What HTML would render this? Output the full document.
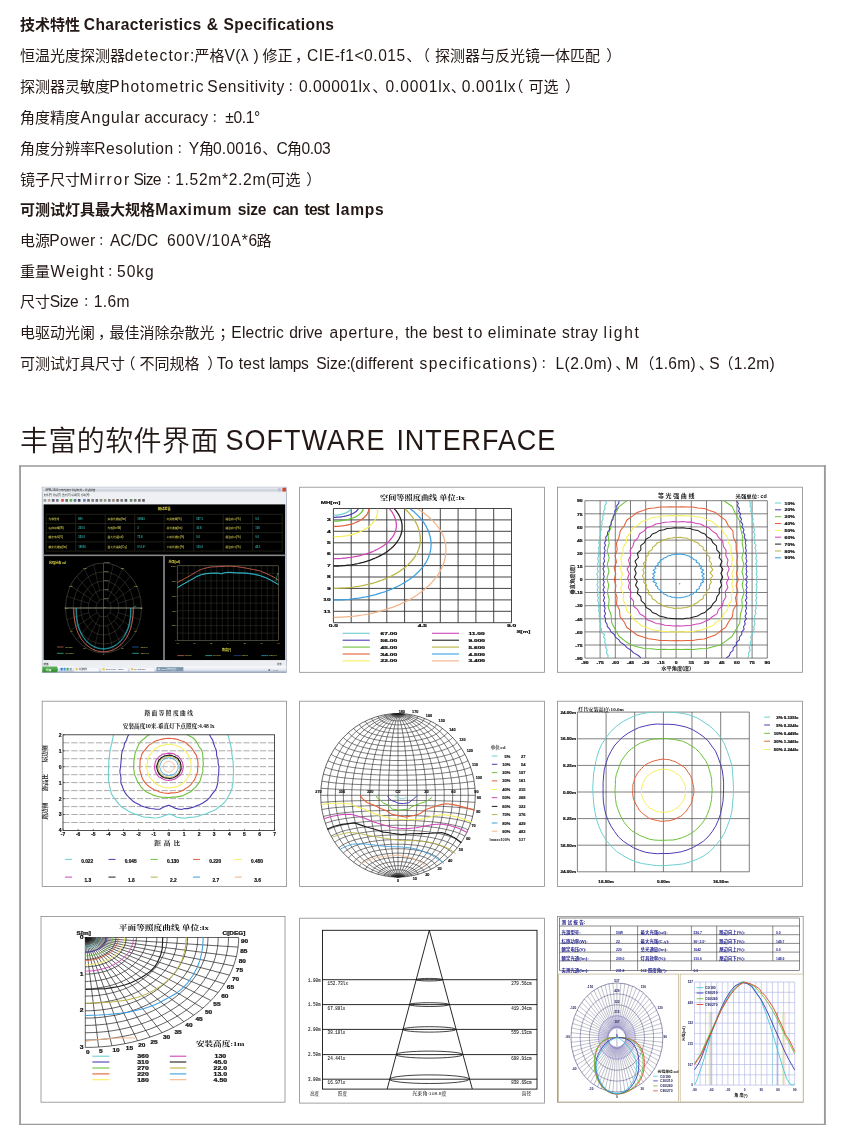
<!DOCTYPE html>
<html lang="zh-CN"><head><meta charset="utf-8"><title>技术特性 Characteristics &amp; Specifications</title>
<style>
html,body{margin:0;padding:0;background:#fff;}
body{width:847px;height:1143px;position:relative;overflow:hidden;font-family:"Liberation Sans","Noto Sans CJK SC",sans-serif;color:#231815;}
.l{position:absolute;left:0;width:847px;white-space:nowrap;font-size:15px;line-height:20px;height:20px;}
.l span,.h span{position:absolute;top:0;white-space:pre;}
.b{font-weight:700;}
.p{font-size:12px;}
.e{font-size:15.6px;}
.h{position:absolute;left:0;top:0;width:847px;white-space:nowrap;font-size:28px;line-height:40px;height:40px;}
.h .c{font-weight:350;font-size:28px;top:0.4px;letter-spacing:0.4px;}
.h .e{font-size:27px;transform:scaleY(1.065);transform-origin:0 29.36px;}
svg{position:absolute;left:0;top:0;}
</style></head>
<body>
<div class="l b" style="top:15.4px"><span style="left:20.0px">技术特性</span> <span class="e" style="left:83.86px;letter-spacing:0.323px">Characteristics</span> <span class="e" style="left:206.67px;letter-spacing:0.000px">&amp;</span> <span class="e" style="left:223.52px;letter-spacing:0.364px">Specifications</span></div>
<div class="l" style="top:46.3px"><span style="left:20.0px">恒温光度探测器</span><span class="e" style="left:124.72px;letter-spacing:1.109px">detector:</span><span style="left:194.5px">严格</span><span class="e" style="left:224.50px;letter-spacing:0.340px">V(λ )</span><span style="left:262.5px">修正</span><span style="left:295.00px">，</span><span class="e" style="left:307.06px;letter-spacing:0.535px">CIE-f1&lt;0.015</span><span style="left:406.25px">、</span><span style="left:415.00px">（</span><span style="left:435.0px">探测器与反光镜一体匹配</span><span style="left:606.25px">）</span></div>
<div class="l" style="top:77.3px"><span style="left:20.0px">探测器灵敏度</span><span class="e" style="left:109.31px;letter-spacing:1.097px">Photometric</span> <span class="e" style="left:207.32px;letter-spacing:0.676px">Sensitivity</span><span class="p" style="left:287.80px">：</span><span class="e" style="left:298.99px;letter-spacing:0.457px">0.00001lx</span><span style="left:372.25px">、</span><span class="e" style="left:385.49px;letter-spacing:0.847px">0.0001lx</span><span style="left:450.75px">、</span><span class="e" style="left:461.79px;letter-spacing:0.566px">0.001lx</span><span style="left:508.50px">（</span><span style="left:528.5px">可选</span><span style="left:564.95px">）</span></div>
<div class="l" style="top:108.3px"><span style="left:20.0px">角度精度</span><span class="e" style="left:80.50px;letter-spacing:0.922px">Angular</span> <span class="e" style="left:144.28px;letter-spacing:0.185px">accuracy</span><span class="p" style="left:211.80px">：</span><span class="e" style="left:225.19px;letter-spacing:-0.347px">±0.1°</span></div>
<div class="l" style="top:139.4px"><span style="left:20.0px">角度分辨率</span><span class="e" style="left:94.21px;letter-spacing:0.599px">Resolution</span><span class="p" style="left:176.80px">：</span><span class="e" style="left:188.80px;letter-spacing:0.000px">Y</span><span style="left:199.0px">角</span><span class="e" style="left:212.99px;letter-spacing:0.218px">0.0016</span><span style="left:262.25px">、</span><span class="e" style="left:276.62px;letter-spacing:0.000px">C</span><span style="left:287.0px">角</span><span class="e" style="left:301.49px;letter-spacing:-0.355px">0.03</span></div>
<div class="l" style="top:169.9px"><span style="left:20.0px">镜子尺寸</span><span class="e" style="left:79.41px;letter-spacing:1.811px">Mirror</span> <span class="e" style="left:133.52px;letter-spacing:-0.828px">Size</span><span class="p" style="left:165.80px">：</span><span class="e" style="left:175.21px;letter-spacing:0.679px">1.52m*2.2m(</span><span style="left:270.5px">可选</span><span style="left:306.25px">）</span></div>
<div class="l b" style="top:200.4px"><span style="left:20.0px">可测试灯具最大规格</span><span class="e" style="left:155.21px;letter-spacing:0.690px">Maximum</span> <span class="e" style="left:237.83px;letter-spacing:-0.312px">size</span> <span class="e" style="left:272.78px;letter-spacing:-0.485px">can</span> <span class="e" style="left:304.59px;letter-spacing:-0.847px">test</span> <span class="e" style="left:335.81px;letter-spacing:0.698px">lamps</span></div>
<div class="l" style="top:231.4px"><span style="left:20.0px">电源</span><span class="e" style="left:49.21px;letter-spacing:0.468px">Power</span><span class="p" style="left:98.30px">：</span><span class="e" style="left:110.00px;letter-spacing:-0.063px">AC/DC</span> <span class="e" style="left:166.88px;letter-spacing:0.795px">600V/10A*6</span><span style="left:256.5px">路</span></div>
<div class="l" style="top:261.9px"><span style="left:20.0px">重量</span><span class="e" style="left:50.50px;letter-spacing:1.003px">Weight</span><span class="p" style="left:107.30px">：</span><span class="e" style="left:117.06px;letter-spacing:0.963px">50kg</span></div>
<div class="l" style="top:292.4px"><span style="left:20.0px">尺寸</span><span class="e" style="left:49.72px;letter-spacing:-0.428px">Size</span><span class="p" style="left:83.30px">：</span><span class="e" style="left:93.71px;letter-spacing:0.368px">1.6m</span></div>
<div class="l" style="top:322.9px"><span style="left:20.0px">电驱动光阑</span><span style="left:98.00px">，</span><span style="left:109.5px">最佳消除杂散光</span><span style="left:219.25px">；</span><span class="e" style="left:231.31px;letter-spacing:0.193px">Electric</span> <span class="e" style="left:289.22px;letter-spacing:-0.063px">drive</span> <span class="e" style="left:329.38px;letter-spacing:0.873px">aperture,</span> <span class="e" style="left:405.19px;letter-spacing:0.302px">the</span> <span class="e" style="left:432.71px;letter-spacing:0.196px">best</span> <span class="e" style="left:467.69px;letter-spacing:1.676px">to</span> <span class="e" style="left:487.68px;letter-spacing:0.787px">eliminate</span> <span class="e" style="left:561.93px;letter-spacing:0.513px">stray</span> <span class="e" style="left:603.61px;letter-spacing:1.641px">light</span></div>
<div class="l" style="top:353.9px"><span style="left:20.0px">可测试灯具尺寸</span><span style="left:120.50px">（</span><span style="left:139.5px">不同规格</span><span style="left:207.25px">）</span><span class="e" style="left:216.73px;letter-spacing:0.176px">To</span> <span class="e" style="left:238.69px;letter-spacing:0.250px">test</span> <span class="e" style="left:268.91px;letter-spacing:-0.434px">lamps</span> <span class="e" style="left:316.22px;letter-spacing:-0.028px">Size:</span> <span class="e" style="left:349.91px;letter-spacing:0.234px">(different</span> <span class="e" style="left:419.53px;letter-spacing:1.367px">specifications)</span><span class="p" style="left:540.80px">：</span><span class="e" style="left:555.41px;letter-spacing:0.523px">L(2.0m)</span><span style="left:615.25px">、</span><span class="e" style="left:625.60px;letter-spacing:0.000px">M</span><span style="left:639.50px">（</span><span class="e" style="left:654.71px;letter-spacing:0.300px">1.6m)</span><span style="left:698.75px">、</span><span class="e" style="left:709.30px;letter-spacing:0.000px">S</span><span style="left:718.50px">（</span><span class="e" style="left:733.71px;letter-spacing:0.300px">1.2m)</span></div>
<div class="h" style="top:421.3px"><span class="c" style="left:20.0px">丰富的软件界面</span> <span class="e" style="left:225.45px;letter-spacing:1.014px">SOFTWARE</span> <span class="e" style="left:396.40px;letter-spacing:0.915px">INTERFACE</span></div>
<svg width="847" height="1143" viewBox="0 0 847 1143" font-family="'Liberation Sans','Noto Sans CJK SC',sans-serif" font-weight="700">
<path d="M20.05 465.35V1124.95" stroke="#9a9a9a" stroke-width="1.8" fill="none"/>
<path d="M19.15 466.1H825.85" stroke="#9a9a9a" stroke-width="1.5" fill="none"/>
<path d="M824.9 465.35V1124.95" stroke="#9a9a9a" stroke-width="1.9" fill="none"/>
<path d="M19.15 1124.4H825.85" stroke="#9a9a9a" stroke-width="1.1" fill="none"/>
<g id="p1">
<defs><linearGradient id="tb" x1="0" y1="0" x2="0" y2="1"><stop offset="0" stop-color="#f4f6f9"/><stop offset="0.5" stop-color="#c9ced8"/><stop offset="1" stop-color="#e6e9ee"/></linearGradient><linearGradient id="tk" x1="0" y1="0" x2="0" y2="1"><stop offset="0" stop-color="#fbfcfe"/><stop offset="0.5" stop-color="#e6eaf2"/><stop offset="1" stop-color="#c4ccdc"/></linearGradient><linearGradient id="sb" x1="0" y1="0" x2="0" y2="1"><stop offset="0" stop-color="#5fb85c"/><stop offset="1" stop-color="#2f8a2f"/></linearGradient></defs>
<rect x="42.2" y="487.2" width="244.4" height="185.2" fill="#eef0f3" stroke="#9aa3b4" stroke-width="0.7"/>
<rect x="42.6" y="487.59999999999997" width="243.6" height="4.8" fill="url(#tb)"/>
<text transform="translate(45.2 491.2) scale(0.1 0.1)" font-size="27" fill="#222" text-anchor="start" font-weight="400">GPM-1600分布光度计测试软件 - 测试报告</text>
<rect x="278" y="488" width="2.8" height="3.4" rx="0.5" fill="#b9c6de"/>
<rect x="282.4" y="487.8" width="3.6" height="3.8" rx="0.6" fill="#d9452f"/>
<text transform="translate(43.5 496.3) scale(0.1 0.1)" font-size="26" fill="#333" text-anchor="start" font-weight="400">文件(F)  测试(T)  显示(V)  设置(S)  帮助(H)</text>
<rect x="43.6" y="499" width="2.6" height="2.8" rx="0.5" fill="#888" opacity="0.85"/>
<rect x="47.8" y="499" width="2.6" height="2.8" rx="0.5" fill="#a98" opacity="0.85"/>
<rect x="51.9" y="499" width="2.6" height="2.8" rx="0.5" fill="#446" opacity="0.85"/>
<rect x="56.0" y="499" width="2.6" height="2.8" rx="0.5" fill="#665" opacity="0.85"/>
<rect x="61.2" y="499" width="2.6" height="2.8" rx="0.5" fill="#c33" opacity="0.85"/>
<rect x="65.4" y="499" width="2.6" height="2.8" rx="0.5" fill="#553" opacity="0.85"/>
<rect x="69.6" y="499" width="2.6" height="2.8" rx="0.5" fill="#3a3" opacity="0.85"/>
<rect x="73.7" y="499" width="2.6" height="2.8" rx="0.5" fill="#557" opacity="0.85"/>
<rect x="77.9" y="499" width="2.6" height="2.8" rx="0.5" fill="#334" opacity="0.85"/>
<rect x="83.1" y="499" width="2.6" height="2.8" rx="0.5" fill="#46a" opacity="0.85"/>
<rect x="87.2" y="499" width="2.6" height="2.8" rx="0.5" fill="#555" opacity="0.85"/>
<rect x="91.4" y="499" width="2.6" height="2.8" rx="0.5" fill="#666" opacity="0.85"/>
<rect x="95.5" y="499" width="2.6" height="2.8" rx="0.5" fill="#555" opacity="0.85"/>
<rect x="99.7" y="499" width="2.6" height="2.8" rx="0.5" fill="#777" opacity="0.85"/>
<rect x="103.8" y="499" width="2.6" height="2.8" rx="0.5" fill="#886" opacity="0.85"/>
<rect x="108.0" y="499" width="2.6" height="2.8" rx="0.5" fill="#667" opacity="0.85"/>
<rect x="112.1" y="499" width="2.6" height="2.8" rx="0.5" fill="#876" opacity="0.85"/>
<rect x="116.3" y="499" width="2.6" height="2.8" rx="0.5" fill="#555" opacity="0.85"/>
<rect x="120.4" y="499" width="2.6" height="2.8" rx="0.5" fill="#666" opacity="0.85"/>
<rect x="124.6" y="499" width="2.6" height="2.8" rx="0.5" fill="#444" opacity="0.85"/>
<rect x="129.8" y="499" width="2.6" height="2.8" rx="0.5" fill="#575" opacity="0.85"/>
<rect x="133.9" y="499" width="2.6" height="2.8" rx="0.5" fill="#666" opacity="0.85"/>
<rect x="138.1" y="499" width="2.6" height="2.8" rx="0.5" fill="#555" opacity="0.85"/>
<rect x="142.2" y="499" width="2.6" height="2.8" rx="0.5" fill="#444" opacity="0.85"/>
<rect x="43.6" y="504.4" width="241.6" height="155.8" fill="#000"/>
<rect x="43.6" y="554.6" width="241.6" height="1.5" fill="#8d8d8d"/>
<rect x="163.2" y="555.4" width="1.6" height="104.8" fill="#8d8d8d"/>
<line x1="46.2" y1="514.3" x2="282.2" y2="514.3" stroke="#3e3e30" stroke-width="0.5"/>
<line x1="46.2" y1="523.5" x2="282.2" y2="523.5" stroke="#3e3e30" stroke-width="0.5"/>
<line x1="46.2" y1="532.7" x2="282.2" y2="532.7" stroke="#3e3e30" stroke-width="0.5"/>
<line x1="46.2" y1="541.9" x2="282.2" y2="541.9" stroke="#3e3e30" stroke-width="0.5"/>
<line x1="46.2" y1="551.1" x2="282.2" y2="551.1" stroke="#3e3e30" stroke-width="0.5"/>
<line x1="46.2" y1="514.3" x2="46.2" y2="551.1" stroke="#3e3e30" stroke-width="0.5"/>
<line x1="75.7" y1="514.3" x2="75.7" y2="551.1" stroke="#3e3e30" stroke-width="0.5"/>
<line x1="105.2" y1="514.3" x2="105.2" y2="551.1" stroke="#3e3e30" stroke-width="0.5"/>
<line x1="134.7" y1="514.3" x2="134.7" y2="551.1" stroke="#3e3e30" stroke-width="0.5"/>
<line x1="164.2" y1="514.3" x2="164.2" y2="551.1" stroke="#3e3e30" stroke-width="0.5"/>
<line x1="193.7" y1="514.3" x2="193.7" y2="551.1" stroke="#3e3e30" stroke-width="0.5"/>
<line x1="223.2" y1="514.3" x2="223.2" y2="551.1" stroke="#3e3e30" stroke-width="0.5"/>
<line x1="252.7" y1="514.3" x2="252.7" y2="551.1" stroke="#3e3e30" stroke-width="0.5"/>
<line x1="282.2" y1="514.3" x2="282.2" y2="551.1" stroke="#3e3e30" stroke-width="0.5"/>
<text transform="translate(164.2 509.6) scale(0.1 0.1)" font-size="32" fill="#e6e04a" text-anchor="middle">测试报告</text>
<text transform="translate(48.6 520) scale(0.1 0.1)" font-size="27" fill="#bdb648" text-anchor="start">光源型号</text>
<text transform="translate(78.3 520) scale(0.1 0.1)" font-size="27" fill="#2fa9a4" text-anchor="start">MH</text>
<text transform="translate(48.6 529.2) scale(0.1 0.1)" font-size="27" fill="#bdb648" text-anchor="start">标称功率(W)</text>
<text transform="translate(78.3 529.2) scale(0.1 0.1)" font-size="27" fill="#2fa9a4" text-anchor="start">250.0</text>
<text transform="translate(48.6 538.4) scale(0.1 0.1)" font-size="27" fill="#bdb648" text-anchor="start">额定电压(V)</text>
<text transform="translate(78.3 538.4) scale(0.1 0.1)" font-size="27" fill="#2fa9a4" text-anchor="start">220.0</text>
<text transform="translate(48.6 547.6) scale(0.1 0.1)" font-size="27" fill="#bdb648" text-anchor="start">额定光通量(lm)</text>
<text transform="translate(78.3 547.6) scale(0.1 0.1)" font-size="27" fill="#2fa9a4" text-anchor="start">19000</text>
<text transform="translate(107.6 520) scale(0.1 0.1)" font-size="27" fill="#bdb648" text-anchor="start">实测光通量(lm)</text>
<text transform="translate(137.3 520) scale(0.1 0.1)" font-size="27" fill="#2fa9a4" text-anchor="start">10963</text>
<text transform="translate(107.6 529.2) scale(0.1 0.1)" font-size="27" fill="#bdb648" text-anchor="start">光效(lm/W)</text>
<text transform="translate(137.3 529.2) scale(0.1 0.1)" font-size="27" fill="#2fa9a4" text-anchor="start">3</text>
<text transform="translate(107.6 538.4) scale(0.1 0.1)" font-size="27" fill="#bdb648" text-anchor="start">最大光强(cd)</text>
<text transform="translate(137.3 538.4) scale(0.1 0.1)" font-size="27" fill="#2fa9a4" text-anchor="start">75.8</text>
<text transform="translate(107.6 547.6) scale(0.1 0.1)" font-size="27" fill="#bdb648" text-anchor="start">最大光强角(C,γ)</text>
<text transform="translate(137.3 547.6) scale(0.1 0.1)" font-size="27" fill="#2fa9a4" text-anchor="start">0°,0.0°</text>
<text transform="translate(166.6 520) scale(0.1 0.1)" font-size="27" fill="#bdb648" text-anchor="start">灯具效率(%)</text>
<text transform="translate(196.3 520) scale(0.1 0.1)" font-size="27" fill="#2fa9a4" text-anchor="start">597.1</text>
<text transform="translate(166.6 529.2) scale(0.1 0.1)" font-size="27" fill="#bdb648" text-anchor="start">总光通量(lm)</text>
<text transform="translate(196.3 529.2) scale(0.1 0.1)" font-size="27" fill="#2fa9a4" text-anchor="start">30.8</text>
<text transform="translate(166.6 538.4) scale(0.1 0.1)" font-size="27" fill="#bdb648" text-anchor="start">上射光通比(%)</text>
<text transform="translate(196.3 538.4) scale(0.1 0.1)" font-size="27" fill="#2fa9a4" text-anchor="start">0.0</text>
<text transform="translate(166.6 547.6) scale(0.1 0.1)" font-size="27" fill="#bdb648" text-anchor="start">下射光通比(%)</text>
<text transform="translate(196.3 547.6) scale(0.1 0.1)" font-size="27" fill="#2fa9a4" text-anchor="start">100.0</text>
<text transform="translate(225.6 520) scale(0.1 0.1)" font-size="27" fill="#bdb648" text-anchor="start">路边向上(%)</text>
<text transform="translate(255.3 520) scale(0.1 0.1)" font-size="27" fill="#2fa9a4" text-anchor="start">0.0</text>
<text transform="translate(225.6 529.2) scale(0.1 0.1)" font-size="27" fill="#bdb648" text-anchor="start">路边向下(%)</text>
<text transform="translate(255.3 529.2) scale(0.1 0.1)" font-size="27" fill="#2fa9a4" text-anchor="start">100</text>
<text transform="translate(225.6 538.4) scale(0.1 0.1)" font-size="27" fill="#bdb648" text-anchor="start">屋边向上(%)</text>
<text transform="translate(255.3 538.4) scale(0.1 0.1)" font-size="27" fill="#2fa9a4" text-anchor="start">0.0</text>
<text transform="translate(225.6 547.6) scale(0.1 0.1)" font-size="27" fill="#bdb648" text-anchor="start">屋边向下(%)</text>
<text transform="translate(255.3 547.6) scale(0.1 0.1)" font-size="27" fill="#2fa9a4" text-anchor="start">45.1</text>
<ellipse cx="103.5" cy="608.0" rx="7.6" ry="9" fill="none" stroke="#5a5a50" stroke-width="0.4"/>
<ellipse cx="103.5" cy="608.0" rx="15.2" ry="18" fill="none" stroke="#5a5a50" stroke-width="0.4"/>
<ellipse cx="103.5" cy="608.0" rx="22.8" ry="27" fill="none" stroke="#5a5a50" stroke-width="0.4"/>
<ellipse cx="103.5" cy="608.0" rx="30.4" ry="36" fill="none" stroke="#5a5a50" stroke-width="0.4"/>
<ellipse cx="103.5" cy="608.0" rx="38" ry="45" fill="none" stroke="#5a5a50" stroke-width="0.55"/>
<line x1="103.5" y1="608" x2="103.5" y2="563" stroke="#5a5a50" stroke-width="0.35"/>
<line x1="107.4" y1="590.6" x2="113.3" y2="564.5" stroke="#5a5a50" stroke-width="0.35"/>
<line x1="107.3" y1="600.2" x2="122.5" y2="569" stroke="#5a5a50" stroke-width="0.35"/>
<line x1="114.2" y1="595.3" x2="130.4" y2="576.2" stroke="#5a5a50" stroke-width="0.35"/>
<line x1="110.1" y1="603.5" x2="136.4" y2="585.5" stroke="#5a5a50" stroke-width="0.35"/>
<line x1="118.2" y1="603.3" x2="140.2" y2="596.4" stroke="#5a5a50" stroke-width="0.35"/>
<line x1="103.5" y1="608" x2="141.5" y2="608" stroke="#5a5a50" stroke-width="0.35"/>
<line x1="118.2" y1="612.7" x2="140.2" y2="619.6" stroke="#5a5a50" stroke-width="0.35"/>
<line x1="110.1" y1="612.5" x2="136.4" y2="630.5" stroke="#5a5a50" stroke-width="0.35"/>
<line x1="114.2" y1="620.7" x2="130.4" y2="639.8" stroke="#5a5a50" stroke-width="0.35"/>
<line x1="107.3" y1="615.8" x2="122.5" y2="647" stroke="#5a5a50" stroke-width="0.35"/>
<line x1="107.4" y1="625.4" x2="113.3" y2="651.5" stroke="#5a5a50" stroke-width="0.35"/>
<line x1="103.5" y1="608" x2="103.5" y2="653" stroke="#5a5a50" stroke-width="0.35"/>
<line x1="99.6" y1="625.4" x2="93.7" y2="651.5" stroke="#5a5a50" stroke-width="0.35"/>
<line x1="99.7" y1="615.8" x2="84.5" y2="647" stroke="#5a5a50" stroke-width="0.35"/>
<line x1="92.8" y1="620.7" x2="76.6" y2="639.8" stroke="#5a5a50" stroke-width="0.35"/>
<line x1="96.9" y1="612.5" x2="70.6" y2="630.5" stroke="#5a5a50" stroke-width="0.35"/>
<line x1="88.8" y1="612.7" x2="66.8" y2="619.6" stroke="#5a5a50" stroke-width="0.35"/>
<line x1="103.5" y1="608" x2="65.5" y2="608" stroke="#5a5a50" stroke-width="0.35"/>
<line x1="88.8" y1="603.3" x2="66.8" y2="596.4" stroke="#5a5a50" stroke-width="0.35"/>
<line x1="96.9" y1="603.5" x2="70.6" y2="585.5" stroke="#5a5a50" stroke-width="0.35"/>
<line x1="92.8" y1="595.3" x2="76.6" y2="576.2" stroke="#5a5a50" stroke-width="0.35"/>
<line x1="99.7" y1="600.2" x2="84.5" y2="569" stroke="#5a5a50" stroke-width="0.35"/>
<line x1="99.6" y1="590.6" x2="93.7" y2="564.5" stroke="#5a5a50" stroke-width="0.35"/>
<line x1="64.5" y1="608" x2="142.5" y2="608" stroke="#cfcbb0" stroke-width="0.6"/>
<line x1="103.5" y1="563" x2="103.5" y2="653" stroke="#77756a" stroke-width="0.4"/>
<path d="M73.8 608 L73.9 613 L74.2 617.1 L74.6 620.7 L75.3 624.1 L76.1 627.4 L77 630.4 L78.2 633.2 L79.5 635.9 L80.9 638.3 L82.5 640.6 L84.2 642.7 L86 644.6 L88 646.2 L90 647.7 L92.1 648.9 L94.3 650 L96.6 650.8 L98.9 651.3 L101.2 651.7 L103.5 651.8 L105.8 651.7 L108.1 651.3 L110.4 650.8 L112.7 650 L114.9 648.9 L117 647.7 L119 646.2 L121 644.6 L122.8 642.7 L124.5 640.6 L126.1 638.3 L127.5 635.9 L128.8 633.2 L130 630.4 L130.9 627.4 L131.7 624.1 L132.4 620.7 L132.8 617.1 L133.1 613 L133.2 608" fill="none" stroke="#d86a55" stroke-width="0.9" stroke-linejoin="round"/>
<path d="M76 608 L76.1 612.7 L76.3 616.5 L76.8 619.9 L77.3 623.1 L78.1 626.2 L79 629 L80.1 631.7 L81.3 634.2 L82.6 636.5 L84.1 638.6 L85.6 640.6 L87.3 642.3 L89.1 643.9 L91 645.3 L93 646.4 L95 647.4 L97.1 648.1 L99.2 648.7 L101.3 649 L103.5 649.1 L105.7 649 L107.8 648.7 L109.9 648.1 L112 647.4 L114 646.4 L116 645.3 L117.9 643.9 L119.7 642.3 L121.4 640.6 L122.9 638.6 L124.4 636.5 L125.7 634.2 L126.9 631.7 L128 629 L128.9 626.2 L129.7 623.1 L130.2 619.9 L130.7 616.5 L130.9 612.7 L131 608" fill="none" stroke="#2aa7c9" stroke-width="0.75" stroke-linejoin="round"/>
<path d="M76.5 608 L76.6 612.7 L76.8 616.4 L77.2 619.8 L77.8 622.9 L78.6 625.9 L79.4 628.7 L80.5 631.3 L81.7 633.8 L83 636.1 L84.4 638.2 L86 640.1 L87.6 641.8 L89.4 643.4 L91.2 644.7 L93.2 645.9 L95.2 646.8 L97.2 647.5 L99.3 648.1 L101.4 648.4 L103.5 648.5 L105.6 648.4 L107.7 648.1 L109.8 647.5 L111.8 646.8 L113.8 645.9 L115.8 644.7 L117.6 643.4 L119.4 641.8 L121 640.1 L122.6 638.2 L124 636.1 L125.3 633.8 L126.5 631.3 L127.6 628.7 L128.4 625.9 L129.2 622.9 L129.8 619.8 L130.2 616.4 L130.4 612.7 L130.5 608" fill="none" stroke="#35c9c0" stroke-width="0.5" stroke-linejoin="round"/>
<path d="M133.2 608 L134.2 606.6 L136.2 606" fill="none" stroke="#35c9c0" stroke-width="0.5" stroke-linejoin="round"/>
<text transform="translate(48.9 564.3) scale(0.1 0.1)" font-size="31" fill="#e6e04a" text-anchor="start">光强分布 cd</text>
<text transform="translate(104.3 607.6) scale(0.1 0.1)" font-size="19" fill="#cfcf9a" text-anchor="start" font-weight="400">0</text>
<text transform="translate(104.3 598.6) scale(0.1 0.1)" font-size="19" fill="#cfcf9a" text-anchor="start" font-weight="400">2000</text>
<text transform="translate(104.3 589.6) scale(0.1 0.1)" font-size="19" fill="#cfcf9a" text-anchor="start" font-weight="400">4000</text>
<text transform="translate(104.3 580.6) scale(0.1 0.1)" font-size="19" fill="#cfcf9a" text-anchor="start" font-weight="400">6000</text>
<text transform="translate(104.3 571.6) scale(0.1 0.1)" font-size="19" fill="#cfcf9a" text-anchor="start" font-weight="400">8000</text>
<text transform="translate(104.3 562.6) scale(0.1 0.1)" font-size="19" fill="#cfcf9a" text-anchor="start" font-weight="400">10000</text>
<text transform="translate(85 569) scale(0.1 0.1)" font-size="22" fill="#d9d24a" text-anchor="middle" font-weight="400">150</text>
<text transform="translate(122.5 569) scale(0.1 0.1)" font-size="22" fill="#d9d24a" text-anchor="middle" font-weight="400">150</text>
<text transform="translate(71 587) scale(0.1 0.1)" font-size="22" fill="#d9d24a" text-anchor="middle" font-weight="400">120</text>
<text transform="translate(136 587) scale(0.1 0.1)" font-size="22" fill="#d9d24a" text-anchor="middle" font-weight="400">120</text>
<text transform="translate(66.5 609) scale(0.1 0.1)" font-size="22" fill="#d9d24a" text-anchor="middle" font-weight="400">90</text>
<text transform="translate(141 609) scale(0.1 0.1)" font-size="22" fill="#d9d24a" text-anchor="middle" font-weight="400">90</text>
<text transform="translate(71.5 632) scale(0.1 0.1)" font-size="22" fill="#d9d24a" text-anchor="middle" font-weight="400">60</text>
<text transform="translate(135.5 632) scale(0.1 0.1)" font-size="22" fill="#d9d24a" text-anchor="middle" font-weight="400">60</text>
<text transform="translate(84.5 648.6) scale(0.1 0.1)" font-size="22" fill="#d9d24a" text-anchor="middle" font-weight="400">30</text>
<text transform="translate(122.5 648.6) scale(0.1 0.1)" font-size="22" fill="#d9d24a" text-anchor="middle" font-weight="400">30</text>
<text transform="translate(103.5 655) scale(0.1 0.1)" font-size="22" fill="#d9d24a" text-anchor="middle" font-weight="400">0</text>
<line x1="57" y1="647" x2="63.6" y2="647" stroke="#d86a55" stroke-width="0.7"/>
<text transform="translate(65.2 647.9) scale(0.1 0.1)" font-size="23" fill="#d9d24a" text-anchor="start" font-weight="400">C0/180</text>
<line x1="57" y1="653.3" x2="63.6" y2="653.3" stroke="#35c9a0" stroke-width="0.7"/>
<text transform="translate(65.2 654.2) scale(0.1 0.1)" font-size="23" fill="#d9d24a" text-anchor="start" font-weight="400">C90/270</text>
<line x1="132.2" y1="647" x2="138.8" y2="647" stroke="#2a6fd0" stroke-width="0.7"/>
<text transform="translate(140.4 647.9) scale(0.1 0.1)" font-size="23" fill="#d9d24a" text-anchor="start" font-weight="400">C180/0</text>
<line x1="132.2" y1="653.3" x2="138.8" y2="653.3" stroke="#35c9c0" stroke-width="0.7"/>
<text transform="translate(140.4 654.2) scale(0.1 0.1)" font-size="23" fill="#d9d24a" text-anchor="start" font-weight="400">C270/90</text>
<line x1="177.3" y1="565.8" x2="177.3" y2="640.6" stroke="#4a4a40" stroke-width="0.35"/>
<line x1="182.9" y1="565.8" x2="182.9" y2="640.6" stroke="#4a4a40" stroke-width="0.35"/>
<line x1="188.5" y1="565.8" x2="188.5" y2="640.6" stroke="#4a4a40" stroke-width="0.35"/>
<line x1="194.2" y1="565.8" x2="194.2" y2="640.6" stroke="#4a4a40" stroke-width="0.35"/>
<line x1="199.8" y1="565.8" x2="199.8" y2="640.6" stroke="#4a4a40" stroke-width="0.35"/>
<line x1="205.4" y1="565.8" x2="205.4" y2="640.6" stroke="#4a4a40" stroke-width="0.35"/>
<line x1="211" y1="565.8" x2="211" y2="640.6" stroke="#4a4a40" stroke-width="0.35"/>
<line x1="216.7" y1="565.8" x2="216.7" y2="640.6" stroke="#4a4a40" stroke-width="0.35"/>
<line x1="222.3" y1="565.8" x2="222.3" y2="640.6" stroke="#4a4a40" stroke-width="0.35"/>
<line x1="227.9" y1="565.8" x2="227.9" y2="640.6" stroke="#4a4a40" stroke-width="0.35"/>
<line x1="233.5" y1="565.8" x2="233.5" y2="640.6" stroke="#4a4a40" stroke-width="0.35"/>
<line x1="239.1" y1="565.8" x2="239.1" y2="640.6" stroke="#4a4a40" stroke-width="0.35"/>
<line x1="244.8" y1="565.8" x2="244.8" y2="640.6" stroke="#4a4a40" stroke-width="0.35"/>
<line x1="250.4" y1="565.8" x2="250.4" y2="640.6" stroke="#4a4a40" stroke-width="0.35"/>
<line x1="256" y1="565.8" x2="256" y2="640.6" stroke="#4a4a40" stroke-width="0.35"/>
<line x1="261.6" y1="565.8" x2="261.6" y2="640.6" stroke="#4a4a40" stroke-width="0.35"/>
<line x1="267.3" y1="565.8" x2="267.3" y2="640.6" stroke="#4a4a40" stroke-width="0.35"/>
<line x1="272.9" y1="565.8" x2="272.9" y2="640.6" stroke="#4a4a40" stroke-width="0.35"/>
<line x1="278.5" y1="565.8" x2="278.5" y2="640.6" stroke="#4a4a40" stroke-width="0.35"/>
<line x1="177.3" y1="565.8" x2="278.5" y2="565.8" stroke="#4a4a40" stroke-width="0.35"/>
<line x1="177.3" y1="573.3" x2="278.5" y2="573.3" stroke="#4a4a40" stroke-width="0.35"/>
<line x1="177.3" y1="580.8" x2="278.5" y2="580.8" stroke="#4a4a40" stroke-width="0.35"/>
<line x1="177.3" y1="588.2" x2="278.5" y2="588.2" stroke="#4a4a40" stroke-width="0.35"/>
<line x1="177.3" y1="595.7" x2="278.5" y2="595.7" stroke="#4a4a40" stroke-width="0.35"/>
<line x1="177.3" y1="603.2" x2="278.5" y2="603.2" stroke="#4a4a40" stroke-width="0.35"/>
<line x1="177.3" y1="610.7" x2="278.5" y2="610.7" stroke="#4a4a40" stroke-width="0.35"/>
<line x1="177.3" y1="618.2" x2="278.5" y2="618.2" stroke="#4a4a40" stroke-width="0.35"/>
<line x1="177.3" y1="625.6" x2="278.5" y2="625.6" stroke="#4a4a40" stroke-width="0.35"/>
<line x1="177.3" y1="633.1" x2="278.5" y2="633.1" stroke="#4a4a40" stroke-width="0.35"/>
<line x1="177.3" y1="640.6" x2="278.5" y2="640.6" stroke="#4a4a40" stroke-width="0.35"/>
<rect x="177.3" y="565.8" width="101.2" height="74.8" fill="none" stroke="#77775f" stroke-width="0.45"/>
<path d="M177.3 587.8 L183 584.4 L190.7 580.1 L196.8 576.6 L201.4 574.7 L206 573.8 L210.7 573.3 L218.3 573.2 L221.4 573.9 L224.5 572.9 L229.1 572.4 L236.7 573 L246 573.2 L253.6 574.3 L259.8 575.6 L265.9 577.9 L270.5 580.1 L275.1 582.7 L278.5 584.7" fill="none" stroke="#2aa7c9" stroke-width="1.0" stroke-linejoin="round"/>
<path d="M177.3 587.5 L183 584.1 L190.7 579.8 L196.8 576.2 L201.4 574.4 L206 573.5 L210.7 573 L218.3 572.9 L221.4 573.6 L224.5 572.6 L229.1 572.1 L236.7 572.7 L246 572.9 L253.6 573.9 L259.8 575.3 L265.9 577.6 L270.5 579.8 L275.1 582.4 L278.5 584.4" fill="none" stroke="#35c9c0" stroke-width="0.5" stroke-linejoin="round"/>
<path d="M177.3 582.5 L183 579.5 L190.7 575.3 L196.8 571.5 L201.4 569.3 L206 568 L210.7 567 L219.9 566.6 L229.1 566.1 L236.7 566.6 L246 568.1 L253.6 569.6 L259.8 570.9 L265.9 573.3 L270.5 575.5 L275.1 577.9 L278.5 580.2" fill="none" stroke="#d86a55" stroke-width="0.8" stroke-linejoin="round"/>
<path d="M275.9 581.5 L277 576.1 L277.9 573 L278.5 574.3" fill="none" stroke="#35c99a" stroke-width="0.5" stroke-linejoin="round"/>
<text transform="translate(168.4 563) scale(0.1 0.1)" font-size="30" fill="#e6e04a" text-anchor="start">光强(cd)</text>
<text transform="translate(226.5 650.6) scale(0.1 0.1)" font-size="30" fill="#e6e04a" text-anchor="middle">角度(°)</text>
<text transform="translate(177.3 643.8) scale(0.1 0.1)" font-size="22" fill="#d9d24a" text-anchor="middle" font-weight="400">-90</text>
<text transform="translate(194.2 643.8) scale(0.1 0.1)" font-size="22" fill="#d9d24a" text-anchor="middle" font-weight="400">-60</text>
<text transform="translate(211 643.8) scale(0.1 0.1)" font-size="22" fill="#d9d24a" text-anchor="middle" font-weight="400">-30</text>
<text transform="translate(227.9 643.8) scale(0.1 0.1)" font-size="22" fill="#d9d24a" text-anchor="middle" font-weight="400">0</text>
<text transform="translate(244.8 643.8) scale(0.1 0.1)" font-size="22" fill="#d9d24a" text-anchor="middle" font-weight="400">30</text>
<text transform="translate(261.6 643.8) scale(0.1 0.1)" font-size="22" fill="#d9d24a" text-anchor="middle" font-weight="400">60</text>
<text transform="translate(278.5 643.8) scale(0.1 0.1)" font-size="22" fill="#d9d24a" text-anchor="middle" font-weight="400">90</text>
<text transform="translate(176.3 566.6) scale(0.1 0.1)" font-size="20" fill="#d9d24a" text-anchor="end" font-weight="400">10000</text>
<text transform="translate(176.3 581.6) scale(0.1 0.1)" font-size="20" fill="#d9d24a" text-anchor="end" font-weight="400">8000</text>
<text transform="translate(176.3 596.5) scale(0.1 0.1)" font-size="20" fill="#d9d24a" text-anchor="end" font-weight="400">6000</text>
<text transform="translate(176.3 611.5) scale(0.1 0.1)" font-size="20" fill="#d9d24a" text-anchor="end" font-weight="400">4000</text>
<text transform="translate(176.3 626.4) scale(0.1 0.1)" font-size="20" fill="#d9d24a" text-anchor="end" font-weight="400">2000</text>
<text transform="translate(176.3 641.4) scale(0.1 0.1)" font-size="20" fill="#d9d24a" text-anchor="end" font-weight="400">0</text>
<line x1="177.3" y1="655.6" x2="184.3" y2="655.6" stroke="#d86a55" stroke-width="0.7"/>
<text transform="translate(184.9 656.4) scale(0.1 0.1)" font-size="21" fill="#d9d24a" text-anchor="start" font-weight="400">C0/180</text>
<line x1="205.3" y1="655.6" x2="212.3" y2="655.6" stroke="#35c9c0" stroke-width="0.7"/>
<text transform="translate(212.9 656.4) scale(0.1 0.1)" font-size="21" fill="#d9d24a" text-anchor="start" font-weight="400">C90/270</text>
<line x1="233.7" y1="655.6" x2="240.7" y2="655.6" stroke="#2a4fa0" stroke-width="0.7"/>
<text transform="translate(241.3 656.4) scale(0.1 0.1)" font-size="21" fill="#d9d24a" text-anchor="start" font-weight="400">C180/0</text>
<line x1="261.3" y1="655.6" x2="268.3" y2="655.6" stroke="#2aa7c9" stroke-width="0.7"/>
<text transform="translate(268.9 656.4) scale(0.1 0.1)" font-size="21" fill="#d9d24a" text-anchor="start" font-weight="400">C270/90</text>
<rect x="42.6" y="660.2" width="243.6" height="6.2" fill="#eceef2"/>
<text transform="translate(43.4 664.8) scale(0.1 0.1)" font-size="25" fill="#222" text-anchor="start" font-weight="400">就绪</text>
<text transform="translate(277.2 664.6) scale(0.1 0.1)" font-size="23" fill="#333" text-anchor="start" font-weight="400">数字</text>
<rect x="42.4" y="666.4" width="244" height="5.9" fill="url(#tk)"/>
<rect x="42.4" y="671.7" width="244" height="0.7" fill="#7a8aa8"/>
<path d="M42.4 666.4h14.4q2.2 2.9 0 5.9h-14.4z" fill="url(#sb)"/>
<text transform="translate(45.4 670.7) scale(0.1 0.1)" font-size="28" fill="#fff" text-anchor="start" font-style="italic">开始</text>
<rect x="60.6" y="667.7" width="2" height="2.8" rx="0.6" fill="#2d7fd8"/>
<rect x="63.6" y="667.7" width="2" height="2.8" rx="0.6" fill="#3f9ae8"/>
<rect x="66.6" y="667.7" width="2" height="2.8" rx="0.6" fill="#5aa84a"/>
<rect x="69.8" y="667.7" width="2" height="2.8" rx="0.6" fill="#9aa8c8"/>
<rect x="74" y="667.1" width="25" height="4.4" rx="0.6" fill="#f6f8fc" stroke="#c2cadb" stroke-width="0.3"/>
<rect x="75.4" y="668.2" width="2.4" height="2" fill="#e8c84a"/>
<text transform="translate(78.8 670.4) scale(0.1 0.1)" font-size="21" fill="#222" text-anchor="start" font-weight="400">测试软件</text>
<rect x="101" y="667.1" width="27" height="4.4" rx="0.6" fill="#f6f8fc" stroke="#c2cadb" stroke-width="0.3"/>
<rect x="102.4" y="668.2" width="2.4" height="2" fill="#e8c84a"/>
<text transform="translate(105.8 670.4) scale(0.1 0.1)" font-size="21" fill="#222" text-anchor="start" font-weight="400">GPM-1600 - Micro...</text>
<rect x="129.5" y="667.1" width="25" height="4.4" rx="0.6" fill="#f6f8fc" stroke="#c2cadb" stroke-width="0.3"/>
<rect x="130.9" y="668.2" width="2.4" height="2" fill="#e8c84a"/>
<text transform="translate(134.3 670.4) scale(0.1 0.1)" font-size="21" fill="#222" text-anchor="start" font-weight="400">My Pictures</text>
<rect x="156.4" y="667.1" width="27" height="4.4" rx="0.6" fill="#7d97ad" stroke="#c2cadb" stroke-width="0.3"/>
<rect x="157.8" y="668.2" width="2.4" height="2" fill="#b8d0e0"/>
<text transform="translate(161.2 670.4) scale(0.1 0.1)" font-size="21" fill="#fff" text-anchor="start" font-weight="400">GPM分布光度计...</text>
<text transform="translate(268 670.7) scale(0.1 0.1)" font-size="24" fill="#333" text-anchor="start" font-weight="400">◉ ◔ 9:41</text>
</g>
<rect x="299.6" y="487.2" width="244.9" height="185.1" fill="#fff" stroke="#8a8a8a" stroke-width="0.8"/>
<g id="p2">
<line x1="333.4" y1="508.5" x2="333.4" y2="622.7" stroke="#3c3c3c" stroke-width="0.95"/>
<line x1="333.4" y1="508.5" x2="511.5" y2="508.5" stroke="#3c3c3c" stroke-width="0.95"/>
<line x1="351.2" y1="508.5" x2="351.2" y2="622.7" stroke="#3c3c3c" stroke-width="0.95"/>
<line x1="333.4" y1="519.9" x2="511.5" y2="519.9" stroke="#3c3c3c" stroke-width="0.95"/>
<line x1="369" y1="508.5" x2="369" y2="622.7" stroke="#3c3c3c" stroke-width="0.95"/>
<line x1="333.4" y1="531.3" x2="511.5" y2="531.3" stroke="#3c3c3c" stroke-width="0.95"/>
<line x1="386.8" y1="508.5" x2="386.8" y2="622.7" stroke="#3c3c3c" stroke-width="0.95"/>
<line x1="333.4" y1="542.8" x2="511.5" y2="542.8" stroke="#3c3c3c" stroke-width="0.95"/>
<line x1="404.6" y1="508.5" x2="404.6" y2="622.7" stroke="#3c3c3c" stroke-width="0.95"/>
<line x1="333.4" y1="554.2" x2="511.5" y2="554.2" stroke="#3c3c3c" stroke-width="0.95"/>
<line x1="422.4" y1="508.5" x2="422.4" y2="622.7" stroke="#3c3c3c" stroke-width="0.95"/>
<line x1="333.4" y1="565.6" x2="511.5" y2="565.6" stroke="#3c3c3c" stroke-width="0.95"/>
<line x1="440.3" y1="508.5" x2="440.3" y2="622.7" stroke="#3c3c3c" stroke-width="0.95"/>
<line x1="333.4" y1="577" x2="511.5" y2="577" stroke="#3c3c3c" stroke-width="0.95"/>
<line x1="458.1" y1="508.5" x2="458.1" y2="622.7" stroke="#3c3c3c" stroke-width="0.95"/>
<line x1="333.4" y1="588.4" x2="511.5" y2="588.4" stroke="#3c3c3c" stroke-width="0.95"/>
<line x1="475.9" y1="508.5" x2="475.9" y2="622.7" stroke="#3c3c3c" stroke-width="0.95"/>
<line x1="333.4" y1="599.9" x2="511.5" y2="599.9" stroke="#3c3c3c" stroke-width="0.95"/>
<line x1="493.7" y1="508.5" x2="493.7" y2="622.7" stroke="#3c3c3c" stroke-width="0.95"/>
<line x1="333.4" y1="611.3" x2="511.5" y2="611.3" stroke="#3c3c3c" stroke-width="0.95"/>
<line x1="511.5" y1="508.5" x2="511.5" y2="622.7" stroke="#3c3c3c" stroke-width="0.95"/>
<line x1="333.4" y1="622.7" x2="511.5" y2="622.7" stroke="#3c3c3c" stroke-width="0.95"/>
<clipPath id="c2"><rect x="332.9" y="508.5" width="179.1" height="114.2"/></clipPath>
<g clip-path="url(#c2)">
<path d="M351 508.7 L350.9 508.9 L350.8 509.1 L350.7 509.3 L350.5 509.4 L350.4 509.6 L350.3 509.8 L350.1 510 L350 510.1 L349.8 510.3 L349.6 510.5 L349.4 510.6 L349.2 510.8 L349 511 L348.8 511.1 L348.6 511.3 L348.4 511.5 L348.2 511.6 L348 511.8 L347.7 511.9 L347.5 512.1 L347.2 512.2 L346.9 512.3 L346.7 512.5 L346.4 512.6 L346.1 512.7 L345.8 512.9 L345.6 513 L345.3 513.1 L345 513.2 L344.7 513.4 L344.3 513.5 L344 513.6 L343.7 513.7 L343.4 513.8 L343 513.9 L342.7 514 L342.4 514.1 L342 514.2 L341.7 514.3 L341.3 514.3 L341 514.4 L340.6 514.5 L340.2 514.6 L339.9 514.6 L339.5 514.7 L339.1 514.8 L338.7 514.8 L338.4 514.9 L338 514.9 L337.6 515 L337.2 515 L336.8 515 L336.5 515.1 L336.1 515.1 L335.7 515.1 L335.3 515.1 L334.9 515.1 L334.5 515.2 L334.1 515.2 L333.7 515.2" fill="none" stroke="#6ecfcf" stroke-width="1.25" stroke-linejoin="round"/>
<path d="M358.3 508.7 L358.2 509 L358.1 509.2 L357.9 509.4 L357.8 509.7 L357.6 509.9 L357.4 510.1 L357.2 510.4 L357 510.6 L356.8 510.8 L356.6 511 L356.3 511.3 L356.1 511.5 L355.8 511.7 L355.5 511.9 L355.2 512.1 L354.9 512.3 L354.6 512.5 L354.3 512.7 L353.9 512.9 L353.6 513.1 L353.2 513.3 L352.9 513.5 L352.5 513.7 L352.1 513.9 L351.7 514.1 L351.3 514.2 L350.9 514.4 L350.5 514.6 L350 514.7 L349.6 514.9 L349.2 515 L348.7 515.2 L348.2 515.3 L347.8 515.5 L347.3 515.6 L346.8 515.7 L346.3 515.9 L345.8 516 L345.3 516.1 L344.8 516.2 L344.3 516.3 L343.8 516.4 L343.2 516.5 L342.7 516.6 L342.2 516.7 L341.6 516.8 L341.1 516.8 L340.5 516.9 L340 517 L339.4 517 L338.8 517.1 L338.3 517.1 L337.7 517.2 L337.1 517.2 L336.6 517.2 L336 517.3 L335.4 517.3 L334.9 517.3 L334.3 517.3 L333.7 517.3" fill="none" stroke="#4b3eb5" stroke-width="1.25" stroke-linejoin="round"/>
<path d="M363.3 508.7 L363.3 509.1 L363.2 509.4 L363 509.7 L362.9 510.1 L362.8 510.4 L362.6 510.7 L362.4 511 L362.2 511.4 L362 511.7 L361.7 512 L361.5 512.3 L361.2 512.6 L360.9 512.9 L360.6 513.2 L360.3 513.5 L360 513.8 L359.6 514.1 L359.3 514.4 L358.9 514.7 L358.5 515 L358.1 515.3 L357.6 515.6 L357.2 515.8 L356.7 516.1 L356.3 516.3 L355.8 516.6 L355.3 516.8 L354.8 517.1 L354.3 517.3 L353.7 517.6 L353.2 517.8 L352.6 518 L352 518.2 L351.5 518.4 L350.9 518.6 L350.3 518.8 L349.7 519 L349 519.2 L348.4 519.3 L347.8 519.5 L347.1 519.6 L346.5 519.8 L345.8 519.9 L345.1 520.1 L344.4 520.2 L343.8 520.3 L343.1 520.4 L342.4 520.5 L341.7 520.6 L341 520.7 L340.2 520.8 L339.5 520.9 L338.8 520.9 L338.1 521 L337.4 521 L336.6 521 L335.9 521.1 L335.2 521.1 L334.4 521.1 L333.7 521.1" fill="none" stroke="#6cc23a" stroke-width="1.25" stroke-linejoin="round"/>
<path d="M368.8 508.7 L368.7 509.2 L368.7 509.6 L368.7 510.1 L368.6 510.6 L368.5 511 L368.3 511.5 L368.2 511.9 L368 512.4 L367.8 512.8 L367.6 513.3 L367.3 513.7 L367 514.2 L366.8 514.6 L366.4 515.1 L366.1 515.5 L365.7 515.9 L365.3 516.3 L364.9 516.7 L364.5 517.2 L364.1 517.6 L363.6 518 L363.1 518.4 L362.6 518.7 L362.1 519.1 L361.5 519.5 L361 519.8 L360.4 520.2 L359.8 520.6 L359.1 520.9 L358.5 521.2 L357.8 521.5 L357.2 521.9 L356.5 522.2 L355.8 522.5 L355.1 522.8 L354.3 523 L353.6 523.3 L352.8 523.6 L352 523.8 L351.2 524 L350.4 524.3 L349.6 524.5 L348.8 524.7 L348 524.9 L347.1 525.1 L346.3 525.2 L345.4 525.4 L344.5 525.5 L343.7 525.7 L342.8 525.8 L341.9 525.9 L341 526 L340.1 526.1 L339.2 526.2 L338.3 526.3 L337.4 526.3 L336.5 526.4 L335.6 526.4 L334.6 526.4 L333.7 526.4" fill="none" stroke="#e2613a" stroke-width="1.25" stroke-linejoin="round"/>
<path d="M377 508.7 L377 508.8 L377.1 508.8 L377.1 508.9 L377.1 508.9 L377.1 509 L377.1 509 L377.1 509 L377.1 509.1 L377.2 509.1 L377.2 509.2 L377.2 509.2 L377.2 509.3 L377.2 509.3 L377.2 509.4 L377.2 509.4 L377.3 509.5 L377.3 509.5 L377.3 509.6 L377.3 509.6 L377.3 509.7 L377.3 509.7 L377.3 509.7 L377.3 509.8 L377.3 509.8 L377.4 509.9 L377.4 509.9 L377.4 510 L377.4 510 L377.4 510.1 L377.4 510.1 L377.4 510.2 L377.4 510.2 L377.4 510.3 L377.4 510.3 L377.4 510.4 L377.4 510.4 L377.4 510.4 L377.5 510.5 L377.5 510.5 L377.5 510.6 L377.5 510.6 L377.5 510.7 L377.5 510.7 L377.5 510.8 L377.5 510.8 L377.5 510.9 L377.5 510.9 L377.5 511 L377.5 511 L377.5 511.1 L377.5 511.1 L377.5 511.2 L377.5 511.2 L377.5 511.2 L377.5 511.3 L377.5 511.3 L377.5 511.4 L377.5 511.4 L377.5 511.5 L377.5 511.5 L377.5 512.2 L377.5 512.9 L377.4 513.5 L377.3 514.2 L377.1 514.8 L377 515.5 L376.8 516.1 L376.6 516.8 L376.3 517.4 L376 518.1 L375.7 518.7 L375.4 519.3 L375 520 L374.6 520.6 L374.2 521.2 L373.7 521.8 L373.3 522.4 L372.7 523 L372.2 523.6 L371.7 524.2 L371.1 524.7 L370.5 525.3 L369.8 525.9 L369.2 526.4 L368.5 526.9 L367.8 527.4 L367 528 L366.3 528.5 L365.5 528.9 L364.7 529.4 L363.9 529.9 L363 530.3 L362.2 530.8 L361.3 531.2 L360.4 531.6 L359.5 532 L358.5 532.4 L357.6 532.7 L356.6 533.1 L355.6 533.4 L354.6 533.8 L353.6 534.1 L352.6 534.4 L351.5 534.6 L350.5 534.9 L349.4 535.1 L348.3 535.4 L347.3 535.6 L346.2 535.8 L345.1 536 L343.9 536.1 L342.8 536.3 L341.7 536.4 L340.6 536.5 L339.4 536.6 L338.3 536.7 L337.2 536.7 L336 536.8 L334.9 536.8 L333.7 536.8" fill="none" stroke="#f6f05c" stroke-width="1.25" stroke-linejoin="round"/>
<path d="M389.4 508.7 L389.7 509 L389.9 509.2 L390.1 509.5 L390.3 509.8 L390.5 510 L390.7 510.3 L390.9 510.6 L391.1 510.8 L391.3 511.1 L391.5 511.4 L391.7 511.6 L391.9 511.9 L392.1 512.2 L392.3 512.4 L392.4 512.7 L392.6 513 L392.8 513.3 L392.9 513.5 L393.1 513.8 L393.2 514.1 L393.4 514.4 L393.5 514.7 L393.7 514.9 L393.8 515.2 L394 515.5 L394.1 515.8 L394.2 516.1 L394.4 516.3 L394.5 516.6 L394.6 516.9 L394.7 517.2 L394.8 517.5 L394.9 517.8 L395 518 L395.1 518.3 L395.2 518.6 L395.3 518.9 L395.4 519.2 L395.5 519.5 L395.6 519.8 L395.7 520.1 L395.7 520.3 L395.8 520.6 L395.9 520.9 L395.9 521.2 L396 521.5 L396 521.8 L396.1 522.1 L396.1 522.4 L396.2 522.7 L396.2 523 L396.2 523.2 L396.3 523.5 L396.3 523.8 L396.3 524.1 L396.3 524.4 L396.3 524.7 L396.4 525 L396.4 525.3 L396.4 525.6 L396.3 526.4 L396.3 527.3 L396.2 528.2 L396 529 L395.8 529.9 L395.6 530.7 L395.3 531.6 L395 532.5 L394.6 533.3 L394.2 534.1 L393.8 535 L393.3 535.8 L392.8 536.6 L392.2 537.4 L391.6 538.2 L390.9 539 L390.3 539.8 L389.5 540.6 L388.8 541.4 L388 542.1 L387.1 542.9 L386.3 543.6 L385.3 544.3 L384.4 545 L383.4 545.7 L382.4 546.4 L381.4 547 L380.3 547.7 L379.2 548.3 L378 549 L376.8 549.6 L375.6 550.1 L374.4 550.7 L373.1 551.3 L371.9 551.8 L370.5 552.3 L369.2 552.8 L367.8 553.3 L366.5 553.8 L365 554.2 L363.6 554.6 L362.2 555 L360.7 555.4 L359.2 555.8 L357.7 556.1 L356.2 556.4 L354.6 556.7 L353.1 557 L351.5 557.3 L349.9 557.5 L348.3 557.7 L346.7 557.9 L345.1 558.1 L343.5 558.2 L341.9 558.4 L340.3 558.5 L338.6 558.5 L337 558.6 L335.4 558.6 L333.7 558.6" fill="none" stroke="#cf45b8" stroke-width="1.25" stroke-linejoin="round"/>
<path d="M394.4 508.7 L394.6 509 L394.9 509.3 L395.1 509.6 L395.4 509.9 L395.6 510.2 L395.8 510.4 L396.1 510.7 L396.3 511 L396.5 511.3 L396.7 511.6 L396.9 511.9 L397.1 512.2 L397.3 512.5 L397.5 512.8 L397.7 513.1 L397.9 513.4 L398.1 513.7 L398.3 514 L398.5 514.3 L398.7 514.6 L398.8 514.9 L399 515.2 L399.2 515.5 L399.3 515.8 L399.5 516.2 L399.6 516.5 L399.8 516.8 L399.9 517.1 L400 517.4 L400.2 517.7 L400.3 518 L400.4 518.3 L400.6 518.6 L400.7 519 L400.8 519.3 L400.9 519.6 L401 519.9 L401.1 520.2 L401.2 520.5 L401.3 520.8 L401.4 521.2 L401.4 521.5 L401.5 521.8 L401.6 522.1 L401.7 522.4 L401.7 522.7 L401.8 523.1 L401.8 523.4 L401.9 523.7 L401.9 524 L402 524.3 L402 524.7 L402 525 L402.1 525.3 L402.1 525.6 L402.1 525.9 L402.1 526.3 L402.1 526.6 L402.1 526.9 L402.1 527.2 L402.1 528.2 L402.1 529.3 L401.9 530.3 L401.8 531.3 L401.6 532.3 L401.3 533.3 L401 534.3 L400.7 535.3 L400.3 536.3 L399.8 537.3 L399.3 538.3 L398.8 539.2 L398.2 540.2 L397.6 541.2 L396.9 542.1 L396.2 543 L395.5 544 L394.7 544.9 L393.9 545.8 L393 546.7 L392.1 547.5 L391.1 548.4 L390.1 549.2 L389.1 550.1 L388 550.9 L386.9 551.7 L385.8 552.5 L384.6 553.2 L383.4 554 L382.1 554.7 L380.8 555.4 L379.5 556.1 L378.2 556.8 L376.8 557.4 L375.4 558 L373.9 558.7 L372.5 559.2 L371 559.8 L369.5 560.4 L367.9 560.9 L366.4 561.4 L364.8 561.8 L363.2 562.3 L361.6 562.7 L359.9 563.1 L358.2 563.5 L356.6 563.8 L354.9 564.2 L353.2 564.5 L351.4 564.8 L349.7 565 L347.9 565.2 L346.2 565.4 L344.4 565.6 L342.7 565.7 L340.9 565.9 L339.1 566 L337.3 566 L335.5 566.1 L333.7 566.1" fill="none" stroke="#1e1e1e" stroke-width="1.25" stroke-linejoin="round"/>
<path d="M404.7 508.7 L405.2 509.2 L405.7 509.6 L406.1 510.1 L406.6 510.5 L407.1 511 L407.6 511.5 L408 511.9 L408.5 512.4 L408.9 512.9 L409.3 513.4 L409.8 513.8 L410.2 514.3 L410.6 514.8 L411 515.3 L411.4 515.8 L411.8 516.3 L412.2 516.8 L412.5 517.3 L412.9 517.8 L413.2 518.3 L413.6 518.8 L413.9 519.3 L414.3 519.8 L414.6 520.3 L414.9 520.8 L415.2 521.3 L415.5 521.9 L415.8 522.4 L416.1 522.9 L416.3 523.4 L416.6 523.9 L416.8 524.5 L417.1 525 L417.3 525.5 L417.5 526.1 L417.8 526.6 L418 527.1 L418.2 527.7 L418.4 528.2 L418.5 528.7 L418.7 529.3 L418.9 529.8 L419 530.3 L419.2 530.9 L419.3 531.4 L419.5 532 L419.6 532.5 L419.7 533.1 L419.8 533.6 L419.9 534.2 L420 534.7 L420 535.2 L420.1 535.8 L420.2 536.3 L420.2 536.9 L420.3 537.4 L420.3 538 L420.3 538.5 L420.3 539.1 L420.3 539.6 L420.3 540.9 L420.2 542.2 L420.1 543.5 L419.9 544.7 L419.6 546 L419.3 547.3 L418.9 548.5 L418.4 549.8 L417.9 551 L417.4 552.2 L416.8 553.5 L416.1 554.7 L415.4 555.9 L414.6 557.1 L413.7 558.3 L412.8 559.5 L411.9 560.6 L410.9 561.8 L409.8 562.9 L408.7 564 L407.6 565.1 L406.4 566.2 L405.1 567.2 L403.8 568.3 L402.4 569.3 L401 570.3 L399.6 571.3 L398.1 572.3 L396.5 573.2 L395 574.1 L393.3 575 L391.7 575.9 L390 576.7 L388.2 577.5 L386.4 578.3 L384.6 579.1 L382.8 579.8 L380.9 580.5 L379 581.2 L377 581.9 L375 582.5 L373 583.1 L371 583.6 L368.9 584.2 L366.9 584.7 L364.8 585.1 L362.6 585.6 L360.5 586 L358.3 586.4 L356.1 586.7 L353.9 587 L351.7 587.3 L349.5 587.6 L347.3 587.8 L345 588 L342.8 588.1 L340.5 588.2 L338.3 588.3 L336 588.4 L333.7 588.4" fill="none" stroke="#b9b344" stroke-width="1.25" stroke-linejoin="round"/>
<path d="M410.1 508.7 L410.8 509.2 L411.4 509.7 L412.1 510.3 L412.7 510.8 L413.3 511.3 L414 511.8 L414.6 512.4 L415.2 512.9 L415.8 513.4 L416.3 514 L416.9 514.5 L417.5 515.1 L418 515.6 L418.6 516.2 L419.1 516.8 L419.6 517.3 L420.1 517.9 L420.6 518.5 L421.1 519.1 L421.6 519.6 L422 520.2 L422.5 520.8 L422.9 521.4 L423.3 522 L423.8 522.6 L424.2 523.2 L424.6 523.8 L424.9 524.4 L425.3 525 L425.7 525.6 L426 526.2 L426.4 526.8 L426.7 527.4 L427 528.1 L427.3 528.7 L427.6 529.3 L427.9 529.9 L428.2 530.5 L428.4 531.2 L428.7 531.8 L428.9 532.4 L429.1 533.1 L429.3 533.7 L429.5 534.3 L429.7 535 L429.9 535.6 L430.1 536.2 L430.2 536.9 L430.3 537.5 L430.5 538.2 L430.6 538.8 L430.7 539.4 L430.8 540.1 L430.9 540.7 L430.9 541.4 L431 542 L431 542.7 L431.1 543.3 L431.1 543.9 L431.1 544.6 L431 546 L430.9 547.5 L430.8 548.9 L430.5 550.4 L430.2 551.8 L429.9 553.2 L429.4 554.7 L428.9 556.1 L428.4 557.5 L427.8 558.9 L427.1 560.3 L426.3 561.7 L425.5 563.1 L424.6 564.4 L423.7 565.8 L422.7 567.1 L421.6 568.4 L420.5 569.7 L419.3 571 L418 572.3 L416.7 573.5 L415.4 574.7 L414 575.9 L412.5 577.1 L411 578.3 L409.4 579.4 L407.7 580.5 L406.1 581.6 L404.3 582.7 L402.6 583.7 L400.7 584.8 L398.9 585.7 L396.9 586.7 L395 587.6 L393 588.5 L390.9 589.4 L388.9 590.2 L386.7 591 L384.6 591.8 L382.4 592.5 L380.2 593.2 L377.9 593.9 L375.6 594.6 L373.3 595.2 L371 595.7 L368.6 596.3 L366.2 596.8 L363.8 597.2 L361.4 597.7 L358.9 598.1 L356.4 598.4 L354 598.7 L351.5 599 L348.9 599.3 L346.4 599.5 L343.9 599.7 L341.4 599.8 L338.8 599.9 L336.3 599.9 L333.7 600" fill="none" stroke="#3b9fe2" stroke-width="1.25" stroke-linejoin="round"/>
<path d="M417.5 508.7 L418.4 509.3 L419.3 509.8 L420.1 510.4 L421 511 L421.8 511.6 L422.7 512.2 L423.5 512.8 L424.3 513.3 L425.1 514 L425.9 514.6 L426.7 515.2 L427.4 515.8 L428.2 516.4 L428.9 517 L429.6 517.7 L430.3 518.3 L431 519 L431.7 519.6 L432.3 520.3 L433 520.9 L433.6 521.6 L434.2 522.2 L434.8 522.9 L435.4 523.6 L436 524.3 L436.5 524.9 L437.1 525.6 L437.6 526.3 L438.1 527 L438.6 527.7 L439.1 528.4 L439.5 529.1 L440 529.8 L440.4 530.5 L440.8 531.2 L441.2 531.9 L441.6 532.6 L442 533.4 L442.3 534.1 L442.7 534.8 L443 535.5 L443.3 536.2 L443.6 537 L443.8 537.7 L444.1 538.4 L444.3 539.2 L444.6 539.9 L444.8 540.6 L445 541.4 L445.1 542.1 L445.3 542.9 L445.4 543.6 L445.5 544.3 L445.7 545.1 L445.7 545.8 L445.8 546.6 L445.9 547.3 L445.9 548.1 L445.9 548.8 L446 549.5 L445.9 551.3 L445.8 553.1 L445.6 554.9 L445.3 556.6 L445 558.4 L444.6 560.1 L444.1 561.9 L443.5 563.6 L442.8 565.4 L442.1 567.1 L441.3 568.8 L440.5 570.5 L439.5 572.2 L438.5 573.8 L437.4 575.5 L436.2 577.1 L435 578.7 L433.7 580.3 L432.3 581.9 L430.9 583.4 L429.4 585 L427.8 586.5 L426.2 587.9 L424.5 589.4 L422.8 590.8 L420.9 592.2 L419.1 593.6 L417.1 594.9 L415.1 596.2 L413.1 597.5 L411 598.7 L408.8 599.9 L406.6 601.1 L404.3 602.2 L402 603.3 L399.7 604.4 L397.3 605.4 L394.8 606.4 L392.4 607.3 L389.8 608.2 L387.3 609.1 L384.7 609.9 L382 610.7 L379.4 611.5 L376.7 612.2 L373.9 612.8 L371.2 613.4 L368.4 614 L365.6 614.5 L362.8 615 L359.9 615.4 L357.1 615.8 L354.2 616.2 L351.3 616.5 L348.4 616.7 L345.5 616.9 L342.5 617.1 L339.6 617.2 L336.7 617.3 L333.7 617.3" fill="none" stroke="#f3b487" stroke-width="1.25" stroke-linejoin="round"/>
</g>
<text transform="translate(422.4 500.4) scale(0.128 0.1)" font-size="64" fill="#111" text-anchor="middle" font-family="'Liberation Serif','Noto Serif CJK SC',serif" font-weight="700">空间等照度曲线  单位:lx</text>
<text transform="translate(320.8 504.4) scale(0.15 0.1)" font-size="42" fill="#111" text-anchor="start" stroke="#111" stroke-width="2">MH[m]</text>
<text transform="translate(330.6 521.1) scale(0.155 0.1)" font-size="43" fill="#111" text-anchor="end" stroke="#111" stroke-width="2.5">3</text>
<text transform="translate(330.6 532.5) scale(0.155 0.1)" font-size="43" fill="#111" text-anchor="end" stroke="#111" stroke-width="2.5">4</text>
<text transform="translate(330.6 544) scale(0.155 0.1)" font-size="43" fill="#111" text-anchor="end" stroke="#111" stroke-width="2.5">5</text>
<text transform="translate(330.6 555.4) scale(0.155 0.1)" font-size="43" fill="#111" text-anchor="end" stroke="#111" stroke-width="2.5">6</text>
<text transform="translate(330.6 566.8) scale(0.155 0.1)" font-size="43" fill="#111" text-anchor="end" stroke="#111" stroke-width="2.5">7</text>
<text transform="translate(330.6 578.2) scale(0.155 0.1)" font-size="43" fill="#111" text-anchor="end" stroke="#111" stroke-width="2.5">8</text>
<text transform="translate(330.6 589.6) scale(0.155 0.1)" font-size="43" fill="#111" text-anchor="end" stroke="#111" stroke-width="2.5">9</text>
<text transform="translate(330.6 601.1) scale(0.155 0.1)" font-size="43" fill="#111" text-anchor="end" stroke="#111" stroke-width="2.5">10</text>
<text transform="translate(330.6 612.5) scale(0.155 0.1)" font-size="43" fill="#111" text-anchor="end" stroke="#111" stroke-width="2.5">11</text>
<text transform="translate(333.4 626.8) scale(0.155 0.1)" font-size="43" fill="#111" text-anchor="middle" stroke="#111" stroke-width="2.5">0.0</text>
<text transform="translate(422.4 626.8) scale(0.155 0.1)" font-size="43" fill="#111" text-anchor="middle" stroke="#111" stroke-width="2.5">4.5</text>
<text transform="translate(511.5 626.8) scale(0.155 0.1)" font-size="43" fill="#111" text-anchor="middle" stroke="#111" stroke-width="2.5">9.0</text>
<text transform="translate(516.4 633.2) scale(0.15 0.1)" font-size="42" fill="#111" text-anchor="start" stroke="#111" stroke-width="2">S[m]</text>
<line x1="342.6" y1="633.3" x2="369.8" y2="633.3" stroke="#6ecfcf" stroke-width="1.1"/>
<text transform="translate(380.6 634.8) scale(0.155 0.1)" font-size="43" fill="#111" text-anchor="start" stroke="#111" stroke-width="2.5">67.00</text>
<line x1="432" y1="633.3" x2="459" y2="633.3" stroke="#cf45b8" stroke-width="1.1"/>
<text transform="translate(468.4 634.8) scale(0.155 0.1)" font-size="43" fill="#111" text-anchor="start" stroke="#111" stroke-width="2.5">11.00</text>
<line x1="342.6" y1="640.2" x2="369.8" y2="640.2" stroke="#4b3eb5" stroke-width="1.1"/>
<text transform="translate(380.6 641.7) scale(0.155 0.1)" font-size="43" fill="#111" text-anchor="start" stroke="#111" stroke-width="2.5">56.00</text>
<line x1="432" y1="640.2" x2="459" y2="640.2" stroke="#1e1e1e" stroke-width="1.1"/>
<text transform="translate(468.4 641.7) scale(0.155 0.1)" font-size="43" fill="#111" text-anchor="start" stroke="#111" stroke-width="2.5">9.000</text>
<line x1="342.6" y1="647.1" x2="369.8" y2="647.1" stroke="#6cc23a" stroke-width="1.1"/>
<text transform="translate(380.6 648.6) scale(0.155 0.1)" font-size="43" fill="#111" text-anchor="start" stroke="#111" stroke-width="2.5">45.00</text>
<line x1="432" y1="647.1" x2="459" y2="647.1" stroke="#b9b344" stroke-width="1.1"/>
<text transform="translate(468.4 648.6) scale(0.155 0.1)" font-size="43" fill="#111" text-anchor="start" stroke="#111" stroke-width="2.5">5.600</text>
<line x1="342.6" y1="654" x2="369.8" y2="654" stroke="#e2613a" stroke-width="1.1"/>
<text transform="translate(380.6 655.5) scale(0.155 0.1)" font-size="43" fill="#111" text-anchor="start" stroke="#111" stroke-width="2.5">34.00</text>
<line x1="432" y1="654" x2="459" y2="654" stroke="#3b9fe2" stroke-width="1.1"/>
<text transform="translate(468.4 655.5) scale(0.155 0.1)" font-size="43" fill="#111" text-anchor="start" stroke="#111" stroke-width="2.5">4.500</text>
<line x1="342.6" y1="660.9" x2="369.8" y2="660.9" stroke="#f6f05c" stroke-width="1.1"/>
<text transform="translate(380.6 662.4) scale(0.155 0.1)" font-size="43" fill="#111" text-anchor="start" stroke="#111" stroke-width="2.5">22.00</text>
<line x1="432" y1="660.9" x2="459" y2="660.9" stroke="#f3b487" stroke-width="1.1"/>
<text transform="translate(468.4 662.4) scale(0.155 0.1)" font-size="43" fill="#111" text-anchor="start" stroke="#111" stroke-width="2.5">3.400</text>
</g>
<rect x="557.5" y="487.2" width="244.9" height="185.1" fill="#fff" stroke="#8a8a8a" stroke-width="0.8"/>
<g id="p3">
<line x1="584.9" y1="500.7" x2="584.9" y2="658.1" stroke="#444" stroke-width="0.68"/>
<line x1="584.9" y1="500.7" x2="767.3" y2="500.7" stroke="#444" stroke-width="0.68"/>
<line x1="600.1" y1="500.7" x2="600.1" y2="658.1" stroke="#444" stroke-width="0.68"/>
<line x1="584.9" y1="513.8" x2="767.3" y2="513.8" stroke="#444" stroke-width="0.68"/>
<line x1="615.3" y1="500.7" x2="615.3" y2="658.1" stroke="#444" stroke-width="0.68"/>
<line x1="584.9" y1="526.9" x2="767.3" y2="526.9" stroke="#444" stroke-width="0.68"/>
<line x1="630.5" y1="500.7" x2="630.5" y2="658.1" stroke="#444" stroke-width="0.68"/>
<line x1="584.9" y1="540.1" x2="767.3" y2="540.1" stroke="#444" stroke-width="0.68"/>
<line x1="645.7" y1="500.7" x2="645.7" y2="658.1" stroke="#444" stroke-width="0.68"/>
<line x1="584.9" y1="553.2" x2="767.3" y2="553.2" stroke="#444" stroke-width="0.68"/>
<line x1="660.9" y1="500.7" x2="660.9" y2="658.1" stroke="#444" stroke-width="0.68"/>
<line x1="584.9" y1="566.3" x2="767.3" y2="566.3" stroke="#444" stroke-width="0.68"/>
<line x1="676.1" y1="500.7" x2="676.1" y2="658.1" stroke="#444" stroke-width="0.68"/>
<line x1="584.9" y1="579.4" x2="767.3" y2="579.4" stroke="#444" stroke-width="0.68"/>
<line x1="691.3" y1="500.7" x2="691.3" y2="658.1" stroke="#444" stroke-width="0.68"/>
<line x1="584.9" y1="592.5" x2="767.3" y2="592.5" stroke="#444" stroke-width="0.68"/>
<line x1="706.5" y1="500.7" x2="706.5" y2="658.1" stroke="#444" stroke-width="0.68"/>
<line x1="584.9" y1="605.7" x2="767.3" y2="605.7" stroke="#444" stroke-width="0.68"/>
<line x1="721.7" y1="500.7" x2="721.7" y2="658.1" stroke="#444" stroke-width="0.68"/>
<line x1="584.9" y1="618.8" x2="767.3" y2="618.8" stroke="#444" stroke-width="0.68"/>
<line x1="736.9" y1="500.7" x2="736.9" y2="658.1" stroke="#444" stroke-width="0.68"/>
<line x1="584.9" y1="631.9" x2="767.3" y2="631.9" stroke="#444" stroke-width="0.68"/>
<line x1="752.1" y1="500.7" x2="752.1" y2="658.1" stroke="#444" stroke-width="0.68"/>
<line x1="584.9" y1="645" x2="767.3" y2="645" stroke="#444" stroke-width="0.68"/>
<line x1="767.3" y1="500.7" x2="767.3" y2="658.1" stroke="#444" stroke-width="0.68"/>
<line x1="584.9" y1="658.1" x2="767.3" y2="658.1" stroke="#444" stroke-width="0.68"/>
<clipPath id="c3"><rect x="584.9" y="500.7" width="182.4" height="157.4"/></clipPath>
<g clip-path="url(#c3)">
<path d="M701.8 575.9 L704.2 574 L701.2 572.2 L703.6 570.1 L700.3 568.6 L702 566.5 L699.3 565.1 L699.2 563.2 L696.2 562.2 L696.5 560.2 L693.4 559.5 L692.7 557.9 L690.3 557.2 L689 556 L686.6 555.6 L684.9 554.6 L682.6 554.5 L680.5 554 L678.4 554.2 L676.2 553.9 L674.2 554.6 L671.9 554.7 L670.2 555.6 L667.8 556 L666.5 557.2 L664 557.9 L662.8 559.3 L660.2 560.2 L660 562 L657.7 563.3 L658.4 565.2 L654.9 566.5 L656 568.5 L653.2 570.1 L655.3 572.2 L652.7 574 L654.5 575.9 L652.4 577.9 L655.4 579.6 L653.1 581.7 L656.6 583.2 L655.4 585.3 L657.8 586.7 L657.8 588.6 L660 589.9 L660.7 591.5 L663 592.5 L663.8 594.1 L666.3 594.8 L667.7 596 L670.1 596.3 L671.9 597.2 L674.2 597.2 L676.2 597.8 L678.4 597.7 L680.6 597.8 L682.5 597.3 L684.8 597.1 L686.5 596.2 L688.9 595.8 L690.2 594.6 L693.1 594.1 L693.9 592.6 L696.5 591.7 L696.6 589.8 L699.3 588.7 L699.3 586.8 L701.1 585.2 L700.8 583.3 L703.6 581.7 L701.9 579.7 L704.2 577.9Z" fill="none" stroke="#3b9fe2" stroke-width="1.05" stroke-linejoin="round"/>
<path d="M710.1 572.9 L712.9 569.7 L710.4 566.7 L711.5 563.5 L709 560.7 L710 557.5 L707.1 554.9 L706.9 551.9 L703.4 549.8 L703 546.9 L699.7 545.2 L698.1 542.9 L694.7 541.7 L692.4 540.1 L689.2 539.4 L686.7 538.1 L683.5 538 L680.6 537.3 L677.6 537.6 L674.6 537.4 L671.8 537.9 L668.7 538.3 L666 539.3 L662.9 540.1 L660.7 541.8 L657.1 542.9 L655.6 545.2 L652.7 547.1 L652 549.8 L648.5 551.9 L648.3 554.9 L645.8 557.6 L646.3 560.7 L643.3 563.5 L645 566.7 L642.9 569.7 L644.2 572.9 L642.3 576 L644.5 579 L643.6 582.2 L646.6 585 L645.9 588.2 L648.6 590.7 L648.1 593.9 L651.7 596 L652.3 598.8 L655.6 600.5 L657.3 602.7 L660.5 604 L662.7 605.7 L666 606.4 L668.6 607.5 L671.8 607.7 L674.6 608.4 L677.6 608.1 L680.6 608.3 L683.5 607.7 L686.6 607.6 L689.2 606.4 L692.4 605.6 L694.6 604 L697.8 602.6 L699.5 600.5 L703.1 598.8 L703.3 595.9 L706.9 593.8 L706.8 590.8 L709.6 588.2 L709.4 585.1 L711.4 582.2 L709.9 579 L712.9 576Z" fill="none" stroke="#b9b344" stroke-width="1.05" stroke-linejoin="round"/>
<path d="M720.9 573.3 L722.9 569.3 L720.1 565.4 L722 561.2 L719.1 557.5 L720 553.3 L716.8 549.8 L716.5 545.8 L712.8 542.7 L711.3 539.2 L707.1 536.9 L705 534 L700.8 532.4 L697.8 530.4 L693.5 529.7 L690.1 528.5 L686.1 528.2 L682.4 527.7 L678.6 527.9 L674.8 527.7 L671.2 528.3 L667.1 528.4 L663.8 529.7 L659.5 530.4 L656.5 532.4 L652.3 534 L650.1 536.9 L645.8 539.2 L644.5 542.7 L640.7 545.7 L640.9 549.8 L637.3 553.3 L638.5 557.5 L635 561.2 L636.9 565.4 L634.6 569.3 L636.2 573.3 L634.3 577.3 L637.3 581.2 L635.5 585.3 L638.2 589.1 L637.3 593.3 L640.8 596.8 L641.2 600.7 L644.8 603.8 L646 607.4 L650.1 609.7 L652.4 612.5 L656.6 614.1 L659.5 616.1 L663.8 616.9 L667.1 618.1 L671.1 618.4 L674.8 618.8 L678.6 618.7 L682.4 618.9 L686.1 618.3 L690.1 618.1 L693.5 616.9 L697.6 616 L700.7 614.1 L704.8 612.5 L707.5 609.8 L711 607.3 L712.8 603.9 L716.1 600.7 L716.9 596.9 L719.4 593.2 L719.2 589.1 L721.7 585.3 L720.3 581.2 L722.7 577.3Z" fill="none" stroke="#1e1e1e" stroke-width="1.05" stroke-linejoin="round"/>
<path d="M727.1 573.7 L729.2 569.1 L727.1 564.6 L728 559.9 L725.8 555.4 L726.1 550.5 L723.4 546.2 L722.8 541.4 L718.7 537.7 L716.4 533.8 L712.1 530.9 L708.9 527.8 L704.2 526 L700.4 524 L695.5 523.3 L691.5 522.1 L686.7 522.1 L682.5 521.6 L678.1 521.9 L673.7 521.6 L669.5 522 L664.9 522.2 L660.7 523.3 L655.8 524 L652.2 526.1 L646.9 527.7 L644.2 530.9 L639.6 533.7 L637.9 537.8 L634.1 541.6 L632.9 546.2 L630 550.5 L630.8 555.4 L628.5 559.9 L629.8 564.7 L627.1 569.1 L629.3 573.7 L627.6 578.3 L629.4 582.8 L628.4 587.6 L631.1 592 L630.1 596.9 L633.6 601.2 L633.4 606 L637.7 609.7 L639.7 613.7 L644.4 616.5 L647.1 619.7 L652 621.5 L655.9 623.4 L660.8 624.1 L664.9 625.3 L669.5 625.4 L673.8 625.9 L678.1 625.7 L682.5 625.9 L686.8 625.4 L691.4 625.3 L695.5 624.2 L700.5 623.5 L704.4 621.6 L709.1 619.7 L712.3 616.7 L717 613.9 L718.4 609.6 L722.3 605.9 L723.3 601.3 L725.9 596.9 L725.1 592 L727.9 587.6 L726.5 582.8 L728.7 578.3Z" fill="none" stroke="#cf45b8" stroke-width="1.05" stroke-linejoin="round"/>
<path d="M731.7 573.7 L733.9 568.6 L731.5 563.6 L732.9 558.2 L730.6 553.1 L731.3 547.6 L728.3 542.6 L727.5 537.2 L723.6 532.7 L721.2 528.1 L716.1 524.9 L712.3 521.6 L706.7 519.7 L702.4 517.6 L696.9 516.8 L692 516 L686.8 515.9 L682 515.4 L677.1 515.7 L672.2 515.4 L667.4 515.8 L662.1 515.9 L657.4 516.9 L651.9 517.6 L647.5 519.7 L641.8 521.5 L638.2 524.9 L632.8 528 L630.7 532.7 L626.7 537.2 L626.2 542.6 L623 547.6 L623.2 553.1 L620.6 558.2 L622 563.5 L620.1 568.6 L622.6 573.7 L620.5 578.8 L622.3 583.9 L620.7 589.3 L623.8 594.3 L623 599.9 L625.9 604.9 L626.5 610.3 L630.8 614.7 L633.1 619.3 L638 622.7 L641.8 626 L647.5 627.7 L652 629.7 L657.4 630.6 L662.1 631.6 L667.4 631.5 L672.2 632 L677.1 631.8 L682 632 L686.8 631.5 L692.1 631.7 L696.8 630.5 L702.2 629.7 L706.7 627.7 L712.3 625.9 L716 622.5 L721.5 619.4 L723.3 614.7 L727.4 610.2 L728.5 604.9 L731.9 600 L731.2 594.4 L733.4 589.3 L731.8 583.9 L733.4 578.8Z" fill="none" stroke="#f6f05c" stroke-width="1.05" stroke-linejoin="round"/>
<path d="M736.4 573.7 L737.9 567.9 L736.8 562 L737.8 555.8 L736.1 549.8 L736.1 543.4 L733.4 537.3 L732.9 530.8 L728.2 525.5 L725.5 520.1 L720.1 516.2 L715.6 512.6 L709.4 510.5 L704.3 508.6 L698 508 L692.7 507 L687.1 507 L681.7 506.7 L676.4 506.9 L671 506.7 L665.7 507.1 L659.9 507 L654.6 507.9 L648.4 508.5 L643.2 510.5 L637 512.5 L632.5 516.1 L626.9 520 L624.3 525.5 L620.3 530.9 L619 537.2 L616.4 543.3 L617.2 549.8 L615.1 555.8 L616.5 562 L614.2 567.8 L615.8 573.7 L614.2 579.6 L615.9 585.5 L615.1 591.6 L617.1 597.6 L616.5 604.1 L619.5 610.1 L620 616.6 L624.2 622 L626.8 627.5 L632.4 631.4 L636.9 635 L643.1 637 L648.5 638.8 L654.7 639.5 L659.9 640.5 L665.7 640.4 L671 640.7 L676.4 640.5 L681.7 640.8 L687 640.4 L692.7 640.4 L698.1 639.5 L704.2 638.9 L709.5 637 L715.6 634.9 L720 631.3 L725.6 627.4 L728.5 622 L732.4 616.6 L733.2 610.1 L736.6 604.2 L735.5 597.6 L737.9 591.6 L736.1 585.4 L738.3 579.6Z" fill="none" stroke="#e2613a" stroke-width="1.05" stroke-linejoin="round"/>
<path d="M742 571.5 L743.9 564.7 L741.9 557.9 L743.6 550.7 L742.2 543.4 L742.4 535.7 L740.5 528.1 L739.3 520.2 L735.2 513.2 L732.2 506.5 L725.8 502 L720.2 498.2 L713 496.2 L706.9 494.6 L699.8 494.3 L693.7 493.7 L687.4 493.9 L681.5 493.6 L675.6 493.8 L669.7 493.6 L663.8 493.8 L657.5 493.7 L651.4 494.4 L644.5 494.7 L638.1 496.2 L630.9 498.1 L625.2 501.9 L619.1 506.6 L615.6 513.1 L611.6 520.1 L610.6 528 L608.1 535.6 L609.2 543.5 L607.1 550.6 L609.2 557.9 L607.2 564.7 L609 571.5 L606.9 578.4 L608.7 585.2 L607.4 592.5 L609.2 599.6 L608.3 607.5 L611.1 615 L611.8 623 L615.5 630 L619.2 636.5 L625.2 641.2 L631 644.9 L638.1 646.9 L644.3 648.6 L651.3 648.8 L657.5 649.4 L663.8 649.2 L669.7 649.5 L675.6 649.3 L681.5 649.5 L687.4 649.3 L693.7 649.4 L699.8 648.8 L706.9 648.5 L713 646.8 L720.3 645 L725.7 641.1 L732 636.5 L735.7 630 L739.8 623.1 L740.3 615 L742.4 607.4 L741.8 599.6 L744.1 592.5 L742.1 585.2 L743.7 578.4Z" fill="none" stroke="#6cc23a" stroke-width="1.05" stroke-linejoin="round"/>
<path d="M618.9 500.7 L618.8 503.3 L616.6 505.9 L617.1 508.6 L614.7 511.2 L615 513.8 L613.2 516.4 L613.1 519.1 L611.2 521.7 L611.2 524.3 L609.4 526.9 L609.5 529.6 L607.5 532.2 L607.5 534.8 L605.7 537.4 L606.1 540.1 L604.5 542.7 L605.5 545.3 L604.1 547.9 L605.2 550.6 L604 553.2 L604.8 555.8 L603.7 558.4 L604.7 561.1 L603.1 563.7 L604.5 566.3 L602.9 568.9 L604.2 571.5 L603.3 574.2 L604.3 576.8 L603 579.4 L604.3 582 L603.1 584.7 L604.4 587.3 L603 589.9 L604.7 592.5 L603.4 595.2 L604.6 597.8 L603.3 600.4 L604.8 603 L604 605.7 L605.1 608.3 L604.3 610.9 L605.6 613.5 L604.2 616.2 L605.7 618.8 L605.2 621.4 L607 624 L607.4 626.7 L610 629.3 L610.9 631.9 L614.3 634.5 L615.4 637.1 L618.9 639.8 L620.5 642.4 L624.6 645 L626.9 647.6 L631.2 650.3 L633.6 652.9 L638.3 655.5 L641.1 658.1" fill="none" stroke="#4b3eb5" stroke-width="1.05" stroke-linejoin="round"/>
<path d="M736.4 500.7 L738.3 503.3 L737.4 505.9 L739.5 508.6 L738.5 511.2 L740.6 513.8 L739.7 516.4 L741.5 519.1 L740.7 521.7 L742.8 524.3 L741.8 526.9 L744 529.6 L743 532.2 L744.9 534.8 L744.1 537.4 L746.1 540.1 L745.2 542.7 L746.1 545.3 L745.4 547.9 L746.4 550.6 L745.3 553.2 L746.6 555.8 L745.8 558.4 L747 561.1 L745.7 563.7 L746.8 566.3 L746 568.9 L746.9 571.5 L745.9 574.2 L747.4 576.8 L745.6 579.4 L747.2 582 L746 584.7 L747.1 587.3 L745.9 589.9 L746.9 592.5 L746 595.2 L747 597.8 L745.4 600.4 L746.9 603 L745.6 605.7 L746.6 608.3 L745.4 610.9 L746.5 613.5 L745 616.2 L746.4 618.8 L744.5 621.4 L745.2 624 L743.5 626.7 L744.1 629.3 L741.7 631.9 L741.8 634.5 L739.4 637.1 L739.4 639.8 L736.4 642.4 L736.4 645 L733.2 647.6 L733.1 650.3 L730.2 652.9 L729.5 655.5 L726.2 658.1" fill="none" stroke="#4b3eb5" stroke-width="1.05" stroke-linejoin="round"/>
<path d="M605.8 500.7 L606.4 503.3 L604.7 505.9 L605.1 508.6 L603.5 511.2 L604.3 513.8 L602.6 516.4 L603.1 519.1 L601.7 521.7 L602.2 524.3 L600.8 526.9 L601.5 529.6 L600 532.2 L600.8 534.8 L599.5 537.4 L600.2 540.1 L598.6 542.7 L599.9 545.3 L598.2 547.9 L599.3 550.6 L598 553.2 L598.7 555.8 L597.5 558.4 L598.6 561.1 L597.6 563.7 L598.2 566.3 L597.3 568.9 L598.3 571.5 L596.8 574.2 L598 576.8 L596.9 579.4 L598.1 582 L596.9 584.7 L598.4 587.3 L597.1 589.9 L598.5 592.5 L597.4 595.2 L598.4 597.8 L597.6 600.4 L599 603 L598.1 605.7 L599.2 608.3 L598.5 610.9 L599.5 613.5 L599 616.2 L600.2 618.8 L599.5 621.4 L601 624 L600.1 626.7 L601.8 629.3 L600.7 631.9 L604.6 634.5 L603.6 637.1 L605.3 639.8 L604.5 642.4 L606.3 645 L605.6 647.6 L607.2 650.3 L606.4 652.9 L608.2 655.5 L607.7 658.1" fill="none" stroke="#6ecfcf" stroke-width="1.05" stroke-linejoin="round"/>
<path d="M749.2 500.7 L750.4 503.3 L750 505.9 L751.5 508.6 L750.6 511.2 L752.4 513.8 L751.6 516.4 L753.3 519.1 L752.4 521.7 L753.9 524.3 L753.1 526.9 L754.5 529.6 L753.5 532.2 L755.2 534.8 L753.9 537.4 L755.5 540.1 L754.4 542.7 L756 545.3 L754.9 547.9 L756.1 550.6 L755.3 553.2 L756.8 555.8 L755.7 558.4 L757.1 561.1 L755.8 563.7 L757 566.3 L756.2 568.9 L757.1 571.5 L756.2 574.2 L757.3 576.8 L755.9 579.4 L757.4 582 L756 584.7 L757.1 587.3 L756.2 589.9 L757.1 592.5 L755.8 595.2 L756.9 597.8 L755.6 600.4 L756.8 603 L755.4 605.7 L756.2 608.3 L755.1 610.9 L756 613.5 L754.4 616.2 L755.3 618.8 L754 621.4 L755.1 624 L753.7 626.7 L754.2 629.3 L752.9 631.9 L752.4 634.5 L750.6 637.1 L751.6 639.8 L750.1 642.4 L750.7 645 L749.2 647.6 L750.2 650.3 L748.5 652.9 L749 655.5 L747.4 658.1" fill="none" stroke="#6ecfcf" stroke-width="1.05" stroke-linejoin="round"/>
</g>
<circle cx="679.6" cy="583.8" r="0.8" fill="#e0705a"/>
<text transform="translate(676.2 497.6) scale(0.115 0.1)" font-size="52" fill="#111" text-anchor="middle">等 光 强 曲 线</text>
<text transform="translate(735.6 497.6) scale(0.108 0.1)" font-size="50" fill="#111" text-anchor="start">光强单位: cd</text>
<text transform="translate(582.6 502.4) scale(0.12 0.1)" font-size="42" fill="#111" text-anchor="end" stroke="#111" stroke-width="2">90</text>
<text transform="translate(584.9 664.3) scale(0.12 0.1)" font-size="42" fill="#111" text-anchor="middle" stroke="#111" stroke-width="2">-90</text>
<text transform="translate(582.6 515.5) scale(0.12 0.1)" font-size="42" fill="#111" text-anchor="end" stroke="#111" stroke-width="2">75</text>
<text transform="translate(600.1 664.3) scale(0.12 0.1)" font-size="42" fill="#111" text-anchor="middle" stroke="#111" stroke-width="2">-75</text>
<text transform="translate(582.6 528.6) scale(0.12 0.1)" font-size="42" fill="#111" text-anchor="end" stroke="#111" stroke-width="2">60</text>
<text transform="translate(615.3 664.3) scale(0.12 0.1)" font-size="42" fill="#111" text-anchor="middle" stroke="#111" stroke-width="2">-60</text>
<text transform="translate(582.6 541.8) scale(0.12 0.1)" font-size="42" fill="#111" text-anchor="end" stroke="#111" stroke-width="2">45</text>
<text transform="translate(630.5 664.3) scale(0.12 0.1)" font-size="42" fill="#111" text-anchor="middle" stroke="#111" stroke-width="2">-45</text>
<text transform="translate(582.6 554.9) scale(0.12 0.1)" font-size="42" fill="#111" text-anchor="end" stroke="#111" stroke-width="2">30</text>
<text transform="translate(645.7 664.3) scale(0.12 0.1)" font-size="42" fill="#111" text-anchor="middle" stroke="#111" stroke-width="2">-30</text>
<text transform="translate(582.6 568) scale(0.12 0.1)" font-size="42" fill="#111" text-anchor="end" stroke="#111" stroke-width="2">15</text>
<text transform="translate(660.9 664.3) scale(0.12 0.1)" font-size="42" fill="#111" text-anchor="middle" stroke="#111" stroke-width="2">-15</text>
<text transform="translate(582.6 581.1) scale(0.12 0.1)" font-size="42" fill="#111" text-anchor="end" stroke="#111" stroke-width="2">0</text>
<text transform="translate(676.1 664.3) scale(0.12 0.1)" font-size="42" fill="#111" text-anchor="middle" stroke="#111" stroke-width="2">0</text>
<text transform="translate(582.6 594.2) scale(0.12 0.1)" font-size="42" fill="#111" text-anchor="end" stroke="#111" stroke-width="2">-15</text>
<text transform="translate(691.3 664.3) scale(0.12 0.1)" font-size="42" fill="#111" text-anchor="middle" stroke="#111" stroke-width="2">15</text>
<text transform="translate(582.6 607.4) scale(0.12 0.1)" font-size="42" fill="#111" text-anchor="end" stroke="#111" stroke-width="2">-30</text>
<text transform="translate(706.5 664.3) scale(0.12 0.1)" font-size="42" fill="#111" text-anchor="middle" stroke="#111" stroke-width="2">30</text>
<text transform="translate(582.6 620.5) scale(0.12 0.1)" font-size="42" fill="#111" text-anchor="end" stroke="#111" stroke-width="2">-45</text>
<text transform="translate(721.7 664.3) scale(0.12 0.1)" font-size="42" fill="#111" text-anchor="middle" stroke="#111" stroke-width="2">45</text>
<text transform="translate(582.6 633.6) scale(0.12 0.1)" font-size="42" fill="#111" text-anchor="end" stroke="#111" stroke-width="2">-60</text>
<text transform="translate(736.9 664.3) scale(0.12 0.1)" font-size="42" fill="#111" text-anchor="middle" stroke="#111" stroke-width="2">60</text>
<text transform="translate(582.6 646.7) scale(0.12 0.1)" font-size="42" fill="#111" text-anchor="end" stroke="#111" stroke-width="2">-75</text>
<text transform="translate(752.1 664.3) scale(0.12 0.1)" font-size="42" fill="#111" text-anchor="middle" stroke="#111" stroke-width="2">75</text>
<text transform="translate(582.6 659.8) scale(0.12 0.1)" font-size="42" fill="#111" text-anchor="end" stroke="#111" stroke-width="2">-90</text>
<text transform="translate(767.3 664.3) scale(0.12 0.1)" font-size="42" fill="#111" text-anchor="middle" stroke="#111" stroke-width="2">90</text>
<text transform="translate(676.2 669.6) scale(0.11 0.1)" font-size="48" fill="#111" text-anchor="middle">水平角度(度)</text>
<text transform="translate(574.4 579.6) rotate(-90) scale(0.11 0.1)" font-size="48" fill="#111" text-anchor="middle">垂直角度(度)</text>
<line x1="775" y1="503" x2="781.2" y2="503" stroke="#6ecfcf" stroke-width="1.0"/>
<text transform="translate(784.6 504.6) scale(0.12 0.1)" font-size="42" fill="#111" text-anchor="start" stroke="#111" stroke-width="2">10%</text>
<line x1="775" y1="509.8" x2="781.2" y2="509.8" stroke="#4b3eb5" stroke-width="1.0"/>
<text transform="translate(784.6 511.4) scale(0.12 0.1)" font-size="42" fill="#111" text-anchor="start" stroke="#111" stroke-width="2">20%</text>
<line x1="775" y1="516.7" x2="781.2" y2="516.7" stroke="#6cc23a" stroke-width="1.0"/>
<text transform="translate(784.6 518.3) scale(0.12 0.1)" font-size="42" fill="#111" text-anchor="start" stroke="#111" stroke-width="2">30%</text>
<line x1="775" y1="523.5" x2="781.2" y2="523.5" stroke="#e2613a" stroke-width="1.0"/>
<text transform="translate(784.6 525.1) scale(0.12 0.1)" font-size="42" fill="#111" text-anchor="start" stroke="#111" stroke-width="2">40%</text>
<line x1="775" y1="530.4" x2="781.2" y2="530.4" stroke="#f6f05c" stroke-width="1.0"/>
<text transform="translate(784.6 532) scale(0.12 0.1)" font-size="42" fill="#111" text-anchor="start" stroke="#111" stroke-width="2">50%</text>
<line x1="775" y1="537.2" x2="781.2" y2="537.2" stroke="#cf45b8" stroke-width="1.0"/>
<text transform="translate(784.6 538.8) scale(0.12 0.1)" font-size="42" fill="#111" text-anchor="start" stroke="#111" stroke-width="2">60%</text>
<line x1="775" y1="544.1" x2="781.2" y2="544.1" stroke="#1e1e1e" stroke-width="1.0"/>
<text transform="translate(784.6 545.7) scale(0.12 0.1)" font-size="42" fill="#111" text-anchor="start" stroke="#111" stroke-width="2">70%</text>
<line x1="775" y1="551" x2="781.2" y2="551" stroke="#b9b344" stroke-width="1.0"/>
<text transform="translate(784.6 552.6) scale(0.12 0.1)" font-size="42" fill="#111" text-anchor="start" stroke="#111" stroke-width="2">80%</text>
<line x1="775" y1="557.8" x2="781.2" y2="557.8" stroke="#3b9fe2" stroke-width="1.0"/>
<text transform="translate(784.6 559.4) scale(0.12 0.1)" font-size="42" fill="#111" text-anchor="start" stroke="#111" stroke-width="2">90%</text>
</g>
<rect x="42.2" y="701.2" width="244.4" height="185.4" fill="#fff" stroke="#8a8a8a" stroke-width="0.8"/>
<g id="p4">
<line x1="63" y1="742.8" x2="274.7" y2="742.8" stroke="#9c9c9c" stroke-width="0.85" stroke-dasharray="6.4 1.8"/>
<line x1="63" y1="750.8" x2="274.7" y2="750.8" stroke="#9c9c9c" stroke-width="0.85" stroke-dasharray="6.4 1.8"/>
<line x1="63" y1="758.7" x2="274.7" y2="758.7" stroke="#9c9c9c" stroke-width="0.85" stroke-dasharray="6.4 1.8"/>
<line x1="63" y1="766.7" x2="274.7" y2="766.7" stroke="#9c9c9c" stroke-width="0.85" stroke-dasharray="6.4 1.8"/>
<line x1="63" y1="774.7" x2="274.7" y2="774.7" stroke="#9c9c9c" stroke-width="0.85" stroke-dasharray="6.4 1.8"/>
<line x1="63" y1="782.6" x2="274.7" y2="782.6" stroke="#9c9c9c" stroke-width="0.85" stroke-dasharray="6.4 1.8"/>
<line x1="63" y1="790.6" x2="274.7" y2="790.6" stroke="#9c9c9c" stroke-width="0.85" stroke-dasharray="6.4 1.8"/>
<line x1="63" y1="798.6" x2="274.7" y2="798.6" stroke="#9c9c9c" stroke-width="0.85" stroke-dasharray="6.4 1.8"/>
<line x1="63" y1="806.6" x2="274.7" y2="806.6" stroke="#9c9c9c" stroke-width="0.85" stroke-dasharray="6.4 1.8"/>
<line x1="63" y1="814.5" x2="274.7" y2="814.5" stroke="#9c9c9c" stroke-width="0.85" stroke-dasharray="6.4 1.8"/>
<line x1="63" y1="822.5" x2="274.7" y2="822.5" stroke="#9c9c9c" stroke-width="0.85" stroke-dasharray="6.4 1.8"/>
<clipPath id="c4"><rect x="63" y="734.8" width="211.6" height="95.6"/></clipPath>
<g clip-path="url(#c4)">
<path d="M206.5 695 L209.8 698.8 L213 702.5 L215.4 707.4 L218.3 711.5 L221.4 716.5 L223.6 721.6 L225.5 726.6 L227.3 732.6 L228.8 738.1 L230.3 743.4 L231.5 749.6 L232 755.2 L233.1 761.6 L233.4 767.9 L233.5 774.1 L233.2 776.8 L233.1 779.8 L233.3 782 L232.2 785 L232.2 788 L231.1 790.8 L229.8 793.7 L228.2 796.6 L226.6 799.5 L224.6 802.2 L222.3 804.7 L219.3 806.5 L216.4 809.2 L213.1 810.8 L209.4 812.3 L205.7 814 L201.3 814.9 L197.7 816.5 L193 817.2 L189.1 817.4 L184.9 818.3 L181.3 817.9 L176.9 817.2 L172.9 815.1 L169 814 L164.9 815.4 L160.9 817 L157.4 817.8 L153.2 818 L149.7 817.4 L145.3 817.3 L141.7 816.5 L138.5 815.1 L134.5 813.9 L131.1 812.5 L127.7 810.8 L124.9 808.8 L121.6 806.9 L118.8 804.2 L117.2 801.9 L114.9 798.9 L113.1 796.6 L111.4 793.8 L110.8 790.6 L110 788 L109.4 785.1 L109 782.5 L108.2 779.1 L108.7 776.9 L108.3 773.8 L108.7 767.5 L108.8 761.4 L109.4 755.6 L110.2 749.5 L111.7 743.4 L112.8 738.1 L114 732.1 L116.2 726.7 L117.6 721.6 L120.2 716.3 L122.1 711.6 L125.1 707.1 L127.8 702.6 L130.2 698.8 L133.6 695" fill="none" stroke="#6ecfcf" stroke-width="1.1" stroke-linejoin="round"/>
<path d="M197.8 719.2 L200.5 721.7 L203.1 724.8 L204.8 727.2 L207.4 730.5 L209.3 733.4 L210.5 736.7 L212.7 740.1 L213.7 743.8 L215 747.4 L216.5 751 L216.6 755.4 L218 759.3 L218.1 763.2 L218.9 766.7 L218.8 771.1 L218.7 773.3 L218.3 775.6 L218 777.9 L218 780.6 L217.7 782.9 L217.1 785.8 L216.2 788.4 L215 790.6 L212.9 793.1 L211.4 795.1 L209.9 797.4 L207.6 799.7 L205.4 801.2 L202.5 803.2 L199.9 804.6 L196.9 805.5 L194 807 L190.6 807.9 L188.1 808.6 L184.8 808.5 L181.4 809.5 L177.7 808.9 L174.8 808.1 L171.8 806.5 L168.9 805.3 L165.3 806.2 L162.3 807.7 L159.9 809.2 L156.1 809.2 L153.2 808.8 L150.1 808.5 L147.2 807.6 L143.9 806.7 L140.9 805.7 L138.6 804.3 L135.3 802.7 L133.1 801.3 L131.1 799.3 L129.1 797.5 L126.9 795.1 L125.4 793.1 L124 790.7 L122.9 788 L122.1 785.8 L121 783.2 L120.8 781 L121 778.1 L120.7 776 L120.1 773.3 L119.9 771.1 L120.5 767.1 L120.9 763 L121.3 759 L121.5 755.1 L122.2 751 L123.9 747.2 L124.5 743.5 L126.6 740 L127.4 737.1 L129.2 733.8 L131.5 730.6 L133.8 727.5 L135.8 724.2 L138.1 722 L140.4 719.2" fill="none" stroke="#4b3eb5" stroke-width="1.1" stroke-linejoin="round"/>
<path d="M203.4 764.4 L202.8 767.4 L202.9 771.3 L201.9 774.3 L200.9 778.1 L199.9 781.2 L197.7 784.4 L195.4 787.3 L192.4 790 L190.2 792.1 L186.7 793.7 L183.2 795.6 L179.6 796.4 L175.8 797.1 L172.5 797 L168.2 797.6 L165.3 797.3 L161.2 797.2 L157.3 796.2 L153.8 795.4 L150.4 793.7 L147.5 792.6 L144.1 790.2 L141.5 787.7 L139.4 784.3 L137.2 780.9 L136 777.9 L134.6 774.4 L134.1 771.3 L133.6 768 L133.8 764.1 L133.9 760.8 L134.6 757.1 L134.9 753.7 L136.3 750 L137.6 747.2 L139.3 743.4 L141.4 740.9 L144.4 738.5 L147.6 735.7 L150.3 733.9 L153.8 732.9 L157.9 732.1 L161 731.4 L164.7 730.7 L168.7 730.3 L171.8 731.1 L175.6 731 L179.5 731.9 L182.6 732.6 L186.5 734.1 L189.5 736 L193.2 738 L195.5 740.4 L197.6 743.8 L199.3 747.1 L201.5 749.7 L202.5 753.4 L203 757.3 L203 760.7Z" fill="none" stroke="#6cc23a" stroke-width="1.1" stroke-linejoin="round"/>
<path d="M198 766 L197.6 768.9 L197.7 771.7 L196.7 774.1 L195.7 777 L194.5 779.9 L192.8 782 L190.9 784.6 L188.4 786.8 L186.3 788.1 L183.9 789.7 L180.7 791.3 L178 792.2 L175 792.7 L171.7 792.9 L168.5 793.4 L166 793.2 L162.9 792.7 L159.6 792 L157.2 790.8 L154.1 789.7 L151.7 788.3 L148.9 786.5 L146.9 784.7 L144.8 782.4 L143 779.6 L141.7 776.8 L141.2 774.5 L140.1 771.3 L139.8 768.9 L140 766 L140 762.7 L140.2 759.9 L141 757.3 L141.8 754.4 L143.5 751.6 L145.2 749.7 L147.2 747.1 L149.1 745.1 L151.6 743.6 L154.2 741.6 L157.1 740.5 L159.9 739.7 L162.4 739.1 L165.9 738.5 L168.9 738.3 L171.7 738.5 L174.6 738.9 L178 739.5 L180.8 740.8 L183.8 741.5 L186.4 743.4 L188.3 745 L190.6 746.9 L192.7 749.7 L194.2 752.2 L195.8 754.3 L196.9 757.3 L197.7 760.2 L198 762.8Z" fill="none" stroke="#e2613a" stroke-width="1.1" stroke-linejoin="round"/>
<path d="M191.3 766.4 L191.2 768.4 L190.8 770.6 L189.8 772.6 L189 774.8 L188 777 L187 779 L185.4 780.8 L183.7 782.3 L182.1 783.7 L179.9 785.3 L178.1 786 L175.7 786.9 L173.6 787.3 L171 787.7 L169.2 787.7 L166.6 787.7 L164.2 787.3 L162.1 786.7 L159.7 785.8 L157.7 785 L155.7 783.5 L154.1 782.3 L152.7 780.5 L151 778.9 L149.5 777.3 L148.6 774.8 L147.9 772.7 L147.4 770.6 L146.7 768.1 L147 766 L147.1 763.8 L147.6 761.5 L147.8 759.2 L148.9 757.3 L149.7 755 L151.2 753.6 L152.6 751.2 L153.9 749.6 L155.8 748.2 L157.7 747.3 L160.2 746 L162.4 745.3 L164.6 745 L166.9 744.1 L168.9 744.3 L171.6 744.2 L173.5 745 L175.6 745.3 L177.9 746.3 L180.3 747 L182.1 748.6 L184 749.9 L185.7 751.4 L186.8 753.1 L188.3 755.2 L189.1 757 L190.2 759.4 L190.8 761.5 L191 763.6Z" fill="none" stroke="#f6f05c" stroke-width="1.1" stroke-linejoin="round"/>
<path d="M183.3 766.5 L183.1 768.2 L182.9 769.3 L182.3 771.1 L182 772.4 L181.4 773.5 L180.6 774.8 L179.4 775.7 L178.2 776.7 L177.5 777.5 L176 778.3 L174.5 779.2 L173.1 779.4 L171.6 780.1 L170.4 780 L168.7 780.5 L167.2 780.2 L165.8 780.1 L164.5 779.8 L163 779 L161.5 778.3 L160.6 777.5 L159 777 L158.1 776 L157.1 774.7 L156.3 773.7 L155.8 772.3 L155.3 771.1 L154.8 769.6 L154.6 767.9 L154.7 766.8 L154.7 765.1 L154.9 763.9 L155.3 762.3 L155.7 761.2 L156.2 759.9 L157.4 758.7 L158.3 757.7 L159.1 756.5 L160.7 755.6 L161.6 754.8 L162.9 754.1 L164.6 753.9 L166 753.7 L167.4 753.4 L168.9 753.1 L170.5 753.4 L172 753.4 L173.4 753.7 L174.9 754.5 L175.9 755.2 L177.1 755.5 L178.5 756.5 L179.5 757.7 L180.2 758.8 L181.1 759.9 L181.8 761.3 L182.6 762.4 L182.7 763.8 L183 765.1Z" fill="none" stroke="#cf45b8" stroke-width="1.1" stroke-linejoin="round"/>
<path d="M180.9 767 L181.1 768.3 L181 769.5 L180.4 770.3 L180 771.6 L179.5 772.7 L178.7 773.9 L177.9 774.6 L177.3 775.7 L176 776.2 L175.2 776.7 L173.7 777.5 L172.7 777.8 L171.3 778.1 L170.4 778.4 L169.2 778.6 L167.9 778.2 L166.3 778 L165.2 777.9 L163.9 777.5 L162.7 776.9 L161.8 776.4 L160.8 775.4 L159.8 774.6 L159.3 773.8 L158.7 772.8 L157.8 771.4 L157.6 770.6 L157.2 769.4 L157 768 L156.7 766.6 L157 765.8 L157.3 764.4 L157.6 763.5 L158.1 762.2 L158.5 761 L159 759.9 L160.1 759.3 L160.9 758.1 L161.8 757.4 L163.1 756.7 L164.3 756 L165.2 755.8 L166.4 755.6 L167.9 755.5 L169 755 L170.3 755.3 L171.5 755.3 L172.8 756 L173.7 756.3 L175 756.8 L176.3 757.6 L177.1 758 L178.2 758.9 L178.7 760.2 L179.4 760.9 L180.3 762.3 L180.4 763.2 L180.7 764.3 L180.9 765.9Z" fill="none" stroke="#1e1e1e" stroke-width="1.3" stroke-linejoin="round"/>
<path d="M179.8 766.8 L179.7 767.8 L179.7 769.1 L179.5 770.1 L179.1 770.9 L178.4 772.3 L177.7 772.9 L177.1 773.8 L176.3 774.5 L175.3 775.5 L174.3 776.1 L173.3 776.6 L172.4 776.9 L171.1 776.9 L170.2 777.2 L168.9 777.4 L168 777.1 L166.9 777.1 L165.6 776.7 L164.5 776.6 L163.4 775.8 L162.4 775.2 L161.6 774.8 L160.7 773.8 L160.3 773.2 L159.7 772 L159 771.3 L158.6 770.2 L158.2 768.9 L158.1 768 L158.2 766.9 L158.1 765.8 L158.3 764.7 L158.7 763.5 L159 762.7 L159.7 761.5 L160.3 760.8 L160.8 759.8 L161.6 758.9 L162.7 758.3 L163.7 757.6 L164.4 757.4 L165.7 757.1 L166.8 756.6 L167.9 756.3 L169 756.4 L170 756.5 L171.2 756.6 L172.3 756.8 L173.4 757.3 L174.6 757.9 L175.5 758.5 L176.2 759.2 L177 759.7 L177.8 760.8 L178.4 761.7 L178.9 762.8 L179.4 763.6 L179.7 764.8 L180 765.8Z" fill="none" stroke="#b9b344" stroke-width="0.9" stroke-linejoin="round"/>
<path d="M178.1 766.7 L177.9 767.6 L178.1 768.6 L177.5 769.6 L177.3 770.5 L176.9 771 L176.4 772 L175.8 772.8 L175.2 773.2 L174.3 773.9 L173.5 774.3 L172.8 774.9 L171.8 775 L170.8 775.3 L170 775.4 L168.8 775.5 L168 775.3 L167.1 775.5 L166.2 775.2 L165.4 774.9 L164.6 774.4 L163.7 773.7 L163 773.2 L162.2 772.8 L161.5 771.8 L161.2 771.2 L160.5 770.1 L160.2 769.3 L160.2 768.4 L159.8 767.6 L159.8 766.7 L159.9 765.8 L160 764.7 L160.5 764 L160.5 763.1 L161.2 762.5 L161.4 761.3 L162.2 760.8 L163 760.2 L163.5 759.5 L164.4 759.2 L165.2 758.6 L166 758.3 L166.9 758.2 L168 757.9 L168.8 757.8 L169.9 758 L170.9 758 L172 758.3 L172.7 758.5 L173.5 759.2 L174.2 759.6 L175.1 760.1 L175.9 760.9 L176.5 761.6 L176.8 762.1 L177.3 763 L177.6 764.1 L177.8 765 L178.2 765.6Z" fill="none" stroke="#3b9fe2" stroke-width="0.9" stroke-linejoin="round"/>
<path d="M174.4 766.7 L174.2 767.2 L174.1 767.8 L174 768.4 L173.9 768.8 L173.5 769.3 L173.2 769.8 L172.8 770.3 L172.5 770.6 L172 771 L171.6 771.2 L171.1 771.5 L170.6 771.8 L169.9 772 L169.4 772 L168.9 772 L168.3 771.9 L167.8 772 L167.1 771.8 L166.6 771.7 L166.2 771.2 L165.7 771.1 L165.1 770.8 L164.8 770.2 L164.5 769.8 L164.2 769.4 L163.8 768.9 L163.7 768.3 L163.5 767.9 L163.4 767.3 L163.4 766.8 L163.3 766.1 L163.6 765.6 L163.6 765.2 L163.9 764.6 L164.2 764.1 L164.5 763.5 L164.7 763.2 L165.2 762.7 L165.6 762.4 L166 762.2 L166.6 761.8 L167.1 761.7 L167.7 761.6 L168.2 761.4 L168.8 761.4 L169.4 761.3 L169.9 761.5 L170.5 761.7 L171 761.8 L171.6 762.2 L172.1 762.4 L172.5 762.7 L172.8 763.1 L173.4 763.5 L173.7 764 L173.8 764.5 L174.1 765 L174.2 765.6 L174.2 766.1Z" fill="none" stroke="#f3b487" stroke-width="0.9" stroke-linejoin="round"/>
</g>
<rect x="63" y="734.8" width="211.6" height="95.6" fill="none" stroke="#222" stroke-width="0.8"/>
<line x1="63" y1="830.5" x2="63" y2="828.9" stroke="#222" stroke-width="0.6"/>
<text transform="translate(63 836.1) scale(0.1 0.1)" font-size="49" fill="#111" text-anchor="middle" stroke="#111" stroke-width="2">-7</text>
<line x1="78.1" y1="830.5" x2="78.1" y2="828.9" stroke="#222" stroke-width="0.6"/>
<text transform="translate(78.1 836.1) scale(0.1 0.1)" font-size="49" fill="#111" text-anchor="middle" stroke="#111" stroke-width="2">-6</text>
<line x1="93.3" y1="830.5" x2="93.3" y2="828.9" stroke="#222" stroke-width="0.6"/>
<text transform="translate(93.3 836.1) scale(0.1 0.1)" font-size="49" fill="#111" text-anchor="middle" stroke="#111" stroke-width="2">-5</text>
<line x1="108.4" y1="830.5" x2="108.4" y2="828.9" stroke="#222" stroke-width="0.6"/>
<text transform="translate(108.4 836.1) scale(0.1 0.1)" font-size="49" fill="#111" text-anchor="middle" stroke="#111" stroke-width="2">-4</text>
<line x1="123.5" y1="830.5" x2="123.5" y2="828.9" stroke="#222" stroke-width="0.6"/>
<text transform="translate(123.5 836.1) scale(0.1 0.1)" font-size="49" fill="#111" text-anchor="middle" stroke="#111" stroke-width="2">-3</text>
<line x1="138.6" y1="830.5" x2="138.6" y2="828.9" stroke="#222" stroke-width="0.6"/>
<text transform="translate(138.6 836.1) scale(0.1 0.1)" font-size="49" fill="#111" text-anchor="middle" stroke="#111" stroke-width="2">-2</text>
<line x1="153.7" y1="830.5" x2="153.7" y2="828.9" stroke="#222" stroke-width="0.6"/>
<text transform="translate(153.7 836.1) scale(0.1 0.1)" font-size="49" fill="#111" text-anchor="middle" stroke="#111" stroke-width="2">-1</text>
<line x1="168.8" y1="830.5" x2="168.8" y2="828.9" stroke="#222" stroke-width="0.6"/>
<text transform="translate(168.8 836.1) scale(0.1 0.1)" font-size="49" fill="#111" text-anchor="middle" stroke="#111" stroke-width="2">0</text>
<line x1="184" y1="830.5" x2="184" y2="828.9" stroke="#222" stroke-width="0.6"/>
<text transform="translate(184 836.1) scale(0.1 0.1)" font-size="49" fill="#111" text-anchor="middle" stroke="#111" stroke-width="2">1</text>
<line x1="199.1" y1="830.5" x2="199.1" y2="828.9" stroke="#222" stroke-width="0.6"/>
<text transform="translate(199.1 836.1) scale(0.1 0.1)" font-size="49" fill="#111" text-anchor="middle" stroke="#111" stroke-width="2">2</text>
<line x1="214.2" y1="830.5" x2="214.2" y2="828.9" stroke="#222" stroke-width="0.6"/>
<text transform="translate(214.2 836.1) scale(0.1 0.1)" font-size="49" fill="#111" text-anchor="middle" stroke="#111" stroke-width="2">3</text>
<line x1="229.3" y1="830.5" x2="229.3" y2="828.9" stroke="#222" stroke-width="0.6"/>
<text transform="translate(229.3 836.1) scale(0.1 0.1)" font-size="49" fill="#111" text-anchor="middle" stroke="#111" stroke-width="2">4</text>
<line x1="244.4" y1="830.5" x2="244.4" y2="828.9" stroke="#222" stroke-width="0.6"/>
<text transform="translate(244.4 836.1) scale(0.1 0.1)" font-size="49" fill="#111" text-anchor="middle" stroke="#111" stroke-width="2">5</text>
<line x1="259.5" y1="830.5" x2="259.5" y2="828.9" stroke="#222" stroke-width="0.6"/>
<text transform="translate(259.5 836.1) scale(0.1 0.1)" font-size="49" fill="#111" text-anchor="middle" stroke="#111" stroke-width="2">6</text>
<line x1="274.7" y1="830.5" x2="274.7" y2="828.9" stroke="#222" stroke-width="0.6"/>
<text transform="translate(274.7 836.1) scale(0.1 0.1)" font-size="49" fill="#111" text-anchor="middle" stroke="#111" stroke-width="2">7</text>
<line x1="63" y1="734.8" x2="64.6" y2="734.8" stroke="#222" stroke-width="0.6"/>
<text transform="translate(61.6 736.7) scale(0.1 0.1)" font-size="50" fill="#111" text-anchor="end" stroke="#111" stroke-width="2">2</text>
<line x1="63" y1="750.8" x2="64.6" y2="750.8" stroke="#222" stroke-width="0.6"/>
<text transform="translate(61.6 752.7) scale(0.1 0.1)" font-size="50" fill="#111" text-anchor="end" stroke="#111" stroke-width="2">1</text>
<line x1="63" y1="766.7" x2="64.6" y2="766.7" stroke="#222" stroke-width="0.6"/>
<text transform="translate(61.6 768.6) scale(0.1 0.1)" font-size="50" fill="#111" text-anchor="end" stroke="#111" stroke-width="2">0</text>
<line x1="63" y1="782.6" x2="64.6" y2="782.6" stroke="#222" stroke-width="0.6"/>
<text transform="translate(61.6 784.5) scale(0.1 0.1)" font-size="50" fill="#111" text-anchor="end" stroke="#111" stroke-width="2">1</text>
<line x1="63" y1="798.6" x2="64.6" y2="798.6" stroke="#222" stroke-width="0.6"/>
<text transform="translate(61.6 800.5) scale(0.1 0.1)" font-size="50" fill="#111" text-anchor="end" stroke="#111" stroke-width="2">2</text>
<line x1="63" y1="814.5" x2="64.6" y2="814.5" stroke="#222" stroke-width="0.6"/>
<text transform="translate(61.6 816.4) scale(0.1 0.1)" font-size="50" fill="#111" text-anchor="end" stroke="#111" stroke-width="2">3</text>
<line x1="63" y1="830.5" x2="64.6" y2="830.5" stroke="#222" stroke-width="0.6"/>
<text transform="translate(61.6 832.4) scale(0.1 0.1)" font-size="50" fill="#111" text-anchor="end" stroke="#111" stroke-width="2">4</text>
<text transform="translate(168.7 715.2) scale(0.11 0.1)" font-size="52" fill="#111" text-anchor="middle" font-family="'Liberation Serif','Noto Serif CJK SC',serif" font-weight="700">路 面 等 照 度 曲 线</text>
<text transform="translate(168.7 727.6) scale(0.108 0.1)" font-size="52" fill="#111" text-anchor="middle" font-family="'Liberation Serif','Noto Serif CJK SC',serif" font-weight="700">安装高度10米.垂直灯下点照度:4.48 lx</text>
<text transform="translate(168.7 844.6) scale(0.115 0.1)" font-size="58" fill="#111" text-anchor="middle" font-family="'Liberation Serif','Noto Serif CJK SC',serif" font-weight="700" letter-spacing="26">距高比</text>
<text transform="translate(47.2 782.5) rotate(-90) scale(0.11 0.1)" font-size="52" fill="#111" text-anchor="middle" font-family="'Liberation Serif','Noto Serif CJK SC',serif" font-weight="700">路边侧  距高比  屋边侧</text>
<line x1="65" y1="859.4" x2="72" y2="859.4" stroke="#6ecfcf" stroke-width="1.0"/>
<text transform="translate(81.2 863.2) scale(0.1 0.1)" font-size="48" fill="#111" text-anchor="start" stroke="#111" stroke-width="2">0.022</text>
<line x1="65" y1="877.1" x2="72" y2="877.1" stroke="#cf45b8" stroke-width="1.0"/>
<text transform="translate(84.4 881.6) scale(0.1 0.1)" font-size="48" fill="#111" text-anchor="start" stroke="#111" stroke-width="2">1.3</text>
<line x1="108.5" y1="859.4" x2="115.5" y2="859.4" stroke="#4b3eb5" stroke-width="1.0"/>
<text transform="translate(124.7 863.2) scale(0.1 0.1)" font-size="48" fill="#111" text-anchor="start" stroke="#111" stroke-width="2">0.045</text>
<line x1="108.5" y1="877.1" x2="115.5" y2="877.1" stroke="#1e1e1e" stroke-width="1.0"/>
<text transform="translate(127.9 881.6) scale(0.1 0.1)" font-size="48" fill="#111" text-anchor="start" stroke="#111" stroke-width="2">1.8</text>
<line x1="150.7" y1="859.4" x2="157.7" y2="859.4" stroke="#6cc23a" stroke-width="1.0"/>
<text transform="translate(166.9 863.2) scale(0.1 0.1)" font-size="48" fill="#111" text-anchor="start" stroke="#111" stroke-width="2">0.130</text>
<line x1="150.7" y1="877.1" x2="157.7" y2="877.1" stroke="#b9b344" stroke-width="1.0"/>
<text transform="translate(170.1 881.6) scale(0.1 0.1)" font-size="48" fill="#111" text-anchor="start" stroke="#111" stroke-width="2">2.2</text>
<line x1="193" y1="859.4" x2="200" y2="859.4" stroke="#e2613a" stroke-width="1.0"/>
<text transform="translate(209.2 863.2) scale(0.1 0.1)" font-size="48" fill="#111" text-anchor="start" stroke="#111" stroke-width="2">0.220</text>
<line x1="193" y1="877.1" x2="200" y2="877.1" stroke="#3b9fe2" stroke-width="1.0"/>
<text transform="translate(212.4 881.6) scale(0.1 0.1)" font-size="48" fill="#111" text-anchor="start" stroke="#111" stroke-width="2">2.7</text>
<line x1="234.8" y1="859.4" x2="241.8" y2="859.4" stroke="#f6f05c" stroke-width="1.0"/>
<text transform="translate(251 863.2) scale(0.1 0.1)" font-size="48" fill="#111" text-anchor="start" stroke="#111" stroke-width="2">0.450</text>
<line x1="234.8" y1="877.1" x2="241.8" y2="877.1" stroke="#f3b487" stroke-width="1.0"/>
<text transform="translate(254.2 881.6) scale(0.1 0.1)" font-size="48" fill="#111" text-anchor="start" stroke="#111" stroke-width="2">3.6</text>
</g>
<rect x="299.6" y="701.2" width="244.9" height="185.4" fill="#fff" stroke="#8a8a8a" stroke-width="0.8"/>
<g id="p5">
<path d="M398 877.1 L391.4 876.2 L385 874.7 L378.7 872.6 L372.7 870 L366.9 866.9 L361.5 863.3 L356.4 859.2 L351.6 854.7 L347.2 849.9 L343.2 844.7 L339.7 839.2 L336.5 833.4 L333.9 827.4 L331.7 821.2 L330 814.9 L328.7 808.4 L328 801.9 L327.7 795.3 L328 788.7 L328.7 782.2 L330 775.7 L331.7 769.4 L333.9 763.2 L336.5 757.2 L339.7 751.4 L343.2 745.9 L347.2 740.7 L351.6 735.9 L356.4 731.4 L361.5 727.3 L366.9 723.7 L372.7 720.6 L378.7 718 L385 715.9 L391.4 714.4 L398 713.5 M398 877.1 L391.8 875.6 L385.7 873.6 L380 871 L374.5 868 L369.3 864.6 L364.4 860.8 L359.9 856.6 L355.7 852 L351.9 847.2 L348.5 842.1 L345.4 836.8 L342.7 831.2 L340.5 825.5 L338.6 819.6 L337.2 813.7 L336.1 807.6 L335.5 801.5 L335.3 795.3 L335.5 789.1 L336.1 783 L337.2 776.9 L338.6 771 L340.5 765.1 L342.7 759.4 L345.4 753.8 L348.5 748.5 L351.9 743.4 L355.7 738.6 L359.9 734 L364.4 729.8 L369.3 726 L374.5 722.6 L380 719.6 L385.7 717 L391.8 715 L398 713.5 M398 877.1 L392.3 875.1 L386.8 872.6 L381.7 869.6 L376.8 866.3 L372.3 862.7 L368.1 858.7 L364.2 854.4 L360.6 849.8 L357.3 845 L354.4 840 L351.8 834.8 L349.6 829.5 L347.7 824 L346.1 818.4 L344.9 812.7 L344 806.9 L343.5 801.1 L343.3 795.3 L343.5 789.5 L344 783.7 L344.9 777.9 L346.1 772.2 L347.7 766.6 L349.6 761.1 L351.8 755.8 L354.4 750.6 L357.3 745.6 L360.6 740.8 L364.2 736.2 L368.1 731.9 L372.3 727.9 L376.8 724.3 L381.7 721 L386.8 718 L392.3 715.5 L398 713.5 M398 877.1 L393 874.6 L388.2 871.7 L383.8 868.5 L379.7 864.9 L375.8 861 L372.2 856.9 L369 852.6 L366 848 L363.3 843.3 L360.9 838.3 L358.7 833.3 L356.9 828.1 L355.3 822.8 L354.1 817.4 L353.1 811.9 L352.4 806.4 L351.9 800.9 L351.8 795.3 L351.9 789.7 L352.4 784.2 L353.1 778.7 L354.1 773.2 L355.3 767.8 L356.9 762.5 L358.7 757.3 L360.9 752.3 L363.3 747.3 L366 742.6 L369 738 L372.2 733.7 L375.8 729.6 L379.7 725.7 L383.8 722.1 L388.2 718.9 L393 716 L398 713.5 M398 877.1 L393.8 874.2 L389.9 871 L386.3 867.5 L382.9 863.7 L379.7 859.7 L376.9 855.5 L374.2 851.2 L371.9 846.6 L369.7 841.9 L367.8 837 L366.1 832.1 L364.6 827 L363.4 821.9 L362.4 816.6 L361.6 811.4 L361.1 806 L360.7 800.7 L360.6 795.3 L360.7 789.9 L361.1 784.6 L361.6 779.2 L362.4 774 L363.4 768.7 L364.6 763.6 L366.1 758.5 L367.8 753.6 L369.7 748.7 L371.9 744 L374.2 739.4 L376.9 735.1 L379.7 730.9 L382.9 726.9 L386.3 723.1 L389.9 719.6 L393.8 716.4 L398 713.5 M398 877.1 L394.8 873.9 L391.7 870.4 L389 866.7 L386.4 862.8 L384 858.7 L381.9 854.5 L379.9 850.1 L378.1 845.5 L376.5 840.9 L375 836.1 L373.8 831.2 L372.7 826.2 L371.8 821.2 L371 816.1 L370.5 810.9 L370 805.7 L369.8 800.5 L369.7 795.3 L369.8 790.1 L370 784.9 L370.5 779.7 L371 774.5 L371.8 769.4 L372.7 764.4 L373.8 759.4 L375 754.5 L376.5 749.7 L378.1 745.1 L379.9 740.5 L381.9 736.1 L384 731.9 L386.4 727.8 L389 723.9 L391.7 720.2 L394.8 716.7 L398 713.5 M398 877.1 L395.8 873.6 L393.7 870 L391.9 866.2 L390.1 862.2 L388.5 858 L387.1 853.7 L385.8 849.3 L384.6 844.8 L383.5 840.1 L382.6 835.4 L381.7 830.6 L381 825.7 L380.4 820.7 L379.9 815.7 L379.5 810.6 L379.2 805.5 L379.1 800.4 L379 795.3 L379.1 790.2 L379.2 785.1 L379.5 780 L379.9 774.9 L380.4 769.9 L381 764.9 L381.7 760 L382.6 755.2 L383.5 750.5 L384.6 745.8 L385.8 741.3 L387.1 736.9 L388.5 732.6 L390.1 728.4 L391.9 724.4 L393.7 720.6 L395.8 717 L398 713.5 M398 877.1 L396.9 873.5 L395.8 869.7 L394.9 865.8 L394 861.8 L393.2 857.6 L392.5 853.3 L391.8 848.9 L391.2 844.3 L390.7 839.7 L390.2 835 L389.8 830.2 L389.5 825.3 L389.2 820.4 L388.9 815.5 L388.7 810.5 L388.6 805.4 L388.5 800.4 L388.5 795.3 L388.5 790.2 L388.6 785.2 L388.7 780.1 L388.9 775.1 L389.2 770.2 L389.5 765.3 L389.8 760.4 L390.2 755.6 L390.7 750.9 L391.2 746.3 L391.8 741.7 L392.5 737.3 L393.2 733 L394 728.8 L394.9 724.8 L395.8 720.9 L396.9 717.1 L398 713.5 M398 877.1 L398 873.5 L398 869.7 L398 865.7 L398 861.7 L398 857.5 L398 853.1 L398 848.7 L398 844.2 L398 839.6 L398 834.9 L398 830.1 L398 825.2 L398 820.3 L398 815.4 L398 810.4 L398 805.4 L398 800.3 L398 795.3 L398 790.3 L398 785.2 L398 780.2 L398 775.2 L398 770.3 L398 765.4 L398 760.5 L398 755.7 L398 751 L398 746.4 L398 741.9 L398 737.5 L398 733.1 L398 728.9 L398 724.9 L398 720.9 L398 717.1 L398 713.5 M398 877.1 L399.1 873.5 L400.2 869.7 L401.1 865.8 L402 861.8 L402.8 857.6 L403.5 853.3 L404.2 848.9 L404.8 844.3 L405.3 839.7 L405.8 835 L406.2 830.2 L406.5 825.3 L406.8 820.4 L407.1 815.5 L407.3 810.5 L407.4 805.4 L407.5 800.4 L407.5 795.3 L407.5 790.2 L407.4 785.2 L407.3 780.1 L407.1 775.1 L406.8 770.2 L406.5 765.3 L406.2 760.4 L405.8 755.6 L405.3 750.9 L404.8 746.3 L404.2 741.7 L403.5 737.3 L402.8 733 L402 728.8 L401.1 724.8 L400.2 720.9 L399.1 717.1 L398 713.5 M398 877.1 L400.2 873.6 L402.3 870 L404.1 866.2 L405.9 862.2 L407.5 858 L408.9 853.7 L410.2 849.3 L411.4 844.8 L412.5 840.1 L413.4 835.4 L414.3 830.6 L415 825.7 L415.6 820.7 L416.1 815.7 L416.5 810.6 L416.8 805.5 L416.9 800.4 L417 795.3 L416.9 790.2 L416.8 785.1 L416.5 780 L416.1 774.9 L415.6 769.9 L415 764.9 L414.3 760 L413.4 755.2 L412.5 750.5 L411.4 745.8 L410.2 741.3 L408.9 736.9 L407.5 732.6 L405.9 728.4 L404.1 724.4 L402.3 720.6 L400.2 717 L398 713.5 M398 877.1 L401.2 873.9 L404.3 870.4 L407 866.7 L409.6 862.8 L412 858.7 L414.1 854.5 L416.1 850.1 L417.9 845.5 L419.5 840.9 L421 836.1 L422.2 831.2 L423.3 826.2 L424.2 821.2 L425 816.1 L425.5 810.9 L426 805.7 L426.2 800.5 L426.3 795.3 L426.2 790.1 L426 784.9 L425.5 779.7 L425 774.5 L424.2 769.4 L423.3 764.4 L422.2 759.4 L421 754.5 L419.5 749.7 L417.9 745.1 L416.1 740.5 L414.1 736.1 L412 731.9 L409.6 727.8 L407 723.9 L404.3 720.2 L401.2 716.7 L398 713.5 M398 877.1 L402.2 874.2 L406.1 871 L409.7 867.5 L413.1 863.7 L416.3 859.7 L419.1 855.5 L421.8 851.2 L424.1 846.6 L426.3 841.9 L428.2 837 L429.9 832.1 L431.4 827 L432.6 821.9 L433.6 816.6 L434.4 811.4 L434.9 806 L435.3 800.7 L435.4 795.3 L435.3 789.9 L434.9 784.6 L434.4 779.2 L433.6 774 L432.6 768.7 L431.4 763.6 L429.9 758.5 L428.2 753.6 L426.3 748.7 L424.1 744 L421.8 739.4 L419.1 735.1 L416.3 730.9 L413.1 726.9 L409.7 723.1 L406.1 719.6 L402.2 716.4 L398 713.5 M398 877.1 L403 874.6 L407.8 871.7 L412.2 868.5 L416.3 864.9 L420.2 861 L423.8 856.9 L427 852.6 L430 848 L432.7 843.3 L435.1 838.3 L437.3 833.3 L439.1 828.1 L440.7 822.8 L441.9 817.4 L442.9 811.9 L443.6 806.4 L444.1 800.9 L444.2 795.3 L444.1 789.7 L443.6 784.2 L442.9 778.7 L441.9 773.2 L440.7 767.8 L439.1 762.5 L437.3 757.3 L435.1 752.3 L432.7 747.3 L430 742.6 L427 738 L423.8 733.7 L420.2 729.6 L416.3 725.7 L412.2 722.1 L407.8 718.9 L403 716 L398 713.5 M398 877.1 L403.7 875.1 L409.2 872.6 L414.3 869.6 L419.2 866.3 L423.7 862.7 L427.9 858.7 L431.8 854.4 L435.4 849.8 L438.7 845 L441.6 840 L444.2 834.8 L446.4 829.5 L448.3 824 L449.9 818.4 L451.1 812.7 L452 806.9 L452.5 801.1 L452.7 795.3 L452.5 789.5 L452 783.7 L451.1 777.9 L449.9 772.2 L448.3 766.6 L446.4 761.1 L444.2 755.8 L441.6 750.6 L438.7 745.6 L435.4 740.8 L431.8 736.2 L427.9 731.9 L423.7 727.9 L419.2 724.3 L414.3 721 L409.2 718 L403.7 715.5 L398 713.5 M398 877.1 L404.2 875.6 L410.3 873.6 L416 871 L421.5 868 L426.7 864.6 L431.6 860.8 L436.1 856.6 L440.3 852 L444.1 847.2 L447.5 842.1 L450.6 836.8 L453.3 831.2 L455.5 825.5 L457.4 819.6 L458.8 813.7 L459.9 807.6 L460.5 801.5 L460.7 795.3 L460.5 789.1 L459.9 783 L458.8 776.9 L457.4 771 L455.5 765.1 L453.3 759.4 L450.6 753.8 L447.5 748.5 L444.1 743.4 L440.3 738.6 L436.1 734 L431.6 729.8 L426.7 726 L421.5 722.6 L416 719.6 L410.3 717 L404.2 715 L398 713.5 M398 877.1 L404.6 876.2 L411 874.7 L417.3 872.6 L423.3 870 L429.1 866.9 L434.5 863.3 L439.6 859.2 L444.4 854.7 L448.8 849.9 L452.8 844.7 L456.3 839.2 L459.5 833.4 L462.1 827.4 L464.3 821.2 L466 814.9 L467.3 808.4 L468 801.9 L468.3 795.3 L468 788.7 L467.3 782.2 L466 775.7 L464.3 769.4 L462.1 763.2 L459.5 757.2 L456.3 751.4 L452.8 745.9 L448.8 740.7 L444.4 735.9 L439.6 731.4 L434.5 727.3 L429.1 723.7 L423.3 720.6 L417.3 718 L411 715.9 L404.6 714.4 L398 713.5 M391.3 876.8 L391.3 876.4 L391.5 876.1 L391.7 875.7 L392 875.4 L392.3 875.1 L392.7 874.8 L393.1 874.5 L393.6 874.3 L394.2 874.1 L394.8 873.9 L395.4 873.7 L396 873.6 L396.7 873.5 L397.3 873.5 L398 873.5 L398.7 873.5 L399.3 873.5 L400 873.6 L400.6 873.7 L401.2 873.9 L401.8 874.1 L402.4 874.3 L402.9 874.5 L403.3 874.8 L403.7 875.1 L404 875.4 L404.3 875.7 L404.5 876.1 L404.7 876.4 L404.7 876.8 M384.6 875.9 L384.8 875.1 L385.1 874.4 L385.6 873.8 L386.1 873.2 L386.8 872.6 L387.7 872 L388.6 871.5 L389.5 871.1 L390.6 870.7 L391.7 870.4 L392.9 870.1 L394.2 869.9 L395.4 869.8 L396.7 869.7 L398 869.7 L399.3 869.7 L400.6 869.8 L401.8 869.9 L403.1 870.1 L404.3 870.4 L405.4 870.7 L406.5 871.1 L407.4 871.5 L408.3 872 L409.2 872.6 L409.9 873.2 L410.4 873.8 L410.9 874.4 L411.2 875.1 L411.4 875.9 M378 874.3 L378.4 873.3 L378.9 872.3 L379.7 871.3 L380.6 870.5 L381.7 869.6 L382.9 868.9 L384.3 868.2 L385.7 867.7 L387.3 867.1 L389 866.7 L390.7 866.4 L392.5 866.1 L394.3 865.9 L396.1 865.8 L398 865.7 L399.9 865.8 L401.7 865.9 L403.5 866.1 L405.3 866.4 L407 866.7 L408.7 867.1 L410.3 867.7 L411.7 868.2 L413.1 868.9 L414.3 869.6 L415.4 870.5 L416.3 871.3 L417.1 872.3 L417.6 873.3 L418 874.3 M371.6 872.2 L372.2 870.8 L373 869.6 L374.1 868.4 L375.4 867.3 L376.8 866.3 L378.5 865.4 L380.3 864.6 L382.2 863.9 L384.2 863.3 L386.4 862.8 L388.6 862.4 L390.9 862.1 L393.2 861.8 L395.6 861.7 L398 861.7 L400.4 861.7 L402.8 861.8 L405.1 862.1 L407.4 862.4 L409.6 862.8 L411.8 863.3 L413.8 863.9 L415.7 864.6 L417.5 865.4 L419.2 866.3 L420.6 867.3 L421.9 868.4 L423 869.6 L423.8 870.8 L424.4 872.2 M365.3 869.4 L366.2 867.9 L367.4 866.4 L368.8 865 L370.4 863.8 L372.3 862.7 L374.3 861.7 L376.6 860.8 L378.9 860 L381.4 859.3 L384 858.7 L386.7 858.3 L389.5 857.9 L392.3 857.7 L395.1 857.5 L398 857.5 L400.9 857.5 L403.7 857.7 L406.5 857.9 L409.3 858.3 L412 858.7 L414.6 859.3 L417.1 860 L419.4 860.8 L421.7 861.7 L423.7 862.7 L425.6 863.8 L427.2 865 L428.6 866.4 L429.8 867.9 L430.7 869.4 M359.4 866.1 L360.5 864.4 L362 862.7 L363.8 861.2 L365.8 859.9 L368.1 858.7 L370.5 857.6 L373.1 856.6 L375.9 855.8 L378.8 855.1 L381.9 854.5 L385 854 L388.2 853.6 L391.4 853.4 L394.7 853.2 L398 853.1 L401.3 853.2 L404.6 853.4 L407.8 853.6 L411 854 L414.1 854.5 L417.2 855.1 L420.1 855.8 L422.9 856.6 L425.5 857.6 L427.9 858.7 L430.2 859.9 L432.2 861.2 L434 862.7 L435.5 864.4 L436.6 866.1 M353.7 862.3 L355.2 860.4 L357 858.6 L359.1 857.1 L361.5 855.6 L364.2 854.4 L367 853.2 L370 852.3 L373.2 851.4 L376.5 850.7 L379.9 850.1 L383.4 849.6 L387 849.2 L390.6 848.9 L394.3 848.8 L398 848.7 L401.7 848.8 L405.4 848.9 L409 849.2 L412.6 849.6 L416.1 850.1 L419.5 850.7 L422.8 851.4 L426 852.3 L429 853.2 L431.8 854.4 L434.5 855.6 L436.9 857.1 L439 858.6 L440.8 860.4 L442.3 862.3 M348.3 858 L350.2 856 L352.4 854.2 L354.8 852.5 L357.6 851.1 L360.6 849.8 L363.8 848.7 L367.1 847.7 L370.6 846.8 L374.3 846.1 L378.1 845.5 L382 845 L385.9 844.7 L389.9 844.4 L393.9 844.2 L398 844.2 L402.1 844.2 L406.1 844.4 L410.1 844.7 L414 845 L417.9 845.5 L421.7 846.1 L425.4 846.8 L428.9 847.7 L432.2 848.7 L435.4 849.8 L438.4 851.1 L441.2 852.5 L443.6 854.2 L445.8 856 L447.7 858 M343.3 853.1 L345.5 851.1 L348.1 849.3 L350.9 847.7 L354 846.3 L357.3 845 L360.8 843.9 L364.5 843 L368.4 842.1 L372.4 841.4 L376.5 840.9 L380.7 840.4 L384.9 840 L389.3 839.8 L393.6 839.6 L398 839.6 L402.4 839.6 L406.7 839.8 L411.1 840 L415.3 840.4 L419.5 840.9 L423.6 841.4 L427.6 842.1 L431.5 843 L435.2 843.9 L438.7 845 L442 846.3 L445.1 847.7 L447.9 849.3 L450.5 851.1 L452.7 853.1 M338.8 847.9 L341.3 845.9 L344.2 844.1 L347.4 842.6 L350.8 841.2 L354.4 840 L358.2 839 L362.2 838.1 L366.4 837.3 L370.7 836.6 L375 836.1 L379.5 835.6 L384.1 835.3 L388.7 835.1 L393.3 834.9 L398 834.9 L402.7 834.9 L407.3 835.1 L411.9 835.3 L416.5 835.6 L421 836.1 L425.3 836.6 L429.6 837.3 L433.8 838.1 L437.8 839 L441.6 840 L445.2 841.2 L448.6 842.6 L451.8 844.1 L454.7 845.9 L457.2 847.9 M334.7 842.2 L337.6 840.3 L340.7 838.7 L344.2 837.2 L347.9 835.9 L351.8 834.8 L355.9 833.8 L360.2 833 L364.6 832.3 L369.1 831.7 L373.8 831.2 L378.5 830.8 L383.3 830.5 L388.2 830.3 L393.1 830.1 L398 830.1 L402.9 830.1 L407.8 830.3 L412.7 830.5 L417.5 830.8 L422.2 831.2 L426.9 831.7 L431.4 832.3 L435.8 833 L440.1 833.8 L444.2 834.8 L448.1 835.9 L451.8 837.2 L455.3 838.7 L458.4 840.3 L461.3 842.2 M331.1 836.2 L334.2 834.5 L337.7 833 L341.5 831.6 L345.4 830.5 L349.6 829.5 L353.9 828.6 L358.4 827.8 L363.1 827.2 L367.8 826.7 L372.7 826.2 L377.7 825.9 L382.7 825.6 L387.8 825.4 L392.9 825.3 L398 825.2 L403.1 825.3 L408.2 825.4 L413.3 825.6 L418.3 825.9 L423.3 826.2 L428.2 826.7 L432.9 827.2 L437.6 827.8 L442.1 828.6 L446.4 829.5 L450.6 830.5 L454.5 831.6 L458.3 833 L461.8 834.5 L464.9 836.2 M327.9 829.9 L331.4 828.3 L335.1 827 L339.1 825.9 L343.3 824.9 L347.7 824 L352.2 823.2 L356.9 822.6 L361.8 822 L366.7 821.6 L371.8 821.2 L376.9 820.9 L382.1 820.6 L387.4 820.5 L392.7 820.4 L398 820.3 L403.3 820.4 L408.6 820.5 L413.9 820.6 L419.1 820.9 L424.2 821.2 L429.3 821.6 L434.2 822 L439.1 822.6 L443.8 823.2 L448.3 824 L452.7 824.9 L456.9 825.9 L460.9 827 L464.6 828.3 L468.1 829.9 M325.4 823.3 L329.1 822 L333 820.9 L337.2 819.9 L341.6 819.1 L346.1 818.4 L350.8 817.8 L355.7 817.2 L360.7 816.8 L365.8 816.4 L371 816.1 L376.3 815.8 L381.7 815.6 L387.1 815.5 L392.5 815.4 L398 815.4 L403.5 815.4 L408.9 815.5 L414.3 815.6 L419.7 815.8 L425 816.1 L430.2 816.4 L435.3 816.8 L440.3 817.2 L445.2 817.8 L449.9 818.4 L454.4 819.1 L458.8 819.9 L463 820.9 L466.9 822 L470.6 823.3 M323.3 816.5 L327.2 815.5 L331.4 814.6 L335.7 813.9 L340.2 813.2 L344.9 812.7 L349.8 812.2 L354.8 811.8 L359.9 811.5 L365.1 811.2 L370.5 810.9 L375.9 810.7 L381.3 810.6 L386.9 810.5 L392.4 810.4 L398 810.4 L403.6 810.4 L409.1 810.5 L414.7 810.6 L420.1 810.7 L425.5 810.9 L430.9 811.2 L436.1 811.5 L441.2 811.8 L446.2 812.2 L451.1 812.7 L455.8 813.2 L460.3 813.9 L464.6 814.6 L468.8 815.5 L472.7 816.5 M321.9 809.5 L325.9 808.8 L330.2 808.2 L334.6 807.7 L339.2 807.3 L344 806.9 L349 806.6 L354.1 806.3 L359.3 806.1 L364.6 805.9 L370 805.7 L375.5 805.6 L381.1 805.5 L386.7 805.4 L392.3 805.4 L398 805.4 L403.7 805.4 L409.3 805.4 L414.9 805.5 L420.5 805.6 L426 805.7 L431.4 805.9 L436.7 806.1 L441.9 806.3 L447 806.6 L452 806.9 L456.8 807.3 L461.4 807.7 L465.8 808.2 L470.1 808.8 L474.1 809.5 M321 802.4 L325.1 802.1 L329.4 801.8 L334 801.5 L338.7 801.3 L343.5 801.1 L348.5 801 L353.7 800.8 L358.9 800.7 L364.3 800.6 L369.8 800.5 L375.3 800.5 L380.9 800.4 L386.6 800.4 L392.3 800.4 L398 800.3 L403.7 800.4 L409.4 800.4 L415.1 800.4 L420.7 800.5 L426.2 800.5 L431.7 800.6 L437.1 800.7 L442.3 800.8 L447.5 801 L452.5 801.1 L457.3 801.3 L462 801.5 L466.6 801.8 L470.9 802.1 L475 802.4 M320.7 795.3 L324.9 795.3 L329.2 795.3 L333.7 795.3 L338.5 795.3 L343.3 795.3 L348.4 795.3 L353.5 795.3 L358.8 795.3 L364.2 795.3 L369.7 795.3 L375.3 795.3 L380.9 795.3 L386.6 795.3 L392.3 795.3 L398 795.3 L403.7 795.3 L409.4 795.3 L415.1 795.3 L420.7 795.3 L426.3 795.3 L431.8 795.3 L437.2 795.3 L442.5 795.3 L447.6 795.3 L452.7 795.3 L457.5 795.3 L462.3 795.3 L466.8 795.3 L471.1 795.3 L475.3 795.3 M321 788.2 L325.1 788.5 L329.4 788.8 L334 789.1 L338.7 789.3 L343.5 789.5 L348.5 789.6 L353.7 789.8 L358.9 789.9 L364.3 790 L369.8 790.1 L375.3 790.1 L380.9 790.2 L386.6 790.2 L392.3 790.2 L398 790.3 L403.7 790.2 L409.4 790.2 L415.1 790.2 L420.7 790.1 L426.2 790.1 L431.7 790 L437.1 789.9 L442.3 789.8 L447.5 789.6 L452.5 789.5 L457.3 789.3 L462 789.1 L466.6 788.8 L470.9 788.5 L475 788.2 M321.9 781.1 L325.9 781.8 L330.2 782.4 L334.6 782.9 L339.2 783.3 L344 783.7 L349 784 L354.1 784.3 L359.3 784.5 L364.6 784.7 L370 784.9 L375.5 785 L381.1 785.1 L386.7 785.2 L392.3 785.2 L398 785.2 L403.7 785.2 L409.3 785.2 L414.9 785.1 L420.5 785 L426 784.9 L431.4 784.7 L436.7 784.5 L441.9 784.3 L447 784 L452 783.7 L456.8 783.3 L461.4 782.9 L465.8 782.4 L470.1 781.8 L474.1 781.1 M323.3 774.1 L327.2 775.1 L331.4 776 L335.7 776.7 L340.2 777.4 L344.9 777.9 L349.8 778.4 L354.8 778.8 L359.9 779.1 L365.1 779.4 L370.5 779.7 L375.9 779.9 L381.3 780 L386.9 780.1 L392.4 780.2 L398 780.2 L403.6 780.2 L409.1 780.1 L414.7 780 L420.1 779.9 L425.5 779.7 L430.9 779.4 L436.1 779.1 L441.2 778.8 L446.2 778.4 L451.1 777.9 L455.8 777.4 L460.3 776.7 L464.6 776 L468.8 775.1 L472.7 774.1 M325.4 767.3 L329.1 768.6 L333 769.7 L337.2 770.7 L341.6 771.5 L346.1 772.2 L350.8 772.8 L355.7 773.4 L360.7 773.8 L365.8 774.2 L371 774.5 L376.3 774.8 L381.7 775 L387.1 775.1 L392.5 775.2 L398 775.2 L403.5 775.2 L408.9 775.1 L414.3 775 L419.7 774.8 L425 774.5 L430.2 774.2 L435.3 773.8 L440.3 773.4 L445.2 772.8 L449.9 772.2 L454.4 771.5 L458.8 770.7 L463 769.7 L466.9 768.6 L470.6 767.3 M327.9 760.7 L331.4 762.3 L335.1 763.6 L339.1 764.7 L343.3 765.7 L347.7 766.6 L352.2 767.4 L356.9 768 L361.8 768.6 L366.7 769 L371.8 769.4 L376.9 769.7 L382.1 770 L387.4 770.1 L392.7 770.2 L398 770.3 L403.3 770.2 L408.6 770.1 L413.9 770 L419.1 769.7 L424.2 769.4 L429.3 769 L434.2 768.6 L439.1 768 L443.8 767.4 L448.3 766.6 L452.7 765.7 L456.9 764.7 L460.9 763.6 L464.6 762.3 L468.1 760.7 M331.1 754.4 L334.2 756.1 L337.7 757.6 L341.5 759 L345.4 760.1 L349.6 761.1 L353.9 762 L358.4 762.8 L363.1 763.4 L367.8 763.9 L372.7 764.4 L377.7 764.7 L382.7 765 L387.8 765.2 L392.9 765.3 L398 765.4 L403.1 765.3 L408.2 765.2 L413.3 765 L418.3 764.7 L423.3 764.4 L428.2 763.9 L432.9 763.4 L437.6 762.8 L442.1 762 L446.4 761.1 L450.6 760.1 L454.5 759 L458.3 757.6 L461.8 756.1 L464.9 754.4 M334.7 748.4 L337.6 750.3 L340.7 751.9 L344.2 753.4 L347.9 754.7 L351.8 755.8 L355.9 756.8 L360.2 757.6 L364.6 758.3 L369.1 758.9 L373.8 759.4 L378.5 759.8 L383.3 760.1 L388.2 760.3 L393.1 760.5 L398 760.5 L402.9 760.5 L407.8 760.3 L412.7 760.1 L417.5 759.8 L422.2 759.4 L426.9 758.9 L431.4 758.3 L435.8 757.6 L440.1 756.8 L444.2 755.8 L448.1 754.7 L451.8 753.4 L455.3 751.9 L458.4 750.3 L461.3 748.4 M338.8 742.7 L341.3 744.7 L344.2 746.5 L347.4 748 L350.8 749.4 L354.4 750.6 L358.2 751.6 L362.2 752.5 L366.4 753.3 L370.7 754 L375 754.5 L379.5 755 L384.1 755.3 L388.7 755.5 L393.3 755.7 L398 755.7 L402.7 755.7 L407.3 755.5 L411.9 755.3 L416.5 755 L421 754.5 L425.3 754 L429.6 753.3 L433.8 752.5 L437.8 751.6 L441.6 750.6 L445.2 749.4 L448.6 748 L451.8 746.5 L454.7 744.7 L457.2 742.7 M343.3 737.5 L345.5 739.5 L348.1 741.3 L350.9 742.9 L354 744.3 L357.3 745.6 L360.8 746.7 L364.5 747.6 L368.4 748.5 L372.4 749.2 L376.5 749.7 L380.7 750.2 L384.9 750.6 L389.3 750.8 L393.6 751 L398 751 L402.4 751 L406.7 750.8 L411.1 750.6 L415.3 750.2 L419.5 749.7 L423.6 749.2 L427.6 748.5 L431.5 747.6 L435.2 746.7 L438.7 745.6 L442 744.3 L445.1 742.9 L447.9 741.3 L450.5 739.5 L452.7 737.5 M348.3 732.6 L350.2 734.6 L352.4 736.4 L354.8 738.1 L357.6 739.5 L360.6 740.8 L363.8 741.9 L367.1 742.9 L370.6 743.8 L374.3 744.5 L378.1 745.1 L382 745.6 L385.9 745.9 L389.9 746.2 L393.9 746.4 L398 746.4 L402.1 746.4 L406.1 746.2 L410.1 745.9 L414 745.6 L417.9 745.1 L421.7 744.5 L425.4 743.8 L428.9 742.9 L432.2 741.9 L435.4 740.8 L438.4 739.5 L441.2 738.1 L443.6 736.4 L445.8 734.6 L447.7 732.6 M353.7 728.3 L355.2 730.2 L357 732 L359.1 733.5 L361.5 735 L364.2 736.2 L367 737.4 L370 738.3 L373.2 739.2 L376.5 739.9 L379.9 740.5 L383.4 741 L387 741.4 L390.6 741.7 L394.3 741.8 L398 741.9 L401.7 741.8 L405.4 741.7 L409 741.4 L412.6 741 L416.1 740.5 L419.5 739.9 L422.8 739.2 L426 738.3 L429 737.4 L431.8 736.2 L434.5 735 L436.9 733.5 L439 732 L440.8 730.2 L442.3 728.3 M359.4 724.5 L360.5 726.2 L362 727.9 L363.8 729.4 L365.8 730.7 L368.1 731.9 L370.5 733 L373.1 734 L375.9 734.8 L378.8 735.5 L381.9 736.1 L385 736.6 L388.2 737 L391.4 737.2 L394.7 737.4 L398 737.5 L401.3 737.4 L404.6 737.2 L407.8 737 L411 736.6 L414.1 736.1 L417.2 735.5 L420.1 734.8 L422.9 734 L425.5 733 L427.9 731.9 L430.2 730.7 L432.2 729.4 L434 727.9 L435.5 726.2 L436.6 724.5 M365.3 721.2 L366.2 722.7 L367.4 724.2 L368.8 725.6 L370.4 726.8 L372.3 727.9 L374.3 728.9 L376.6 729.8 L378.9 730.6 L381.4 731.3 L384 731.9 L386.7 732.3 L389.5 732.7 L392.3 732.9 L395.1 733.1 L398 733.1 L400.9 733.1 L403.7 732.9 L406.5 732.7 L409.3 732.3 L412 731.9 L414.6 731.3 L417.1 730.6 L419.4 729.8 L421.7 728.9 L423.7 727.9 L425.6 726.8 L427.2 725.6 L428.6 724.2 L429.8 722.7 L430.7 721.2 M371.6 718.4 L372.2 719.8 L373 721 L374.1 722.2 L375.4 723.3 L376.8 724.3 L378.5 725.2 L380.3 726 L382.2 726.7 L384.2 727.3 L386.4 727.8 L388.6 728.2 L390.9 728.5 L393.2 728.8 L395.6 728.9 L398 728.9 L400.4 728.9 L402.8 728.8 L405.1 728.5 L407.4 728.2 L409.6 727.8 L411.8 727.3 L413.8 726.7 L415.7 726 L417.5 725.2 L419.2 724.3 L420.6 723.3 L421.9 722.2 L423 721 L423.8 719.8 L424.4 718.4 M378 716.3 L378.4 717.3 L378.9 718.3 L379.7 719.3 L380.6 720.1 L381.7 721 L382.9 721.7 L384.3 722.4 L385.7 722.9 L387.3 723.5 L389 723.9 L390.7 724.2 L392.5 724.5 L394.3 724.7 L396.1 724.8 L398 724.9 L399.9 724.8 L401.7 724.7 L403.5 724.5 L405.3 724.2 L407 723.9 L408.7 723.5 L410.3 722.9 L411.7 722.4 L413.1 721.7 L414.3 721 L415.4 720.1 L416.3 719.3 L417.1 718.3 L417.6 717.3 L418 716.3 M384.6 714.7 L384.8 715.5 L385.1 716.2 L385.6 716.8 L386.1 717.4 L386.8 718 L387.7 718.6 L388.6 719.1 L389.5 719.5 L390.6 719.9 L391.7 720.2 L392.9 720.5 L394.2 720.7 L395.4 720.8 L396.7 720.9 L398 720.9 L399.3 720.9 L400.6 720.8 L401.8 720.7 L403.1 720.5 L404.3 720.2 L405.4 719.9 L406.5 719.5 L407.4 719.1 L408.3 718.6 L409.2 718 L409.9 717.4 L410.4 716.8 L410.9 716.2 L411.2 715.5 L411.4 714.7 M391.3 713.8 L391.3 714.2 L391.5 714.5 L391.7 714.9 L392 715.2 L392.3 715.5 L392.7 715.8 L393.1 716.1 L393.6 716.3 L394.2 716.5 L394.8 716.7 L395.4 716.9 L396 717 L396.7 717.1 L397.3 717.1 L398 717.1 L398.7 717.1 L399.3 717.1 L400 717 L400.6 716.9 L401.2 716.7 L401.8 716.5 L402.4 716.3 L402.9 716.1 L403.3 715.8 L403.7 715.5 L404 715.2 L404.3 714.9 L404.5 714.5 L404.7 714.2 L404.7 713.8 M392.9 713.7 L393 714.1 L393.2 714.6 L393.6 715 L394.2 715.4 L394.8 715.7 L395.5 715.9 L396.3 716.1 L397.1 716.2 L398 716.3 L398.9 716.2 L399.7 716.1 L400.5 715.9 L401.2 715.7 L401.8 715.4 L402.4 715 L402.8 714.6 L403 714.1 L403.1 713.7 M394.5 713.6 L394.6 713.9 L394.7 714.2 L395 714.5 L395.4 714.8 L395.8 715 L396.3 715.1 L396.8 715.3 L397.4 715.4 L398 715.4 L398.6 715.4 L399.2 715.3 L399.7 715.1 L400.2 715 L400.6 714.8 L401 714.5 L401.3 714.2 L401.4 713.9 L401.5 713.6 M396.1 713.5 L396.1 713.7 L396.2 713.9 L396.4 714 L396.6 714.2 L396.8 714.3 L397.1 714.4 L397.4 714.4 L397.7 714.5 L398 714.5 L398.3 714.5 L398.6 714.4 L398.9 714.4 L399.2 714.3 L399.4 714.2 L399.6 714 L399.8 713.9 L399.9 713.7 L399.9 713.5 M392.9 876.9 L393 876.5 L393.2 876 L393.6 875.6 L394.2 875.2 L394.8 874.9 L395.5 874.7 L396.3 874.5 L397.1 874.4 L398 874.3 L398.9 874.4 L399.7 874.5 L400.5 874.7 L401.2 874.9 L401.8 875.2 L402.4 875.6 L402.8 876 L403 876.5 L403.1 876.9 M394.5 877 L394.6 876.7 L394.7 876.4 L395 876.1 L395.4 875.8 L395.8 875.6 L396.3 875.5 L396.8 875.3 L397.4 875.2 L398 875.2 L398.6 875.2 L399.2 875.3 L399.7 875.5 L400.2 875.6 L400.6 875.8 L401 876.1 L401.3 876.4 L401.4 876.7 L401.5 877 M396.1 877.1 L396.1 876.9 L396.2 876.7 L396.4 876.6 L396.6 876.4 L396.8 876.3 L397.1 876.2 L397.4 876.2 L397.7 876.1 L398 876.1 L398.3 876.1 L398.6 876.2 L398.9 876.2 L399.2 876.3 L399.4 876.4 L399.6 876.6 L399.8 876.7 L399.9 876.9 L399.9 877.1" fill="none" stroke="#262626" stroke-width="0.6"/>
<ellipse cx="398.0" cy="795.3" rx="77.3" ry="81.8" fill="none" stroke="#262626" stroke-width="0.7"/>
<ellipse cx="398.0" cy="714.2" rx="6.5" ry="0.9" fill="#222"/>
<ellipse cx="398.0" cy="876.4" rx="6.5" ry="0.9" fill="#222"/>
<path d="M394.6 795.9 L397.1 797.6 L402.4 798.7 L406 797.9 L408.2 796.4" fill="none" stroke="#6ecfcf" stroke-width="0.8" stroke-linejoin="round"/>
<path d="M387.6 795.9 L389 798.5 L391.8 800.6 L395 801.7 L398 803.2 L403.5 803.6 L408.8 802.7 L412 800.2 L414.1 798.5 L416.9 795.9" fill="none" stroke="#4b3eb5" stroke-width="1.0" stroke-linejoin="round"/>
<path d="M376.3 795.9 L377.6 798.5 L380.1 799.6 L383.3 803.2 L389 805.3 L391.8 809.1 L399.2 810 L408.8 809.1 L412 806.6 L420.5 803.2 L425.8 801.7 L432.2 797.4" fill="none" stroke="#6cc23a" stroke-width="1.0" stroke-linejoin="round"/>
<path d="M359.9 795.3 L362.7 798.9 L367.4 802.7 L373.7 804.9 L381.2 808.7 L386.5 810.8 L391.8 814.4 L399.2 815.9 L405.6 817 L414.1 815.5 L420.5 813.4 L425.8 809.5 L433.2 807 L439.6 804.9 L446 803.8 L452.4 804.4 L458.7 805.9 L467.2 808.1 L474.7 810.2" fill="none" stroke="#e2613a" stroke-width="1.1" stroke-linejoin="round"/>
<path d="M321.7 804.4 L331.2 803.2 L341.9 803.2 L350.4 804 L355.7 806.6 L364.2 809.1 L373.7 813.4 L382.2 815.9 L391.8 818.7 L399.2 819.3 L408.8 819.7 L416.2 819.7 L424.7 818.7 L433.2 815.9 L441.7 814.4 L450.2 815.5 L458.7 817.6 L465.1 819.7 L471.5 821.9" fill="none" stroke="#f6f05c" stroke-width="1.05" stroke-linejoin="round"/>
<path d="M323.8 818.7 L331.2 816.6 L341.9 814.4 L350.4 814.2 L355.7 815.5 L364.2 818 L373.7 821.9 L382.2 824.4 L391.8 827.2 L399.2 828.2 L405.6 828.7 L416.2 827.8 L424.7 826.1 L433.2 824.4 L441.7 824 L450.2 825.7 L458.7 828.2 L467.2 832.5" fill="none" stroke="#cf45b8" stroke-width="1.05" stroke-linejoin="round"/>
<path d="M327 829.3 L333.4 826.5 L341.9 824.4 L348.2 823.6 L354.6 822.9 L361 825.1 L367.4 827.2 L374.8 829.3 L383.3 832.1 L387.6 832.5 L391.8 833.3 L401.4 834.6 L409.9 833.8 L420.5 833.6 L431.1 833.3 L441.7 832.5 L448.1 834.6 L454.5 837.8 L461.3 842.7" fill="none" stroke="#1e1e1e" stroke-width="1.15" stroke-linejoin="round"/>
<path d="M332.3 837.2 L339.7 834.6 L348.2 832.5 L355.7 832.9 L363.1 834.2 L372.7 836.3 L382.2 837.8 L391.8 839.3 L401.4 840.6 L410.9 840.6 L420.5 841 L429 842.3 L437.5 844.2 L443.9 846.5 L450.2 849.5 L455.6 853.7" fill="none" stroke="#b9b344" stroke-width="0.85" stroke-linejoin="round"/>
<path d="M339.7 849.5 L346.1 846.3 L352.5 844.2 L359.9 843.8 L367.4 844.2 L375.9 845.2 L384.4 846.3 L392.9 846.7 L401.4 846.9 L409.9 847.8 L418.4 849.5 L424.7 852 L431.1 854.8 L435.4 857.6 L439.6 860.1 L443.9 863.3" fill="none" stroke="#3b9fe2" stroke-width="0.85" stroke-linejoin="round"/>
<path d="M359.9 864.4 L365.2 861.4 L371.6 859.1 L378 857.4 L384.4 856.3 L390.7 855.7 L398 855.4 L405.6 856.3 L412 858 L417.3 860.5 L422.6 863.3 L426.9 867.6" fill="none" stroke="#f3b487" stroke-width="0.75" stroke-linejoin="round"/>
<text transform="translate(401.8 712.6) scale(0.1 0.1)" font-size="38" fill="#111" text-anchor="middle" stroke="#111" stroke-width="1.5">180</text>
<text transform="translate(415.2 713.3) scale(0.1 0.1)" font-size="38" fill="#111" text-anchor="middle" stroke="#111" stroke-width="1.5">170</text>
<text transform="translate(429 716.5) scale(0.1 0.1)" font-size="38" fill="#111" text-anchor="middle" stroke="#111" stroke-width="1.5">160</text>
<text transform="translate(441.7 722.4) scale(0.1 0.1)" font-size="38" fill="#111" text-anchor="middle" stroke="#111" stroke-width="1.5">150</text>
<text transform="translate(452.4 730.9) scale(0.1 0.1)" font-size="38" fill="#111" text-anchor="middle" stroke="#111" stroke-width="1.5">140</text>
<text transform="translate(462.4 740.9) scale(0.1 0.1)" font-size="38" fill="#111" text-anchor="middle" stroke="#111" stroke-width="1.5">130</text>
<text transform="translate(469.8 752.2) scale(0.1 0.1)" font-size="38" fill="#111" text-anchor="middle" stroke="#111" stroke-width="1.5">120</text>
<text transform="translate(475.1 766) scale(0.1 0.1)" font-size="38" fill="#111" text-anchor="middle" stroke="#111" stroke-width="1.5">110</text>
<text transform="translate(478.9 779.2) scale(0.1 0.1)" font-size="38" fill="#111" text-anchor="middle" stroke="#111" stroke-width="1.5">100</text>
<text transform="translate(478.9 798.7) scale(0.1 0.1)" font-size="38" fill="#111" text-anchor="middle" stroke="#111" stroke-width="1.5">90</text>
<text transform="translate(478.3 813.2) scale(0.1 0.1)" font-size="38" fill="#111" text-anchor="middle" stroke="#111" stroke-width="1.5">80</text>
<text transform="translate(473.6 826.5) scale(0.1 0.1)" font-size="38" fill="#111" text-anchor="middle" stroke="#111" stroke-width="1.5">70</text>
<text transform="translate(468.3 839.7) scale(0.1 0.1)" font-size="38" fill="#111" text-anchor="middle" stroke="#111" stroke-width="1.5">60</text>
<text transform="translate(460.9 851.4) scale(0.1 0.1)" font-size="38" fill="#111" text-anchor="middle" stroke="#111" stroke-width="1.5">50</text>
<text transform="translate(450.2 862) scale(0.1 0.1)" font-size="38" fill="#111" text-anchor="middle" stroke="#111" stroke-width="1.5">40</text>
<text transform="translate(439.6 869.9) scale(0.1 0.1)" font-size="38" fill="#111" text-anchor="middle" stroke="#111" stroke-width="1.5">30</text>
<text transform="translate(427.3 875.8) scale(0.1 0.1)" font-size="38" fill="#111" text-anchor="middle" stroke="#111" stroke-width="1.5">20</text>
<text transform="translate(414.8 879.7) scale(0.1 0.1)" font-size="38" fill="#111" text-anchor="middle" stroke="#111" stroke-width="1.5">10</text>
<text transform="translate(398 881.8) scale(0.1 0.1)" font-size="38" fill="#111" text-anchor="middle" stroke="#111" stroke-width="1.5">0</text>
<text transform="translate(318.5 793) scale(0.1 0.1)" font-size="38" fill="#111" text-anchor="middle" stroke="#111" stroke-width="1.5">270</text>
<text transform="translate(341.9 793) scale(0.1 0.1)" font-size="38" fill="#111" text-anchor="middle" stroke="#111" stroke-width="1.5">300</text>
<text transform="translate(370.1 793) scale(0.1 0.1)" font-size="38" fill="#111" text-anchor="middle" stroke="#111" stroke-width="1.5">330</text>
<text transform="translate(398 793) scale(0.1 0.1)" font-size="38" fill="#111" text-anchor="middle" stroke="#111" stroke-width="1.5">C0</text>
<text transform="translate(426.4 793) scale(0.1 0.1)" font-size="38" fill="#111" text-anchor="middle" stroke="#111" stroke-width="1.5">30</text>
<text transform="translate(453.4 793) scale(0.1 0.1)" font-size="38" fill="#111" text-anchor="middle" stroke="#111" stroke-width="1.5">60</text>
<text transform="translate(476.4 793) scale(0.1 0.1)" font-size="38" fill="#111" text-anchor="middle" stroke="#111" stroke-width="1.5">90</text>
<text transform="translate(490.8 749.2) scale(0.1 0.1)" font-size="44" fill="#111" text-anchor="start" font-family="'Liberation Serif','Noto Serif CJK SC',serif" font-weight="700">单位:cd</text>
<line x1="491.8" y1="756" x2="497.4" y2="756" stroke="#6ecfcf" stroke-width="1.0"/>
<text transform="translate(510.2 757.5) scale(0.1 0.1)" font-size="40" fill="#111" text-anchor="end" stroke="#111" stroke-width="1.5">5%</text>
<text transform="translate(525.4 757.5) scale(0.1 0.1)" font-size="40" fill="#111" text-anchor="end" stroke="#111" stroke-width="1.5">27</text>
<line x1="491.8" y1="764.3" x2="497.4" y2="764.3" stroke="#4b3eb5" stroke-width="1.0"/>
<text transform="translate(510.2 765.8) scale(0.1 0.1)" font-size="40" fill="#111" text-anchor="end" stroke="#111" stroke-width="1.5">10%</text>
<text transform="translate(525.4 765.8) scale(0.1 0.1)" font-size="40" fill="#111" text-anchor="end" stroke="#111" stroke-width="1.5">54</text>
<line x1="491.8" y1="772.6" x2="497.4" y2="772.6" stroke="#6cc23a" stroke-width="1.0"/>
<text transform="translate(510.2 774.1) scale(0.1 0.1)" font-size="40" fill="#111" text-anchor="end" stroke="#111" stroke-width="1.5">20%</text>
<text transform="translate(525.4 774.1) scale(0.1 0.1)" font-size="40" fill="#111" text-anchor="end" stroke="#111" stroke-width="1.5">107</text>
<line x1="491.8" y1="780.9" x2="497.4" y2="780.9" stroke="#e2613a" stroke-width="1.0"/>
<text transform="translate(510.2 782.4) scale(0.1 0.1)" font-size="40" fill="#111" text-anchor="end" stroke="#111" stroke-width="1.5">30%</text>
<text transform="translate(525.4 782.4) scale(0.1 0.1)" font-size="40" fill="#111" text-anchor="end" stroke="#111" stroke-width="1.5">161</text>
<line x1="491.8" y1="789.5" x2="497.4" y2="789.5" stroke="#f6f05c" stroke-width="1.0"/>
<text transform="translate(510.2 791) scale(0.1 0.1)" font-size="40" fill="#111" text-anchor="end" stroke="#111" stroke-width="1.5">40%</text>
<text transform="translate(525.4 791) scale(0.1 0.1)" font-size="40" fill="#111" text-anchor="end" stroke="#111" stroke-width="1.5">215</text>
<line x1="491.8" y1="797.7" x2="497.4" y2="797.7" stroke="#cf45b8" stroke-width="1.0"/>
<text transform="translate(510.2 799.2) scale(0.1 0.1)" font-size="40" fill="#111" text-anchor="end" stroke="#111" stroke-width="1.5">50%</text>
<text transform="translate(525.4 799.2) scale(0.1 0.1)" font-size="40" fill="#111" text-anchor="end" stroke="#111" stroke-width="1.5">268</text>
<line x1="491.8" y1="806.4" x2="497.4" y2="806.4" stroke="#1e1e1e" stroke-width="1.0"/>
<text transform="translate(510.2 807.9) scale(0.1 0.1)" font-size="40" fill="#111" text-anchor="end" stroke="#111" stroke-width="1.5">60%</text>
<text transform="translate(525.4 807.9) scale(0.1 0.1)" font-size="40" fill="#111" text-anchor="end" stroke="#111" stroke-width="1.5">322</text>
<line x1="491.8" y1="814.6" x2="497.4" y2="814.6" stroke="#b9b344" stroke-width="1.0"/>
<text transform="translate(510.2 816.1) scale(0.1 0.1)" font-size="40" fill="#111" text-anchor="end" stroke="#111" stroke-width="1.5">70%</text>
<text transform="translate(525.4 816.1) scale(0.1 0.1)" font-size="40" fill="#111" text-anchor="end" stroke="#111" stroke-width="1.5">376</text>
<line x1="491.8" y1="823" x2="497.4" y2="823" stroke="#3b9fe2" stroke-width="1.0"/>
<text transform="translate(510.2 824.5) scale(0.1 0.1)" font-size="40" fill="#111" text-anchor="end" stroke="#111" stroke-width="1.5">80%</text>
<text transform="translate(525.4 824.5) scale(0.1 0.1)" font-size="40" fill="#111" text-anchor="end" stroke="#111" stroke-width="1.5">429</text>
<line x1="491.8" y1="831.2" x2="497.4" y2="831.2" stroke="#f3b487" stroke-width="1.0"/>
<text transform="translate(510.2 832.7) scale(0.1 0.1)" font-size="40" fill="#111" text-anchor="end" stroke="#111" stroke-width="1.5">90%</text>
<text transform="translate(525.4 832.7) scale(0.1 0.1)" font-size="40" fill="#111" text-anchor="end" stroke="#111" stroke-width="1.5">483</text>
<text transform="translate(510.2 840.8) scale(0.1 0.1)" font-size="38" fill="#111" text-anchor="end">Imax=100%</text>
<text transform="translate(525.4 840.8) scale(0.1 0.1)" font-size="40" fill="#111" text-anchor="end">537</text>
</g>
<rect x="557.5" y="701.2" width="244.9" height="185.4" fill="#fff" stroke="#8a8a8a" stroke-width="0.8"/>
<g id="p6">
<line x1="577.4" y1="712.1" x2="577.4" y2="871.8" stroke="#3a3a3a" stroke-width="0.65"/>
<line x1="577.4" y1="712.1" x2="749.3" y2="712.1" stroke="#3a3a3a" stroke-width="0.65"/>
<line x1="606.1" y1="712.1" x2="606.1" y2="871.8" stroke="#3a3a3a" stroke-width="0.65"/>
<line x1="577.4" y1="738.8" x2="749.3" y2="738.8" stroke="#3a3a3a" stroke-width="0.65"/>
<line x1="634.7" y1="712.1" x2="634.7" y2="871.8" stroke="#3a3a3a" stroke-width="0.65"/>
<line x1="577.4" y1="765.4" x2="749.3" y2="765.4" stroke="#3a3a3a" stroke-width="0.65"/>
<line x1="663.4" y1="712.1" x2="663.4" y2="871.8" stroke="#3a3a3a" stroke-width="0.65"/>
<line x1="577.4" y1="792" x2="749.3" y2="792" stroke="#3a3a3a" stroke-width="0.65"/>
<line x1="692" y1="712.1" x2="692" y2="871.8" stroke="#3a3a3a" stroke-width="0.65"/>
<line x1="577.4" y1="818.6" x2="749.3" y2="818.6" stroke="#3a3a3a" stroke-width="0.65"/>
<line x1="720.7" y1="712.1" x2="720.7" y2="871.8" stroke="#3a3a3a" stroke-width="0.65"/>
<line x1="577.4" y1="845.2" x2="749.3" y2="845.2" stroke="#3a3a3a" stroke-width="0.65"/>
<line x1="749.3" y1="712.1" x2="749.3" y2="871.8" stroke="#3a3a3a" stroke-width="0.65"/>
<line x1="577.4" y1="871.8" x2="749.3" y2="871.8" stroke="#3a3a3a" stroke-width="0.65"/>
<clipPath id="c6"><rect x="576.4" y="711.8" width="173.9" height="160.7"/></clipPath>
<g clip-path="url(#c6)">
<path d="M733.5 788.6 L733.2 796.4 L732.5 803.8 L731.9 811.2 L730 819 L727.3 826.2 L724.4 833.3 L720.4 839.8 L715.4 845.7 L710.1 851.4 L704.1 855.7 L697.6 859.2 L690.7 861.6 L684.1 863.8 L677 864.6 L670 865.2 L663.1 865.7 L656.2 865.6 L649.6 864.6 L642.4 863.6 L635.3 861.7 L629 858.9 L622.4 855.3 L616.4 851.3 L610.8 845.6 L605.9 840 L601.9 833.1 L598.9 826.5 L596.4 818.9 L594.8 811.2 L593.7 803.6 L593.2 796.5 L592.7 788.7 L593.2 780.9 L593.5 773.8 L595 765.7 L596.5 758.6 L598.7 751.1 L601.9 743.9 L606.2 737.5 L611.1 731.2 L616.3 726.4 L622.4 721.8 L628.8 718.5 L635.6 715.3 L642.6 713.6 L649.3 712.4 L656.3 711.9 L663 711.9 L669.9 712.1 L676.8 712.7 L684.2 713.7 L691 715.5 L697.7 718.2 L703.9 722.1 L710 726.2 L715.7 731.4 L720.4 737.2 L724.5 743.9 L727.3 751.3 L729.8 758.6 L732 766 L732.6 773.3 L733.2 781.1Z" fill="none" stroke="#6ecfcf" stroke-width="1.0" stroke-linejoin="round"/>
<path d="M723.6 789.1 L723.4 795 L723 801.4 L721.7 808 L720.5 814 L718.2 820.5 L715.6 826.2 L712.2 831.6 L708 836.9 L703.4 841.2 L697.9 844.7 L692.6 847.7 L687 850 L681.2 851.8 L674.8 852.8 L669.1 853.5 L663.2 853.5 L657.3 853.7 L651.4 853.2 L645.2 852.2 L639.7 850.3 L633.8 847.9 L628.6 844.7 L623.3 841.2 L618.5 836.9 L614.6 831.6 L611.1 826.3 L608.2 820.5 L605.8 814.3 L604.4 808.2 L603.4 801.8 L603.1 795.3 L603.1 788.6 L603.1 782.5 L603.6 776 L604.3 769.5 L606.1 763.2 L608 757.2 L611 751.4 L614.2 746 L618.5 741.1 L623 736.8 L628.4 733 L634.1 729.9 L639.3 727.4 L645.3 725.9 L651.2 724.6 L657.1 724 L663.5 724.3 L669.1 724.3 L675.1 724.7 L681 725.9 L686.8 727.3 L692.6 729.6 L698.1 733 L703 736.3 L708 740.7 L711.8 746.1 L715.5 751.2 L718 757.1 L720.3 763.6 L722.2 769.9 L723.1 776.3 L723.6 782.7Z" fill="none" stroke="#4b3eb5" stroke-width="1.0" stroke-linejoin="round"/>
<path d="M712.2 789.3 L711.8 794.4 L711.5 799.5 L710.5 804.7 L709.2 809.3 L707.4 814.2 L705.3 818.8 L702.4 822.9 L699.1 826.8 L695.3 830.4 L691.2 833.4 L687.1 835.5 L682.6 837.5 L677.8 839 L673.2 840 L668.4 840.1 L663.6 840.3 L658.5 840.3 L654 840 L649.2 839.1 L644.6 837.4 L640.2 835.6 L635.7 833.1 L631.4 830.6 L627.7 826.7 L624.5 822.8 L622.1 819 L619.7 814.1 L618 809.4 L616.3 804.6 L615.6 799.4 L615.1 794.4 L615 789.6 L615.4 784.5 L615.4 779.6 L616.3 774.5 L618 769.7 L619.8 764.9 L621.8 760.1 L624.7 756.1 L627.8 752 L631.8 748.6 L635.8 745.7 L640.3 743.1 L644.4 741.6 L649.4 739.9 L653.8 739 L658.8 738.9 L663.4 738.4 L668.4 738.7 L673.3 739.4 L678.1 740.2 L682.5 741.2 L687.2 743.3 L691.4 745.8 L695.7 748.7 L699.4 752.3 L702.2 755.9 L705.4 760.4 L707.7 764.6 L709.3 769.8 L710.6 774.6 L711.7 779.3 L711.6 784.7Z" fill="none" stroke="#6cc23a" stroke-width="1.0" stroke-linejoin="round"/>
<path d="M693.9 790.1 L693.9 793.2 L693 796.2 L692.3 799.3 L691.8 802.2 L690.7 804.7 L688.6 807.4 L687.1 809.9 L685.1 812.4 L682.8 814.6 L680.5 816.5 L677.5 817.7 L675.3 819 L672 820 L669 820.9 L666.3 820.8 L663.5 821.3 L660.1 821.2 L657.5 820.6 L654 819.8 L651.2 819 L648.6 818 L645.9 815.9 L643.6 814.2 L641.3 812.2 L639.2 810.2 L637.9 807.5 L636.2 804.9 L635.1 802.3 L633.5 799.5 L633 796.1 L632.5 793.6 L632.8 790.2 L632.8 787.4 L632.9 784.4 L634 781.6 L634.5 778.5 L636.1 775.9 L637.5 773.1 L639.7 770.5 L641.4 768.5 L643.4 766.6 L646 764.4 L648.6 763.1 L651.5 761.8 L654.1 760.9 L657.5 760.1 L660 759.4 L663.2 759.1 L666.5 759.5 L669.5 759.7 L672.2 760.8 L675.1 761.6 L677.4 762.9 L680.3 764.7 L683.1 766.5 L685.3 768.1 L686.7 770.4 L688.5 772.8 L690.4 775.5 L691.7 778.4 L692.4 781.6 L693.1 784.5 L693.7 787.4Z" fill="none" stroke="#e2613a" stroke-width="1.0" stroke-linejoin="round"/>
<path d="M685.3 791 L685.7 792.7 L685.1 795.1 L684.6 797.2 L684 798.9 L683.1 801.1 L681.8 802.8 L680.6 804.4 L678.8 806 L677.7 807.6 L675.5 808.7 L674 809.8 L671.7 810.8 L670.1 811.4 L668.1 812 L665.4 812.1 L663.7 812 L661.7 812.3 L659.4 811.7 L656.8 811.6 L655.1 810.6 L653.2 810 L651.3 808.9 L649.4 807.8 L648.1 805.9 L646.5 804.7 L645.2 802.9 L644.4 801.3 L643.1 799.2 L642.6 797.3 L641.7 795 L641.6 793.1 L641.5 790.5 L641.5 788.9 L642.2 786.7 L642.2 784.8 L643.5 782.5 L644.2 780.6 L645 779 L646.3 776.9 L648.3 775.4 L649.8 774.4 L651.2 772.9 L653 772 L655.5 771.1 L657.2 770.3 L659.2 769.9 L661.2 769.3 L663.7 769.2 L666 769.6 L667.6 769.4 L670 770 L672 771 L674.1 771.8 L675.8 773.2 L677.3 774.1 L679.3 775.5 L680.8 776.9 L681.6 778.8 L682.9 780.6 L683.7 782.6 L684.9 784.9 L685.2 786.5 L685.5 788.5Z" fill="none" stroke="#f6f05c" stroke-width="1.0" stroke-linejoin="round"/>
</g>
<text transform="translate(578 710.8) scale(0.112 0.1)" font-size="46" fill="#111" text-anchor="start" font-family="'Liberation Serif','Noto Serif CJK SC',serif" font-weight="700">灯具安装高度:10.0m</text>
<text transform="translate(576 713.7) scale(0.115 0.1)" font-size="40" fill="#111" text-anchor="end" stroke="#111" stroke-width="2">24.00m</text>
<text transform="translate(576 740.4) scale(0.115 0.1)" font-size="40" fill="#111" text-anchor="end" stroke="#111" stroke-width="2">16.50m</text>
<text transform="translate(576 767) scale(0.115 0.1)" font-size="40" fill="#111" text-anchor="end" stroke="#111" stroke-width="2">8.25m</text>
<text transform="translate(576 793.6) scale(0.115 0.1)" font-size="40" fill="#111" text-anchor="end" stroke="#111" stroke-width="2">0.00m</text>
<text transform="translate(576 820.2) scale(0.115 0.1)" font-size="40" fill="#111" text-anchor="end" stroke="#111" stroke-width="2">8.25m</text>
<text transform="translate(576 846.8) scale(0.115 0.1)" font-size="40" fill="#111" text-anchor="end" stroke="#111" stroke-width="2">16.50m</text>
<text transform="translate(576 873.4) scale(0.115 0.1)" font-size="40" fill="#111" text-anchor="end" stroke="#111" stroke-width="2">24.00m</text>
<text transform="translate(606.1 882.6) scale(0.115 0.1)" font-size="40" fill="#111" text-anchor="middle" stroke="#111" stroke-width="2">16.50m</text>
<text transform="translate(663.4 882.6) scale(0.115 0.1)" font-size="40" fill="#111" text-anchor="middle" stroke="#111" stroke-width="2">0.00m</text>
<text transform="translate(720.7 882.6) scale(0.115 0.1)" font-size="40" fill="#111" text-anchor="middle" stroke="#111" stroke-width="2">16.50m</text>
<line x1="764.2" y1="717.1" x2="770" y2="717.1" stroke="#6ecfcf" stroke-width="1.0"/>
<text transform="translate(798.4 718.6) scale(0.11 0.1)" font-size="40" fill="#111" text-anchor="end" stroke="#111" stroke-width="2">3% 0.135lx</text>
<line x1="764.2" y1="725" x2="770" y2="725" stroke="#4b3eb5" stroke-width="1.0"/>
<text transform="translate(798.4 726.5) scale(0.11 0.1)" font-size="40" fill="#111" text-anchor="end" stroke="#111" stroke-width="2">5% 0.224lx</text>
<line x1="764.2" y1="733.3" x2="770" y2="733.3" stroke="#6cc23a" stroke-width="1.0"/>
<text transform="translate(798.4 734.8) scale(0.11 0.1)" font-size="40" fill="#111" text-anchor="end" stroke="#111" stroke-width="2">10% 0.449lx</text>
<line x1="764.2" y1="741.2" x2="770" y2="741.2" stroke="#e2613a" stroke-width="1.0"/>
<text transform="translate(798.4 742.7) scale(0.11 0.1)" font-size="40" fill="#111" text-anchor="end" stroke="#111" stroke-width="2">30% 1.346lx</text>
<line x1="764.2" y1="749.5" x2="770" y2="749.5" stroke="#f6f05c" stroke-width="1.0"/>
<text transform="translate(798.4 751) scale(0.11 0.1)" font-size="40" fill="#111" text-anchor="end" stroke="#111" stroke-width="2">50% 2.244lx</text>
</g>
<rect x="41.0" y="916.6" width="244.0" height="185.6" fill="#fff" stroke="#8a8a8a" stroke-width="0.8"/>
<g id="p7">
<path d="M85.3 937.5L85.3 1047.4 M85.3 937.5L98.6 1047 M85.3 937.5L111.9 1045.7 M85.3 937.5L125 1043.7 M85.3 937.5L137.7 1040.8 M85.3 937.5L150.1 1037.1 M85.3 937.5L162 1032.7 M85.3 937.5L173.3 1027.5 M85.3 937.5L183.9 1021.7 M85.3 937.5L193.7 1015.2 M85.3 937.5L202.8 1008.1 M85.3 937.5L210.9 1000.5 M85.3 937.5L218.1 992.5 M85.3 937.5L224.3 983.9 M85.3 937.5L229.4 975.1 M85.3 937.5L233.5 965.9 M85.3 937.5L236.4 956.6 M85.3 937.5L238.1 947.1 M85.3 937.5L238.7 937.5 M85.3 944.8 L85.8 944.8 L86.3 944.8 L86.9 944.7 L87.4 944.7 L87.9 944.6 L88.4 944.5 L88.9 944.3 L89.4 944.2 L89.9 944 L90.4 943.8 L90.8 943.6 L91.3 943.4 L91.7 943.2 L92.1 942.9 L92.5 942.7 L92.9 942.4 L93.2 942.1 L93.5 941.8 L93.8 941.5 L94.1 941.2 L94.4 940.8 L94.6 940.5 L94.8 940.1 L95 939.8 L95.1 939.4 L95.3 939 L95.4 938.6 L95.4 938.3 L95.5 937.9 L95.5 937.5 M85.3 952.2 L86.3 952.1 L87.4 952.1 L88.5 952 L89.5 951.8 L90.5 951.7 L91.6 951.4 L92.6 951.2 L93.6 950.9 L94.5 950.6 L95.5 950.2 L96.4 949.8 L97.3 949.4 L98.1 948.9 L98.9 948.4 L99.7 947.9 L100.5 947.3 L101.2 946.7 L101.8 946.1 L102.4 945.5 L103 944.8 L103.5 944.2 L103.9 943.5 L104.4 942.7 L104.7 942 L105 941.3 L105.3 940.5 L105.5 939.8 L105.6 939 L105.7 938.3 L105.7 937.5 M85.3 959.5 L86.9 959.4 L88.5 959.4 L90.1 959.2 L91.6 959 L93.2 958.7 L94.7 958.4 L96.3 958 L97.7 957.6 L99.2 957.1 L100.6 956.5 L102 955.9 L103.3 955.3 L104.6 954.6 L105.8 953.8 L107 953 L108.1 952.2 L109.1 951.3 L110.1 950.4 L111 949.5 L111.8 948.5 L112.6 947.5 L113.3 946.4 L113.9 945.4 L114.4 944.3 L114.9 943.2 L115.3 942.1 L115.6 940.9 L115.8 939.8 L115.9 938.6 L115.9 937.5 M85.3 966.8 L87.4 966.8 L89.5 966.6 L91.7 966.4 L93.8 966.2 L95.8 965.8 L97.9 965.4 L99.9 964.9 L101.9 964.3 L103.8 963.6 L105.7 962.9 L107.5 962.1 L109.3 961.2 L111 960.3 L112.6 959.3 L114.2 958.2 L115.7 957.1 L117.1 955.9 L118.4 954.7 L119.6 953.5 L120.7 952.2 L121.7 950.8 L122.6 949.4 L123.5 948 L124.2 946.6 L124.8 945.1 L125.3 943.6 L125.7 942.1 L125.9 940.6 L126.1 939 L126.2 937.5 M85.3 974.1 L87.9 974.1 L90.6 973.9 L93.3 973.7 L95.9 973.3 L98.5 972.9 L101.1 972.3 L103.6 971.7 L106.1 971 L108.5 970.1 L110.8 969.2 L113.1 968.2 L115.3 967.1 L117.4 966 L119.5 964.7 L121.4 963.4 L123.3 962 L125 960.6 L126.6 959 L128.1 957.5 L129.5 955.8 L130.8 954.1 L132 952.4 L133 950.6 L133.9 948.8 L134.7 947 L135.3 945.1 L135.8 943.2 L136.1 941.3 L136.3 939.4 L136.4 937.5 M85.3 981.5 L88.5 981.4 L91.7 981.2 L94.9 980.9 L98 980.5 L101.1 980 L104.2 979.3 L107.2 978.5 L110.2 977.7 L113.1 976.7 L115.9 975.6 L118.7 974.4 L121.3 973.1 L123.9 971.7 L126.3 970.2 L128.7 968.6 L130.9 966.9 L132.9 965.2 L134.9 963.3 L136.7 961.4 L138.4 959.5 L139.9 957.5 L141.3 955.4 L142.5 953.3 L143.6 951.1 L144.5 948.9 L145.3 946.6 L145.9 944.4 L146.3 942.1 L146.5 939.8 L146.6 937.5 M85.3 988.8 L89 988.7 L92.7 988.5 L96.5 988.2 L100.1 987.7 L103.8 987 L107.4 986.3 L110.9 985.4 L114.4 984.4 L117.8 983.2 L121.1 981.9 L124.3 980.5 L127.3 979 L130.3 977.4 L133.2 975.6 L135.9 973.8 L138.5 971.8 L140.9 969.8 L143.2 967.6 L145.3 965.4 L147.3 963.1 L149.1 960.8 L150.7 958.4 L152.1 955.9 L153.4 953.3 L154.4 950.8 L155.3 948.2 L156 945.5 L156.5 942.9 L156.8 940.2 L156.9 937.5 M85.3 996.1 L89.5 996 L93.8 995.8 L98.1 995.4 L102.3 994.8 L106.4 994.1 L110.5 993.2 L114.6 992.2 L118.5 991 L122.4 989.7 L126.2 988.3 L129.8 986.7 L133.4 984.9 L136.8 983.1 L140 981.1 L143.1 978.9 L146.1 976.7 L148.8 974.4 L151.5 972 L153.9 969.4 L156.1 966.8 L158.2 964.1 L160 961.3 L161.6 958.5 L163.1 955.6 L164.3 952.7 L165.3 949.7 L166.1 946.7 L166.6 943.6 L167 940.6 L167.1 937.5 M85.3 1003.4 L90.1 1003.4 L94.9 1003.1 L99.7 1002.6 L104.4 1002 L109.1 1001.2 L113.7 1000.2 L118.2 999.1 L122.7 997.7 L127 996.3 L131.3 994.6 L135.4 992.8 L139.4 990.9 L143.2 988.7 L146.9 986.5 L150.3 984.1 L153.7 981.6 L156.8 979 L159.7 976.3 L162.5 973.4 L165 970.5 L167.3 967.4 L169.4 964.3 L171.2 961.1 L172.8 957.9 L174.2 954.6 L175.3 951.2 L176.2 947.8 L176.8 944.4 L177.2 940.9 L177.3 937.5 M85.3 1010.8 L90.6 1010.7 L95.9 1010.4 L101.3 1009.9 L106.5 1009.2 L111.7 1008.3 L116.9 1007.2 L121.9 1005.9 L126.9 1004.4 L131.7 1002.8 L136.4 1001 L141 999 L145.4 996.8 L149.6 994.4 L153.7 992 L157.6 989.3 L161.3 986.5 L164.7 983.6 L168 980.6 L171 977.4 L173.8 974.1 L176.4 970.8 L178.7 967.3 L180.7 963.8 L182.5 960.1 L184.1 956.5 L185.3 952.7 L186.3 949 L187 945.2 L187.4 941.3 L187.5 937.5 M85.3 1018.1 L91.1 1018 L97 1017.7 L102.9 1017.1 L108.6 1016.3 L114.4 1015.4 L120 1014.2 L125.6 1012.7 L131 1011.1 L136.3 1009.3 L141.5 1007.3 L146.5 1005.1 L151.4 1002.7 L156.1 1000.1 L160.5 997.4 L164.8 994.5 L168.9 991.4 L172.7 988.2 L176.3 984.9 L179.6 981.4 L182.7 977.8 L185.5 974.1 L188 970.3 L190.3 966.4 L192.3 962.4 L193.9 958.4 L195.3 954.3 L196.4 950.1 L197.2 945.9 L197.6 941.7 L197.8 937.5 M85.3 1025.4 L91.7 1025.3 L98.1 1024.9 L104.5 1024.3 L110.8 1023.5 L117 1022.4 L123.2 1021.1 L129.2 1019.6 L135.2 1017.8 L141 1015.8 L146.6 1013.6 L152.1 1011.2 L157.4 1008.6 L162.5 1005.8 L167.4 1002.8 L172 999.7 L176.5 996.3 L180.6 992.8 L184.6 989.2 L188.2 985.4 L191.6 981.5 L194.6 977.4 L197.4 973.3 L199.8 969 L202 964.7 L203.8 960.3 L205.3 955.8 L206.5 951.3 L207.3 946.7 L207.8 942.1 L208 937.5 M85.3 1032.8 L92.2 1032.6 L99.2 1032.2 L106.1 1031.6 L112.9 1030.7 L119.7 1029.5 L126.3 1028.1 L132.9 1026.4 L139.3 1024.5 L145.6 1022.4 L151.7 1020 L157.7 1017.4 L163.4 1014.6 L168.9 1011.5 L174.2 1008.3 L179.3 1004.9 L184.1 1001.2 L188.6 997.4 L192.8 993.5 L196.8 989.4 L200.4 985.1 L203.7 980.7 L206.7 976.2 L209.4 971.6 L211.7 966.9 L213.7 962.2 L215.3 957.3 L216.6 952.4 L217.5 947.5 L218 942.5 L218.2 937.5 M85.3 1040.1 L92.7 1039.9 L100.2 1039.5 L107.7 1038.8 L115 1037.8 L122.3 1036.6 L129.5 1035.1 L136.6 1033.3 L143.5 1031.2 L150.3 1028.9 L156.9 1026.3 L163.2 1023.5 L169.4 1020.5 L175.4 1017.2 L181.1 1013.7 L186.5 1010 L191.7 1006.1 L196.5 1002.1 L201.1 997.8 L205.4 993.4 L209.3 988.8 L212.8 984.1 L216.1 979.2 L218.9 974.3 L221.4 969.2 L223.6 964 L225.3 958.8 L226.7 953.5 L227.7 948.2 L228.3 942.9 L228.5 937.5 M85.3 1047.4 L93.3 1047.3 L101.3 1046.8 L109.3 1046.1 L117.2 1045 L125 1043.7 L132.7 1042 L140.2 1040.1 L147.7 1037.9 L154.9 1035.4 L162 1032.7 L168.8 1029.7 L175.4 1026.4 L181.8 1022.9 L187.9 1019.2 L193.7 1015.2 L199.3 1011 L204.5 1006.7 L209.4 1002.1 L213.9 997.4 L218.1 992.5 L222 987.4 L225.4 982.2 L228.5 976.9 L231.2 971.5 L233.5 965.9 L235.3 960.3 L236.8 954.7 L237.8 949 L238.5 943.2 L238.7 937.5" fill="none" stroke="#1e1e1e" stroke-width="0.7"/>
<defs><radialGradient id="bl7"><stop offset="0" stop-color="#111"/><stop offset="0.55" stop-color="#222" stop-opacity="0.9"/><stop offset="1" stop-color="#444" stop-opacity="0"/></radialGradient></defs>
<clipPath id="c7"><rect x="85.3" y="937.5" width="20" height="20"/></clipPath>
<ellipse cx="85.3" cy="937.5" rx="10.5" ry="8" fill="url(#bl7)" clip-path="url(#c7)"/>
<path d="M85.3 943.5 L86.2 943.5 L87 943.4 L87.9 943.2 L88.8 943 L89.6 942.7 L90.3 942.4 L91 942 L91.6 941.5 L92.2 941 L92.7 940.5 L93.1 939.9 L93.4 939.4 L93.7 938.7 L93.8 938.1 L93.9 937.5" fill="none" stroke="#555" stroke-width="0.35" stroke-linejoin="round"/>
<path d="M85.3 944.3 L86.3 944.3 L87.3 944.1 L88.3 944 L89.2 943.7 L90.1 943.4 L91 943 L91.7 942.6 L92.5 942 L93.1 941.5 L93.7 940.9 L94.1 940.3 L94.5 939.6 L94.7 938.9 L94.9 938.2 L95 937.5" fill="none" stroke="#555" stroke-width="0.35" stroke-linejoin="round"/>
<path d="M85.3 945.1 L86.4 945.1 L87.5 944.9 L88.6 944.7 L89.6 944.4 L90.7 944.1 L91.6 943.6 L92.5 943.1 L93.3 942.6 L94 942 L94.6 941.3 L95.1 940.6 L95.5 939.8 L95.8 939.1 L96 938.3 L96.1 937.5" fill="none" stroke="#6ecfcf" stroke-width="0.35" stroke-linejoin="round"/>
<path d="M85.3 945.9 L86.5 945.9 L87.7 945.7 L88.9 945.5 L90.1 945.2 L91.2 944.8 L92.2 944.3 L93.2 943.7 L94.1 943.1 L94.9 942.4 L95.6 941.7 L96.1 940.9 L96.6 940.1 L96.9 939.2 L97.1 938.4 L97.2 937.5" fill="none" stroke="#6ecfcf" stroke-width="0.35" stroke-linejoin="round"/>
<path d="M101.4 937.5 L101.4 937.8 L101.4 938 L101.4 938.3 L101.3 938.6 L101.3 938.9 L101.2 939.1 L101.1 939.4 L101.1 939.7 L101 940 L100.9 940.2 L100.7 940.5 L100.6 940.8 L100.5 941 L100.3 941.3 L100.2 941.5 L100 941.8 L99.8 942 L99.6 942.3 L99.4 942.5 L99.2 942.8 L99 943 L98.8 943.2 L98.6 943.5 L98.3 943.7 L98.1 943.9 L97.8 944.1 L97.5 944.3 L97.3 944.6 L97 944.8 L96.7 945 L96.4 945.1 L96.1 945.3 L95.7 945.5 L95.4 945.7 L95.1 945.9 L94.7 946 L94.4 946.2 L94 946.3 L93.7 946.5 L93.3 946.6 L93 946.8 L92.6 946.9 L92.2 947 L91.8 947.1 L91.4 947.2 L91 947.3 L90.6 947.4 L90.2 947.5 L89.8 947.6 L89.4 947.7 L89 947.7 L88.6 947.8 L88.2 947.9 L87.8 947.9 L87.4 947.9 L86.9 948 L86.5 948 L86.1 948 L85.7 948 L85.3 948" fill="none" stroke="#6ecfcf" stroke-width="1.0" stroke-linejoin="round"/>
<path d="M107 937.5 L107 937.9 L107 938.3 L106.9 938.6 L106.9 939 L106.8 939.4 L106.7 939.8 L106.6 940.2 L106.5 940.5 L106.4 940.9 L106.3 941.3 L106.1 941.6 L105.9 942 L105.8 942.4 L105.6 942.7 L105.4 943.1 L105.1 943.4 L104.9 943.8 L104.6 944.1 L104.4 944.5 L104.1 944.8 L103.8 945.1 L103.5 945.4 L103.2 945.8 L102.9 946.1 L102.5 946.4 L102.2 946.7 L101.8 947 L101.4 947.3 L101 947.5 L100.6 947.8 L100.2 948.1 L99.8 948.3 L99.4 948.6 L98.9 948.8 L98.5 949.1 L98 949.3 L97.6 949.5 L97.1 949.7 L96.6 949.9 L96.1 950.1 L95.6 950.3 L95.1 950.5 L94.6 950.7 L94.1 950.8 L93.6 951 L93.1 951.1 L92.5 951.2 L92 951.4 L91.4 951.5 L90.9 951.6 L90.3 951.7 L89.8 951.8 L89.2 951.8 L88.7 951.9 L88.1 952 L87.5 952 L87 952 L86.4 952.1 L85.8 952.1 L85.3 952.1" fill="none" stroke="#4b3eb5" stroke-width="1.0" stroke-linejoin="round"/>
<path d="M112.6 937.5 L112.6 938 L112.6 938.5 L112.5 938.9 L112.5 939.4 L112.4 939.9 L112.3 940.4 L112.2 940.8 L112 941.3 L111.9 941.8 L111.7 942.3 L111.5 942.7 L111.3 943.2 L111.1 943.6 L110.8 944.1 L110.5 944.5 L110.3 945 L110 945.4 L109.6 945.8 L109.3 946.3 L109 946.7 L108.6 947.1 L108.2 947.5 L107.8 947.9 L107.4 948.3 L107 948.7 L106.5 949.1 L106.1 949.4 L105.6 949.8 L105.1 950.2 L104.6 950.5 L104.1 950.8 L103.6 951.2 L103 951.5 L102.5 951.8 L101.9 952.1 L101.3 952.4 L100.8 952.7 L100.2 952.9 L99.6 953.2 L98.9 953.4 L98.3 953.7 L97.7 953.9 L97 954.1 L96.4 954.3 L95.7 954.5 L95.1 954.7 L94.4 954.8 L93.7 955 L93 955.1 L92.3 955.3 L91.6 955.4 L90.9 955.5 L90.2 955.6 L89.5 955.7 L88.8 955.7 L88.1 955.8 L87.4 955.8 L86.7 955.9 L86 955.9 L85.3 955.9" fill="none" stroke="#6cc23a" stroke-width="1.0" stroke-linejoin="round"/>
<path d="M118.2 937.5 L118.2 938.1 L118.2 938.7 L118.1 939.3 L118 939.9 L117.9 940.5 L117.8 941.1 L117.7 941.7 L117.5 942.3 L117.3 942.8 L117.1 943.4 L116.9 944 L116.6 944.6 L116.3 945.1 L116 945.7 L115.7 946.3 L115.4 946.8 L115 947.3 L114.6 947.9 L114.2 948.4 L113.8 948.9 L113.4 949.5 L112.9 950 L112.4 950.5 L111.9 950.9 L111.4 951.4 L110.9 951.9 L110.3 952.4 L109.8 952.8 L109.2 953.2 L108.6 953.7 L108 954.1 L107.3 954.5 L106.7 954.9 L106 955.3 L105.3 955.6 L104.6 956 L103.9 956.4 L103.2 956.7 L102.5 957 L101.7 957.3 L101 957.6 L100.2 957.9 L99.4 958.1 L98.7 958.4 L97.9 958.6 L97.1 958.9 L96.3 959.1 L95.4 959.3 L94.6 959.4 L93.8 959.6 L93 959.7 L92.1 959.9 L91.3 960 L90.4 960.1 L89.6 960.2 L88.7 960.3 L87.8 960.3 L87 960.3 L86.1 960.4 L85.3 960.4" fill="none" stroke="#e2613a" stroke-width="1.0" stroke-linejoin="round"/>
<path d="M124.5 937.5 L124.5 938.2 L124.5 938.9 L124.4 939.6 L124.3 940.4 L124.2 941.1 L124 941.8 L123.9 942.5 L123.7 943.2 L123.4 943.9 L123.2 944.6 L122.9 945.3 L122.6 946 L122.3 946.6 L121.9 947.3 L121.5 948 L121.1 948.6 L120.7 949.3 L120.2 949.9 L119.8 950.6 L119.2 951.2 L118.7 951.8 L118.2 952.4 L117.6 953 L117 953.6 L116.4 954.2 L115.8 954.7 L115.1 955.3 L114.4 955.8 L113.7 956.3 L113 956.8 L112.3 957.3 L111.5 957.8 L110.7 958.3 L110 958.8 L109.2 959.2 L108.3 959.6 L107.5 960.1 L106.6 960.4 L105.8 960.8 L104.9 961.2 L104 961.5 L103.1 961.9 L102.2 962.2 L101.2 962.5 L100.3 962.8 L99.3 963 L98.4 963.3 L97.4 963.5 L96.4 963.7 L95.4 963.9 L94.4 964.1 L93.4 964.3 L92.4 964.4 L91.4 964.5 L90.4 964.6 L89.4 964.7 L88.3 964.8 L87.3 964.8 L86.3 964.9 L85.3 964.9" fill="none" stroke="#f6f05c" stroke-width="1.0" stroke-linejoin="round"/>
<path d="M133.5 937.5 L133.5 938.4 L133.4 939.3 L133.3 940.1 L133.2 941 L133.1 941.9 L132.9 942.8 L132.7 943.6 L132.4 944.5 L132.1 945.4 L131.8 946.2 L131.5 947.1 L131.1 947.9 L130.7 948.7 L130.3 949.6 L129.8 950.4 L129.3 951.2 L128.8 952 L128.2 952.8 L127.6 953.6 L127 954.3 L126.4 955.1 L125.7 955.8 L125 956.6 L124.3 957.3 L123.5 958 L122.7 958.7 L121.9 959.3 L121.1 960 L120.2 960.7 L119.4 961.3 L118.5 961.9 L117.5 962.5 L116.6 963.1 L115.6 963.6 L114.6 964.2 L113.6 964.7 L112.6 965.2 L111.5 965.7 L110.5 966.2 L109.4 966.6 L108.3 967.1 L107.1 967.5 L106 967.9 L104.9 968.2 L103.7 968.6 L102.5 968.9 L101.4 969.2 L100.2 969.5 L99 969.8 L97.7 970 L96.5 970.2 L95.3 970.4 L94 970.6 L92.8 970.7 L91.5 970.9 L90.3 971 L89 971 L87.8 971.1 L86.5 971.1 L85.3 971.1" fill="none" stroke="#cf45b8" stroke-width="1.0" stroke-linejoin="round"/>
<path d="M162.7 937.2 L162.5 943.2 L162.2 948.9 L160.8 954.6 L159.3 958.3 L157.1 963.1 L154.6 966.8 L150.8 971 L146.1 974.4 L141.4 977.6 L136.7 980.1 L131 982.7 L125.3 984.8 L118.7 986.5 L112.1 987.6 L105.5 988.6 L98.9 988.9 L92.3 989.3 L85.7 989.5" fill="none" stroke="#1e1e1e" stroke-width="1.15" stroke-linejoin="round"/>
<path d="M186.2 937.2 L185.8 945.1 L184.3 952.7 L182 960.2 L178.2 967.8 L173.5 974.4 L167.8 980.1 L161.2 985.7 L153.7 990.4 L146.1 994.2 L136.7 997.6 L127.2 999.9 L117.8 1001.4 L108.3 1002.3 L98.9 1002.9 L85.7 1003.3" fill="none" stroke="#b9b344" stroke-width="1.0" stroke-linejoin="round"/>
<path d="M203.2 937.2 L202.8 945.1 L201.8 952.7 L199.9 960.2 L197.1 967.8 L193 975.3 L187.7 982.9 L182 988.6 L176.3 993.3 L170.7 996.5 L165 999.5 L159.3 1002.7 L151.8 1005.9 L144.2 1008.4 L136.7 1010.3 L127.2 1012.4 L117.8 1013.5 L108.3 1014.4 L98.9 1015 L85.7 1015.4" fill="none" stroke="#3b9fe2" stroke-width="1.05" stroke-linejoin="round"/>
<path d="M85.7 1041.4 L95.1 1039.9 L104.6 1039 L114 1038.2 L125.3 1037.9 L136.7 1038" fill="none" stroke="#f3b487" stroke-width="0.9" stroke-linejoin="round"/>
<text transform="translate(163.8 929.6) scale(0.132 0.1)" font-size="66" fill="#111" text-anchor="middle" font-family="'Liberation Serif','Noto Serif CJK SC',serif" font-weight="700">平面等照度曲线  单位:lx</text>
<text transform="translate(76.6 935.2) scale(0.14 0.1)" font-size="46" fill="#111" text-anchor="start" stroke="#111" stroke-width="2.2">S[m]</text>
<text transform="translate(222.6 935.4) scale(0.14 0.1)" font-size="46" fill="#111" text-anchor="start" stroke="#111" stroke-width="2.2">C[DEG]</text>
<text transform="translate(83.4 939.1) scale(0.13 0.1)" font-size="52" fill="#111" text-anchor="end" stroke="#111" stroke-width="2.2">0</text>
<text transform="translate(83.4 975.7) scale(0.13 0.1)" font-size="52" fill="#111" text-anchor="end" stroke="#111" stroke-width="2.2">1</text>
<text transform="translate(83.4 1012.4) scale(0.13 0.1)" font-size="52" fill="#111" text-anchor="end" stroke="#111" stroke-width="2.2">2</text>
<text transform="translate(83.4 1049) scale(0.13 0.1)" font-size="52" fill="#111" text-anchor="end" stroke="#111" stroke-width="2.2">3</text>
<text transform="translate(87.9 1053.9) scale(0.13 0.1)" font-size="50" fill="#111" text-anchor="middle" stroke="#111" stroke-width="2.2">0</text>
<text transform="translate(100.7 1053.2) scale(0.13 0.1)" font-size="50" fill="#111" text-anchor="middle" stroke="#111" stroke-width="2.2">5</text>
<text transform="translate(116 1051.7) scale(0.13 0.1)" font-size="50" fill="#111" text-anchor="middle" stroke="#111" stroke-width="2.2">10</text>
<text transform="translate(129.4 1049.9) scale(0.13 0.1)" font-size="50" fill="#111" text-anchor="middle" stroke="#111" stroke-width="2.2">15</text>
<text transform="translate(141.8 1047.2) scale(0.13 0.1)" font-size="50" fill="#111" text-anchor="middle" stroke="#111" stroke-width="2.2">20</text>
<text transform="translate(154.1 1043.8) scale(0.13 0.1)" font-size="50" fill="#111" text-anchor="middle" stroke="#111" stroke-width="2.2">25</text>
<text transform="translate(166.5 1038.7) scale(0.13 0.1)" font-size="50" fill="#111" text-anchor="middle" stroke="#111" stroke-width="2.2">30</text>
<text transform="translate(178.1 1033.7) scale(0.13 0.1)" font-size="50" fill="#111" text-anchor="middle" stroke="#111" stroke-width="2.2">35</text>
<text transform="translate(188.9 1027.4) scale(0.13 0.1)" font-size="50" fill="#111" text-anchor="middle" stroke="#111" stroke-width="2.2">40</text>
<text transform="translate(199 1021.4) scale(0.13 0.1)" font-size="50" fill="#111" text-anchor="middle" stroke="#111" stroke-width="2.2">45</text>
<text transform="translate(208.6 1014) scale(0.13 0.1)" font-size="50" fill="#111" text-anchor="middle" stroke="#111" stroke-width="2.2">50</text>
<text transform="translate(216.9 1006.4) scale(0.13 0.1)" font-size="50" fill="#111" text-anchor="middle" stroke="#111" stroke-width="2.2">55</text>
<text transform="translate(224.8 997.8) scale(0.13 0.1)" font-size="50" fill="#111" text-anchor="middle" stroke="#111" stroke-width="2.2">60</text>
<text transform="translate(230.4 989.3) scale(0.13 0.1)" font-size="50" fill="#111" text-anchor="middle" stroke="#111" stroke-width="2.2">65</text>
<text transform="translate(235.5 980.6) scale(0.13 0.1)" font-size="50" fill="#111" text-anchor="middle" stroke="#111" stroke-width="2.2">70</text>
<text transform="translate(239.4 972) scale(0.13 0.1)" font-size="50" fill="#111" text-anchor="middle" stroke="#111" stroke-width="2.2">75</text>
<text transform="translate(242.3 962.6) scale(0.13 0.1)" font-size="50" fill="#111" text-anchor="middle" stroke="#111" stroke-width="2.2">80</text>
<text transform="translate(243.8 953) scale(0.13 0.1)" font-size="50" fill="#111" text-anchor="middle" stroke="#111" stroke-width="2.2">85</text>
<text transform="translate(244.5 943.3) scale(0.13 0.1)" font-size="50" fill="#111" text-anchor="middle" stroke="#111" stroke-width="2.2">90</text>
<text transform="translate(196 1046.2) scale(0.134 0.1)" font-size="64" fill="#111" text-anchor="start" font-family="'Liberation Serif','Noto Serif CJK SC',serif" font-weight="700">安装高度:1m</text>
<line x1="92.4" y1="1056.2" x2="109.4" y2="1056.2" stroke="#6ecfcf" stroke-width="1.1"/>
<text transform="translate(143 1058.1) scale(0.14 0.1)" font-size="50" fill="#111" text-anchor="middle" stroke="#111" stroke-width="2.2">360</text>
<line x1="169.8" y1="1056.2" x2="186.3" y2="1056.2" stroke="#cf45b8" stroke-width="1.1"/>
<text transform="translate(220.4 1058.1) scale(0.14 0.1)" font-size="50" fill="#111" text-anchor="middle" stroke="#111" stroke-width="2.2">130</text>
<line x1="92.4" y1="1062" x2="109.4" y2="1062" stroke="#4b3eb5" stroke-width="1.1"/>
<text transform="translate(143 1063.9) scale(0.14 0.1)" font-size="50" fill="#111" text-anchor="middle" stroke="#111" stroke-width="2.2">310</text>
<line x1="169.8" y1="1062" x2="186.3" y2="1062" stroke="#1e1e1e" stroke-width="1.1"/>
<text transform="translate(220.4 1063.9) scale(0.14 0.1)" font-size="50" fill="#111" text-anchor="middle" stroke="#111" stroke-width="2.2">45.0</text>
<line x1="92.4" y1="1068" x2="109.4" y2="1068" stroke="#6cc23a" stroke-width="1.1"/>
<text transform="translate(143 1069.9) scale(0.14 0.1)" font-size="50" fill="#111" text-anchor="middle" stroke="#111" stroke-width="2.2">270</text>
<line x1="169.8" y1="1068" x2="186.3" y2="1068" stroke="#b9b344" stroke-width="1.1"/>
<text transform="translate(220.4 1069.9) scale(0.14 0.1)" font-size="50" fill="#111" text-anchor="middle" stroke="#111" stroke-width="2.2">22.0</text>
<line x1="92.4" y1="1073.9" x2="109.4" y2="1073.9" stroke="#e2613a" stroke-width="1.1"/>
<text transform="translate(143 1075.8) scale(0.14 0.1)" font-size="50" fill="#111" text-anchor="middle" stroke="#111" stroke-width="2.2">220</text>
<line x1="169.8" y1="1073.9" x2="186.3" y2="1073.9" stroke="#3b9fe2" stroke-width="1.1"/>
<text transform="translate(220.4 1075.8) scale(0.14 0.1)" font-size="50" fill="#111" text-anchor="middle" stroke="#111" stroke-width="2.2">13.0</text>
<line x1="92.4" y1="1079.7" x2="109.4" y2="1079.7" stroke="#f6f05c" stroke-width="1.1"/>
<text transform="translate(143 1081.6) scale(0.14 0.1)" font-size="50" fill="#111" text-anchor="middle" stroke="#111" stroke-width="2.2">180</text>
<line x1="169.8" y1="1079.7" x2="186.3" y2="1079.7" stroke="#f3b487" stroke-width="1.1"/>
<text transform="translate(220.4 1081.6) scale(0.14 0.1)" font-size="50" fill="#111" text-anchor="middle" stroke="#111" stroke-width="2.2">4.50</text>
</g>
<rect x="299.6" y="918.2" width="244.9" height="184.9" fill="#fff" stroke="#8a8a8a" stroke-width="0.8"/>
<g id="p8">
<rect x="322.5" y="930.3" width="214.5" height="158.8" fill="none" stroke="#111" stroke-width="0.9"/>
<line x1="429.3" y1="930.3" x2="387.2" y2="1089" stroke="#111" stroke-width="0.9"/>
<line x1="429.3" y1="930.3" x2="472.3" y2="1089" stroke="#111" stroke-width="0.9"/>
<line x1="322.5" y1="979.7" x2="537.1" y2="979.7" stroke="#111" stroke-width="0.9"/>
<ellipse cx="429.3" cy="979.7" rx="13.2" ry="1.3" fill="none" stroke="#111" stroke-width="0.8"/>
<text transform="translate(320.6 981.5) scale(0.085 0.1)" font-size="50" fill="#222" text-anchor="end" font-weight="400" font-family="'Liberation Mono',monospace" stroke="#333" stroke-width="1">1.00m</text>
<text transform="translate(327.6 984.7) scale(0.085 0.1)" font-size="50" fill="#222" text-anchor="start" font-weight="400" font-family="'Liberation Mono',monospace" stroke="#333" stroke-width="1">152.73lx</text>
<text transform="translate(531.6 984.7) scale(0.085 0.1)" font-size="50" fill="#222" text-anchor="end" font-weight="400" font-family="'Liberation Mono',monospace" stroke="#333" stroke-width="1">279.56cm</text>
<line x1="322.5" y1="1004.6" x2="537.1" y2="1004.6" stroke="#111" stroke-width="0.9"/>
<ellipse cx="429.3" cy="1004.6" rx="19.9" ry="1.9" fill="none" stroke="#111" stroke-width="0.8"/>
<text transform="translate(320.6 1006.4) scale(0.085 0.1)" font-size="50" fill="#222" text-anchor="end" font-weight="400" font-family="'Liberation Mono',monospace" stroke="#333" stroke-width="1">1.50m</text>
<text transform="translate(327.6 1009.6) scale(0.085 0.1)" font-size="50" fill="#222" text-anchor="start" font-weight="400" font-family="'Liberation Mono',monospace" stroke="#333" stroke-width="1">67.88lx</text>
<text transform="translate(531.6 1009.6) scale(0.085 0.1)" font-size="50" fill="#222" text-anchor="end" font-weight="400" font-family="'Liberation Mono',monospace" stroke="#333" stroke-width="1">419.34cm</text>
<line x1="322.5" y1="1029.4" x2="537.1" y2="1029.4" stroke="#111" stroke-width="0.9"/>
<ellipse cx="429.3" cy="1029.4" rx="26.6" ry="2.7" fill="none" stroke="#111" stroke-width="0.8"/>
<text transform="translate(320.6 1031.2) scale(0.085 0.1)" font-size="50" fill="#222" text-anchor="end" font-weight="400" font-family="'Liberation Mono',monospace" stroke="#333" stroke-width="1">2.00m</text>
<text transform="translate(327.6 1034.4) scale(0.085 0.1)" font-size="50" fill="#222" text-anchor="start" font-weight="400" font-family="'Liberation Mono',monospace" stroke="#333" stroke-width="1">38.18lx</text>
<text transform="translate(531.6 1034.4) scale(0.085 0.1)" font-size="50" fill="#222" text-anchor="end" font-weight="400" font-family="'Liberation Mono',monospace" stroke="#333" stroke-width="1">559.13cm</text>
<line x1="322.5" y1="1054.6" x2="537.1" y2="1054.6" stroke="#111" stroke-width="0.9"/>
<ellipse cx="429.3" cy="1054.6" rx="33.3" ry="3.5" fill="none" stroke="#111" stroke-width="0.8"/>
<text transform="translate(320.6 1056.4) scale(0.085 0.1)" font-size="50" fill="#222" text-anchor="end" font-weight="400" font-family="'Liberation Mono',monospace" stroke="#333" stroke-width="1">2.50m</text>
<text transform="translate(327.6 1059.6) scale(0.085 0.1)" font-size="50" fill="#222" text-anchor="start" font-weight="400" font-family="'Liberation Mono',monospace" stroke="#333" stroke-width="1">24.44lx</text>
<text transform="translate(531.6 1059.6) scale(0.085 0.1)" font-size="50" fill="#222" text-anchor="end" font-weight="400" font-family="'Liberation Mono',monospace" stroke="#333" stroke-width="1">698.91cm</text>
<line x1="322.5" y1="1079.2" x2="537.1" y2="1079.2" stroke="#111" stroke-width="0.9"/>
<ellipse cx="429.3" cy="1079.2" rx="39.9" ry="4.3" fill="none" stroke="#111" stroke-width="0.8"/>
<text transform="translate(320.6 1081) scale(0.085 0.1)" font-size="50" fill="#222" text-anchor="end" font-weight="400" font-family="'Liberation Mono',monospace" stroke="#333" stroke-width="1">3.00m</text>
<text transform="translate(327.6 1084.2) scale(0.085 0.1)" font-size="50" fill="#222" text-anchor="start" font-weight="400" font-family="'Liberation Mono',monospace" stroke="#333" stroke-width="1">16.97lx</text>
<text transform="translate(531.6 1084.2) scale(0.085 0.1)" font-size="50" fill="#222" text-anchor="end" font-weight="400" font-family="'Liberation Mono',monospace" stroke="#333" stroke-width="1">838.69cm</text>
<text transform="translate(310 1095.2) scale(0.105 0.1)" font-size="44" fill="#222" text-anchor="start" font-weight="400">高度</text>
<text transform="translate(337.8 1095.2) scale(0.105 0.1)" font-size="44" fill="#222" text-anchor="start" font-weight="400">照度</text>
<text transform="translate(429.4 1095.2) scale(0.115 0.1)" font-size="44" fill="#222" text-anchor="middle" font-weight="400">光束角:108.8度</text>
<text transform="translate(521.8 1095.2) scale(0.105 0.1)" font-size="44" fill="#222" text-anchor="start" font-weight="400">直径</text>
</g>
<rect x="557.5" y="916.6" width="245.7" height="185.6" fill="#fff" stroke="#8a8a8a" stroke-width="0.8"/>
<g id="p9">
<rect x="559.4" y="918.0" width="240.2" height="52.4" fill="none" stroke="#3a3a3a" stroke-width="0.6"/>
<line x1="559.4" y1="926" x2="799.6" y2="926" stroke="#3a3a3a" stroke-width="0.6"/>
<line x1="559.4" y1="934.7" x2="799.6" y2="934.7" stroke="#3a3a3a" stroke-width="0.6"/>
<line x1="559.4" y1="943.4" x2="799.6" y2="943.4" stroke="#3a3a3a" stroke-width="0.6"/>
<line x1="559.4" y1="952.1" x2="799.6" y2="952.1" stroke="#3a3a3a" stroke-width="0.6"/>
<line x1="559.4" y1="960.9" x2="799.6" y2="960.9" stroke="#3a3a3a" stroke-width="0.6"/>
<line x1="610.5" y1="926" x2="610.5" y2="970.4" stroke="#3a3a3a" stroke-width="0.6"/>
<line x1="637.6" y1="926" x2="637.6" y2="970.4" stroke="#3a3a3a" stroke-width="0.6"/>
<line x1="691.4" y1="926" x2="691.4" y2="970.4" stroke="#3a3a3a" stroke-width="0.6"/>
<line x1="716.7" y1="926" x2="716.7" y2="960.9" stroke="#3a3a3a" stroke-width="0.6"/>
<line x1="772.8" y1="926" x2="772.8" y2="960.9" stroke="#3a3a3a" stroke-width="0.6"/>
<text transform="translate(561.6 924.4) scale(0.1 0.1)" font-size="46" fill="#23238e" text-anchor="start">测 试 报 告:</text>
<text transform="translate(561.6 933.8) scale(0.1 0.1)" font-size="44" fill="#23238e" text-anchor="start">光源型号:</text>
<text transform="translate(616 933.8) scale(0.1 0.1)" font-size="34" fill="#23238e" text-anchor="start">50W</text>
<text transform="translate(640.6 933.8) scale(0.1 0.1)" font-size="44" fill="#23238e" text-anchor="start">最大光强(cd):</text>
<text transform="translate(693.4 933.8) scale(0.1 0.1)" font-size="34" fill="#23238e" text-anchor="start">536.7</text>
<text transform="translate(719.2 933.8) scale(0.1 0.1)" font-size="44" fill="#23238e" text-anchor="start">路边向上(%):</text>
<text transform="translate(776 933.8) scale(0.1 0.1)" font-size="34" fill="#23238e" text-anchor="start">0.0</text>
<text transform="translate(561.6 942.5) scale(0.1 0.1)" font-size="44" fill="#23238e" text-anchor="start">标称功率(W):</text>
<text transform="translate(616 942.5) scale(0.1 0.1)" font-size="34" fill="#23238e" text-anchor="start">22</text>
<text transform="translate(640.6 942.5) scale(0.1 0.1)" font-size="44" fill="#23238e" text-anchor="start">最大光强(C,γ):</text>
<text transform="translate(693.4 942.5) scale(0.1 0.1)" font-size="34" fill="#23238e" text-anchor="start">90°,3.5°</text>
<text transform="translate(719.2 942.5) scale(0.1 0.1)" font-size="44" fill="#23238e" text-anchor="start">路边向下(%):</text>
<text transform="translate(776 942.5) scale(0.1 0.1)" font-size="34" fill="#23238e" text-anchor="start">149.7</text>
<text transform="translate(561.6 951.2) scale(0.1 0.1)" font-size="44" fill="#23238e" text-anchor="start">额定电压(V):</text>
<text transform="translate(616 951.2) scale(0.1 0.1)" font-size="34" fill="#23238e" text-anchor="start">220</text>
<text transform="translate(640.6 951.2) scale(0.1 0.1)" font-size="44" fill="#23238e" text-anchor="start">总光通量(lm):</text>
<text transform="translate(693.4 951.2) scale(0.1 0.1)" font-size="34" fill="#23238e" text-anchor="start">1642</text>
<text transform="translate(719.2 951.2) scale(0.1 0.1)" font-size="44" fill="#23238e" text-anchor="start">屋边向上(%):</text>
<text transform="translate(776 951.2) scale(0.1 0.1)" font-size="34" fill="#23238e" text-anchor="start">0.0</text>
<text transform="translate(561.6 960) scale(0.1 0.1)" font-size="44" fill="#23238e" text-anchor="start">额定光通(lm):</text>
<text transform="translate(616 960) scale(0.1 0.1)" font-size="34" fill="#23238e" text-anchor="start">209.0</text>
<text transform="translate(640.6 960) scale(0.1 0.1)" font-size="44" fill="#23238e" text-anchor="start">灯具效率(%):</text>
<text transform="translate(693.4 960) scale(0.1 0.1)" font-size="34" fill="#23238e" text-anchor="start">310.6</text>
<text transform="translate(719.2 960) scale(0.1 0.1)" font-size="44" fill="#23238e" text-anchor="start">屋边向下(%):</text>
<text transform="translate(776 960) scale(0.1 0.1)" font-size="34" fill="#23238e" text-anchor="start">148.9</text>
<text transform="translate(561.6 971.6) scale(0.1 0.1)" font-size="44" fill="#23238e" text-anchor="start">实测光通(lm):</text>
<text transform="translate(616 971.6) scale(0.1 0.1)" font-size="34" fill="#23238e" text-anchor="start">231.8</text>
<text transform="translate(640.6 971.6) scale(0.1 0.1)" font-size="44" fill="#23238e" text-anchor="start">1/2 照度角(°):</text>
<text transform="translate(693.4 971.6) scale(0.1 0.1)" font-size="34" fill="#23238e" text-anchor="start">0.0</text>
<rect x="558.2" y="973.2" width="244.6" height="128.8" fill="#fff"/>
<rect x="558.4" y="974.1" width="120.2" height="127.8" fill="#fff" stroke="#c9b99a" stroke-width="0.8"/>
<rect x="680.2" y="974.1" width="123" height="127.8" fill="#fff" stroke="#c9b99a" stroke-width="0.8"/>
<path d="M616.9 1028.2L616.9 982.9 M617.6 1028.3L620.9 983.1 M618.3 1028.4L624.9 983.7 M618.9 1028.5L628.8 984.8 M619.6 1028.8L632.6 986.2 M620.2 1029.1L636.3 988 M620.8 1029.5L639.9 990.2 M621.4 1029.9L643.3 992.8 M621.9 1030.4L646.5 995.7 M622.4 1030.9L649.4 998.9 M622.9 1031.5L652.1 1002.4 M623.3 1032.2L654.6 1006.2 M623.7 1032.9L656.7 1010.2 M624 1033.6L658.6 1014.4 M624.2 1034.3L660.1 1018.8 M624.5 1035.1L661.3 1023.4 M624.6 1035.9L662.2 1028 M624.7 1036.7L662.7 1032.7 M624.7 1037.5L662.9 1037.5 M624.7 1038.3L662.7 1042.3 M624.6 1039.1L662.2 1047 M624.5 1039.9L661.3 1051.6 M624.2 1040.7L660.1 1056.2 M624 1041.4L658.6 1060.6 M623.7 1042.1L656.7 1064.8 M623.3 1042.8L654.6 1068.8 M622.9 1043.5L652.1 1072.6 M622.4 1044.1L649.4 1076.1 M621.9 1044.6L646.5 1079.3 M621.4 1045.1L643.3 1082.2 M620.8 1045.5L639.9 1084.8 M620.2 1045.9L636.3 1087 M619.6 1046.2L632.6 1088.8 M618.9 1046.5L628.8 1090.2 M618.3 1046.6L624.9 1091.3 M617.6 1046.7L620.9 1091.9 M616.9 1046.8L616.9 1092.1 M616.2 1046.7L612.9 1091.9 M615.5 1046.6L608.9 1091.3 M614.9 1046.5L605 1090.2 M614.2 1046.2L601.2 1088.8 M613.6 1045.9L597.5 1087 M613 1045.5L593.9 1084.8 M612.4 1045.1L590.5 1082.2 M611.9 1044.6L587.3 1079.3 M611.4 1044.1L584.4 1076.1 M610.9 1043.5L581.7 1072.6 M610.5 1042.8L579.2 1068.8 M610.1 1042.1L577.1 1064.8 M609.8 1041.4L575.2 1060.6 M609.6 1040.7L573.7 1056.2 M609.3 1039.9L572.5 1051.6 M609.2 1039.1L571.6 1047 M609.1 1038.3L571.1 1042.3 M609.1 1037.5L570.9 1037.5 M609.1 1036.7L571.1 1032.7 M609.2 1035.9L571.6 1028 M609.3 1035.1L572.5 1023.4 M609.6 1034.3L573.7 1018.8 M609.8 1033.6L575.2 1014.4 M610.1 1032.9L577.1 1010.2 M610.5 1032.2L579.2 1006.2 M610.9 1031.5L581.7 1002.4 M611.4 1030.9L584.4 998.9 M611.9 1030.4L587.3 995.7 M612.4 1029.9L590.5 992.8 M613 1029.5L593.9 990.2 M613.6 1029.1L597.5 988 M614.2 1028.8L601.2 986.2 M614.9 1028.5L605 984.8 M615.5 1028.4L608.9 983.7 M616.2 1028.3L612.9 983.1" fill="none" stroke="#2c2c50" stroke-width="0.3"/>
<path d="M616.9 1028.2L616.9 1015.7 M617.2 1028.2L617.7 1015.7 M617.6 1028.3L618.5 1015.7 M617.9 1028.3L619.3 1015.8 M618.3 1028.4L620.1 1016 M618.6 1028.4L620.9 1016.2 M618.9 1028.5L621.7 1016.4 M619.3 1028.6L622.4 1016.7 M619.6 1028.8L623.2 1017 M619.9 1028.9L623.9 1017.3 M620.2 1029.1L624.7 1017.7 M620.5 1029.3L625.4 1018.1 M620.8 1029.5L626.1 1018.6 M621.1 1029.7L626.8 1019.1 M621.4 1029.9L627.5 1019.6 M621.7 1030.1L628.1 1020.2 M621.9 1030.4L628.7 1020.8 M622.2 1030.7L629.3 1021.4 M622.4 1030.9L629.9 1022.1 M622.7 1031.2L630.5 1022.7 M622.9 1031.5L631 1023.5 M623.1 1031.8L631.5 1024.2 M623.3 1032.2L632 1025 M623.5 1032.5L632.4 1025.8 M623.7 1032.9L632.8 1026.6 M623.8 1033.2L633.2 1027.4 M624 1033.6L633.6 1028.3 M624.1 1033.9L633.9 1029.1 M624.2 1034.3L634.2 1030 M624.4 1034.7L634.4 1030.9 M624.5 1035.1L634.7 1031.8 M624.5 1035.5L634.9 1032.8 M624.6 1035.9L635 1033.7 M624.7 1036.3L635.1 1034.6 M624.7 1036.7L635.2 1035.6 M624.7 1037.1L635.3 1036.5 M624.7 1037.5L635.3 1037.5 M624.7 1037.9L635.3 1038.5 M624.7 1038.3L635.2 1039.4 M624.7 1038.7L635.1 1040.4 M624.6 1039.1L635 1041.3 M624.5 1039.5L634.9 1042.2 M624.5 1039.9L634.7 1043.2 M624.4 1040.3L634.4 1044.1 M624.2 1040.7L634.2 1045 M624.1 1041.1L633.9 1045.9 M624 1041.4L633.6 1046.7 M623.8 1041.8L633.2 1047.6 M623.7 1042.1L632.8 1048.4 M623.5 1042.5L632.4 1049.2 M623.3 1042.8L632 1050 M623.1 1043.2L631.5 1050.8 M622.9 1043.5L631 1051.5 M622.7 1043.8L630.5 1052.3 M622.4 1044.1L629.9 1052.9 M622.2 1044.3L629.3 1053.6 M621.9 1044.6L628.7 1054.2 M621.7 1044.9L628.1 1054.8 M621.4 1045.1L627.5 1055.4 M621.1 1045.3L626.8 1055.9 M620.8 1045.5L626.1 1056.4 M620.5 1045.7L625.4 1056.9 M620.2 1045.9L624.7 1057.3 M619.9 1046.1L623.9 1057.7 M619.6 1046.2L623.2 1058 M619.3 1046.4L622.4 1058.3 M618.9 1046.5L621.7 1058.6 M618.6 1046.6L620.9 1058.8 M618.3 1046.6L620.1 1059 M617.9 1046.7L619.3 1059.2 M617.6 1046.7L618.5 1059.3 M617.2 1046.8L617.7 1059.3 M616.9 1046.8L616.9 1059.3 M616.6 1046.8L616.1 1059.3 M616.2 1046.7L615.3 1059.3 M615.9 1046.7L614.5 1059.2 M615.5 1046.6L613.7 1059 M615.2 1046.6L612.9 1058.8 M614.9 1046.5L612.1 1058.6 M614.5 1046.4L611.4 1058.3 M614.2 1046.2L610.6 1058 M613.9 1046.1L609.9 1057.7 M613.6 1045.9L609.1 1057.3 M613.3 1045.7L608.4 1056.9 M613 1045.5L607.7 1056.4 M612.7 1045.3L607 1055.9 M612.4 1045.1L606.3 1055.4 M612.1 1044.9L605.7 1054.8 M611.9 1044.6L605.1 1054.2 M611.6 1044.3L604.5 1053.6 M611.4 1044.1L603.9 1052.9 M611.1 1043.8L603.3 1052.3 M610.9 1043.5L602.8 1051.5 M610.7 1043.2L602.3 1050.8 M610.5 1042.8L601.8 1050 M610.3 1042.5L601.4 1049.2 M610.1 1042.1L601 1048.4 M610 1041.8L600.6 1047.6 M609.8 1041.4L600.2 1046.7 M609.7 1041.1L599.9 1045.9 M609.6 1040.7L599.6 1045 M609.4 1040.3L599.4 1044.1 M609.3 1039.9L599.1 1043.2 M609.3 1039.5L598.9 1042.2 M609.2 1039.1L598.8 1041.3 M609.1 1038.7L598.7 1040.4 M609.1 1038.3L598.6 1039.4 M609.1 1037.9L598.5 1038.5 M609.1 1037.5L598.5 1037.5 M609.1 1037.1L598.5 1036.5 M609.1 1036.7L598.6 1035.6 M609.1 1036.3L598.7 1034.6 M609.2 1035.9L598.8 1033.7 M609.3 1035.5L598.9 1032.8 M609.3 1035.1L599.1 1031.8 M609.4 1034.7L599.4 1030.9 M609.6 1034.3L599.6 1030 M609.7 1033.9L599.9 1029.1 M609.8 1033.6L600.2 1028.3 M610 1033.2L600.6 1027.4 M610.1 1032.9L601 1026.6 M610.3 1032.5L601.4 1025.8 M610.5 1032.2L601.8 1025 M610.7 1031.8L602.3 1024.2 M610.9 1031.5L602.8 1023.5 M611.1 1031.2L603.3 1022.7 M611.4 1030.9L603.9 1022.1 M611.6 1030.7L604.5 1021.4 M611.9 1030.4L605.1 1020.8 M612.1 1030.1L605.7 1020.2 M612.4 1029.9L606.3 1019.6 M612.7 1029.7L607 1019.1 M613 1029.5L607.7 1018.6 M613.3 1029.3L608.4 1018.1 M613.6 1029.1L609.1 1017.7 M613.9 1028.9L609.9 1017.3 M614.2 1028.8L610.6 1017 M614.5 1028.6L611.4 1016.7 M614.9 1028.5L612.1 1016.4 M615.2 1028.4L612.9 1016.2 M615.5 1028.4L613.7 1016 M615.9 1028.3L614.5 1015.8 M616.2 1028.3L615.3 1015.7 M616.6 1028.2L616.1 1015.7" fill="none" stroke="#9f96d8" stroke-width="0.25"/>
<ellipse cx="616.9" cy="1037.5" rx="9.2" ry="10.9" fill="none" stroke="#5a50b8" stroke-width="0.4"/>
<ellipse cx="616.9" cy="1037.5" rx="18.4" ry="21.8" fill="none" stroke="#5a50b8" stroke-width="0.4"/>
<ellipse cx="616.9" cy="1037.5" rx="27.6" ry="32.8" fill="none" stroke="#2a2a66" stroke-width="0.4"/>
<ellipse cx="616.9" cy="1037.5" rx="36.8" ry="43.7" fill="none" stroke="#2a2a66" stroke-width="0.4"/>
<ellipse cx="616.9" cy="1037.5" rx="46" ry="54.6" fill="none" stroke="#2a2a66" stroke-width="0.5"/>
<ellipse cx="616.9" cy="1037.9" rx="8.3" ry="8.6" fill="#fff"/>
<line x1="608.6" y1="1037.5" x2="625.2" y2="1037.5" stroke="#3a3a8a" stroke-width="0.5"/>
<line x1="616.9" y1="1028.9" x2="616.9" y2="1046.5" stroke="#3a3a8a" stroke-width="0.4"/>
<path d="M616.9 1094 L619.3 1093.9 L621.6 1093.6 L624 1093 L626.3 1092.2 L628.5 1091.3 L630.6 1090.1 L632.6 1088.7 L634.5 1087.1 L636.3 1085.4 L637.9 1083.5 L639.4 1081.5 L640.7 1079.3 L641.8 1077 L642.7 1074.6 L643.4 1072.2 L643.9 1069.7 L644.2 1067.1 L644.3 1064.6 L644.3 1062.2 L644.2 1059.8 L644 1057.4 L643.6 1055 L643 1052.6 L642.2 1050.2 L641 1047.9 L639.6 1045.8 L637.9 1043.9 L635.9 1042.2 L633.8 1040.8 L631.5 1039.7 L629 1038.8 L626.6 1038.3 L624.1 1037.9 L621.7 1037.6 L619.3 1037.6 L616.9 1037.5 L614.9 1037.6 L613 1037.7 L611 1037.9 L609.1 1038.4 L607.1 1039 L605.2 1039.9 L603.4 1041 L601.7 1042.4 L600.1 1044.1 L598.7 1046 L597.6 1048.1 L596.7 1050.3 L595.9 1052.6 L595.4 1055 L595.1 1057.4 L594.9 1059.8 L594.8 1062.2 L594.8 1064.6 L594.8 1067.1 L595.1 1069.7 L595.5 1072.2 L596.1 1074.6 L596.8 1077 L597.7 1079.3 L598.8 1081.5 L599.9 1083.5 L601.2 1085.4 L602.6 1087.1 L604.2 1088.7 L605.8 1090.1 L607.5 1091.3 L609.3 1092.2 L611.1 1093 L613 1093.6 L614.9 1093.9 L616.9 1094Z" fill="none" stroke="#e0452f" stroke-width="0.9" stroke-linejoin="round"/>
<path d="M616.9 1093.9 L619.1 1093.8 L621.4 1093.4 L623.7 1092.9 L625.8 1092.1 L627.9 1091.1 L630 1089.9 L631.9 1088.6 L633.7 1087 L635.4 1085.3 L637 1083.4 L638.4 1081.3 L639.6 1079.2 L640.6 1076.9 L641.5 1074.5 L642.2 1072.1 L642.7 1069.6 L643 1067 L643.1 1064.5 L643.1 1062.1 L643 1059.7 L642.7 1057.4 L642.3 1055 L641.7 1052.6 L640.8 1050.3 L639.7 1048 L638.4 1046 L636.7 1044.1 L634.9 1042.4 L632.9 1041 L630.7 1039.9 L628.4 1039 L626.1 1038.4 L623.8 1037.9 L621.5 1037.7 L619.2 1037.6 L616.9 1037.5 L614.9 1037.6 L612.9 1037.7 L610.9 1037.9 L608.9 1038.4 L606.9 1039 L605 1039.9 L603.1 1041 L601.3 1042.4 L599.8 1044.1 L598.4 1046 L597.2 1048 L596.2 1050.3 L595.5 1052.6 L595 1055 L594.6 1057.4 L594.4 1059.7 L594.3 1062.1 L594.3 1064.5 L594.4 1067 L594.6 1069.6 L595.1 1072.1 L595.7 1074.5 L596.4 1076.9 L597.3 1079.2 L598.4 1081.3 L599.6 1083.4 L600.9 1085.3 L602.4 1087 L603.9 1088.6 L605.6 1089.9 L607.3 1091.1 L609.1 1092.1 L611 1092.9 L612.9 1093.4 L614.9 1093.8 L616.9 1093.9Z" fill="none" stroke="#6cc23a" stroke-width="0.9" stroke-linejoin="round"/>
<path d="M616.9 1093.7 L618.8 1093.6 L620.7 1093.3 L622.5 1092.7 L624.4 1091.9 L626.1 1091 L627.8 1089.8 L629.4 1088.4 L631 1086.9 L632.4 1085.1 L633.7 1083.2 L634.8 1081.2 L635.9 1079.1 L636.8 1076.8 L637.5 1074.4 L638.1 1072 L638.5 1069.5 L638.7 1067 L638.8 1064.4 L638.8 1062.1 L638.7 1059.7 L638.4 1057.3 L638 1055 L637.5 1052.6 L636.7 1050.3 L635.8 1048.2 L634.6 1046.1 L633.3 1044.3 L631.8 1042.6 L630.1 1041.2 L628.3 1040.1 L626.5 1039.1 L624.6 1038.5 L622.6 1038 L620.7 1037.7 L618.8 1037.6 L616.9 1037.5 L615 1037.8 L613.3 1038.3 L611.5 1039.1 L609.9 1040 L608.4 1041.1 L606.9 1042.3 L605.5 1043.6 L604.1 1045 L602.9 1046.5 L601.7 1048.1 L600.6 1049.8 L599.6 1051.6 L598.6 1053.5 L597.8 1055.5 L597 1057.6 L596.5 1059.8 L596 1062.1 L595.8 1064.4 L595.9 1067 L596.1 1069.5 L596.5 1072 L597.1 1074.4 L597.8 1076.8 L598.6 1079.1 L599.6 1081.2 L600.7 1083.2 L602 1085.1 L603.3 1086.9 L604.8 1088.4 L606.3 1089.8 L608 1091 L609.7 1091.9 L611.4 1092.7 L613.2 1093.3 L615 1093.6 L616.9 1093.7Z" fill="none" stroke="#3a35b0" stroke-width="0.9" stroke-linejoin="round"/>
<path d="M616.9 1093.4 L618.6 1093.3 L620.3 1093 L622 1092.4 L623.6 1091.6 L625.2 1090.7 L626.8 1089.5 L628.2 1088.1 L629.6 1086.6 L630.9 1084.9 L632 1083 L633.1 1081 L634 1078.8 L634.8 1076.6 L635.5 1074.2 L636 1071.8 L636.4 1069.3 L636.6 1066.8 L636.7 1064.2 L636.3 1062 L635.6 1059.8 L634.9 1057.7 L634 1055.8 L633.1 1054 L632.2 1052.3 L631.2 1050.7 L630.2 1049.2 L629.1 1047.7 L628 1046.3 L626.9 1044.9 L625.7 1043.6 L624.4 1042.3 L623.1 1041.1 L621.7 1040 L620.2 1038.9 L618.6 1038.1 L616.9 1037.5 L615.1 1038.1 L613.4 1038.9 L611.8 1040 L610.3 1041.1 L608.9 1042.3 L607.6 1043.6 L606.3 1044.9 L605.2 1046.3 L604 1047.7 L602.9 1049.2 L601.8 1050.7 L600.8 1052.3 L599.8 1054 L598.9 1055.8 L598 1057.7 L597.2 1059.8 L596.5 1062 L596.1 1064.2 L596.2 1066.8 L596.5 1069.3 L596.8 1071.8 L597.4 1074.2 L598.1 1076.6 L598.9 1078.8 L599.9 1081 L601 1083 L602.2 1084.9 L603.5 1086.6 L605 1088.1 L606.5 1089.5 L608.1 1090.7 L609.8 1091.6 L611.5 1092.4 L613.3 1093 L615.1 1093.3 L616.9 1093.4Z" fill="none" stroke="#45c8d8" stroke-width="0.9" stroke-linejoin="round"/>
<text transform="translate(616.9 982.1) scale(0.1 0.1)" font-size="32" fill="#1a1a5a" text-anchor="middle">537</text>
<text transform="translate(616.9 992.4) scale(0.1 0.1)" font-size="32" fill="#1a1a5a" text-anchor="middle">429</text>
<text transform="translate(616.9 1002.8) scale(0.1 0.1)" font-size="32" fill="#1a1a5a" text-anchor="middle">322</text>
<text transform="translate(616.9 1013.1) scale(0.1 0.1)" font-size="32" fill="#1a1a5a" text-anchor="middle">215</text>
<text transform="translate(616.9 1023.4) scale(0.1 0.1)" font-size="32" fill="#1a1a5a" text-anchor="middle">107</text>
<text transform="translate(616.9 1036.9) scale(0.1 0.1)" font-size="32" fill="#1a1a5a" text-anchor="middle">0</text>
<text transform="translate(590 988.1) scale(0.1 0.1)" font-size="32" fill="#1a1a5a" text-anchor="middle">-150</text>
<text transform="translate(643.3 988.1) scale(0.1 0.1)" font-size="32" fill="#1a1a5a" text-anchor="middle">150</text>
<text transform="translate(573.1 1008.5) scale(0.1 0.1)" font-size="32" fill="#1a1a5a" text-anchor="middle">-120</text>
<text transform="translate(660.1 1008.5) scale(0.1 0.1)" font-size="32" fill="#1a1a5a" text-anchor="middle">120</text>
<text transform="translate(567.6 1038) scale(0.1 0.1)" font-size="32" fill="#1a1a5a" text-anchor="middle">-90</text>
<text transform="translate(665.2 1038) scale(0.1 0.1)" font-size="32" fill="#1a1a5a" text-anchor="middle">90</text>
<text transform="translate(574.2 1070.2) scale(0.1 0.1)" font-size="32" fill="#1a1a5a" text-anchor="middle">-60</text>
<text transform="translate(591.1 1090.3) scale(0.1 0.1)" font-size="32" fill="#1a1a5a" text-anchor="middle">-30</text>
<text transform="translate(642.2 1090.3) scale(0.1 0.1)" font-size="32" fill="#1a1a5a" text-anchor="middle">30</text>
<text transform="translate(616.9 1098.3) scale(0.1 0.1)" font-size="32" fill="#1a1a5a" text-anchor="middle">0</text>
<text transform="translate(657.6 1072.6) scale(0.1 0.1)" font-size="38" fill="#111" text-anchor="start">光强单位:cd</text>
<line x1="653.2" y1="1076.2" x2="657.8" y2="1076.2" stroke="#45c8d8" stroke-width="0.8"/>
<text transform="translate(660 1077.5) scale(0.1 0.1)" font-size="33" fill="#1a1a5a" text-anchor="start">C0/180</text>
<line x1="653.2" y1="1080.9" x2="657.8" y2="1080.9" stroke="#3a35b0" stroke-width="0.8"/>
<text transform="translate(660 1082.2) scale(0.1 0.1)" font-size="33" fill="#1a1a5a" text-anchor="start">C30/210</text>
<line x1="653.2" y1="1085.9" x2="657.8" y2="1085.9" stroke="#6cc23a" stroke-width="0.8"/>
<text transform="translate(660 1087.2) scale(0.1 0.1)" font-size="33" fill="#1a1a5a" text-anchor="start">C60/240</text>
<line x1="653.2" y1="1090.8" x2="657.8" y2="1090.8" stroke="#e0452f" stroke-width="0.8"/>
<text transform="translate(660 1092.1) scale(0.1 0.1)" font-size="33" fill="#1a1a5a" text-anchor="start">C90/270</text>
<path d="M694.5 982V1085.1 M700.1 982V1085.1 M705.6 982V1085.1 M711.2 982V1085.1 M716.8 982V1085.1 M722.3 982V1085.1 M727.9 982V1085.1 M733.5 982V1085.1 M739 982V1085.1 M744.6 982V1085.1 M750.2 982V1085.1 M755.7 982V1085.1 M761.3 982V1085.1 M766.9 982V1085.1 M772.4 982V1085.1 M778 982V1085.1 M783.6 982V1085.1 M789.1 982V1085.1 M794.7 982V1085.1 M694.5 982H794.7 M694.5 992.3H794.7 M694.5 1002.6H794.7 M694.5 1012.9H794.7 M694.5 1023.2H794.7 M694.5 1033.5H794.7 M694.5 1043.9H794.7 M694.5 1054.2H794.7 M694.5 1064.5H794.7 M694.5 1074.8H794.7 M694.5 1085.1H794.7" fill="none" stroke="#aab0e0" stroke-width="0.6"/>
<line x1="709.1" y1="1012" x2="709.1" y2="1085.1" stroke="#e6d890" stroke-width="0.5"/>
<line x1="710" y1="1012" x2="710" y2="1085.1" stroke="#c0c0c0" stroke-width="0.5"/>
<line x1="710.9" y1="1012" x2="710.9" y2="1085.1" stroke="#b0b0b0" stroke-width="0.5"/>
<line x1="711.8" y1="1012" x2="711.8" y2="1085.1" stroke="#9ab0d8" stroke-width="0.5"/>
<line x1="772.5" y1="1012" x2="772.5" y2="1085.1" stroke="#7fd0dc" stroke-width="0.5"/>
<line x1="777.2" y1="1012" x2="777.2" y2="1085.1" stroke="#5a55c0" stroke-width="0.5"/>
<line x1="782.4" y1="1012" x2="782.4" y2="1085.1" stroke="#c8e0a0" stroke-width="0.5"/>
<line x1="784.9" y1="1012" x2="784.9" y2="1085.1" stroke="#f0b898" stroke-width="0.5"/>
<path d="M694.5 1085.1 L696.5 1081.1 L701.1 1068 L705.7 1053.6 L711.1 1034.3 L716.4 1020.4 L721 1009.8 L725.7 1001 L730.3 993.2 L734.9 987.4 L739.5 983.3 L742.5 982 L747.1 982.8 L751.7 985.5 L756.4 992 L761 1000.5 L765.6 1012.5 L770.2 1025.5 L774.8 1040.8 L779.4 1056.1 L784 1071.1 L787 1079.2 L790.1 1084 L792.4 1085 L794.7 1084.2" fill="none" stroke="#45c8d8" stroke-width="0.9" stroke-linejoin="round"/>
<path d="M694.5 1069.8 L698 1064.5 L701.1 1058.4 L705.7 1046.1 L710.3 1034.6 L715.7 1021.2 L721 1008.4 L725.7 998.7 L730.3 991.4 L734.9 985.9 L739.5 983.7 L742.5 982.5 L747.1 983.6 L751.7 986.6 L756.4 993.3 L761 999.3 L765.6 1008.2 L770.2 1018.1 L774.8 1029.1 L779.4 1039.2 L784 1050 L788.6 1059.2 L791.7 1064.6 L794.7 1070.1" fill="none" stroke="#3a35b0" stroke-width="0.9" stroke-linejoin="round"/>
<path d="M694.5 1063.6 L698 1058.1 L701.1 1053.2 L705.7 1042.5 L711.1 1031 L716.4 1020 L721 1009.7 L725.7 1002 L730.3 994.5 L734.9 988.6 L739.5 985 L743.3 981.7 L748.7 983.7 L754.8 986.6 L759.4 991.9 L764 997.4 L768.6 1003.9 L773.2 1011.7 L777.8 1020.2 L782.4 1029.9 L785.5 1036.4 L788.6 1041.8 L791.7 1047.9 L794.7 1053.7" fill="none" stroke="#6cc23a" stroke-width="0.9" stroke-linejoin="round"/>
<path d="M694.5 1064.6 L698 1059.4 L701.1 1054.7 L705.7 1044.5 L711.1 1032.7 L716.4 1020.8 L721 1010.4 L725.7 1002.5 L730.3 994.9 L734.9 989.5 L739.5 984.9 L744.1 982.4 L750.2 983.7 L754.8 985.8 L759.4 988.7 L761.7 992.8 L764 994.2 L768.6 1000.6 L773.2 1007.5 L777.8 1017.2 L782.4 1026.9 L785.5 1034.5 L788.6 1038.9 L791.7 1044.9 L794.7 1051.4" fill="none" stroke="#e0452f" stroke-width="0.9" stroke-linejoin="round"/>
<text transform="translate(693 983.2) scale(0.1 0.1)" font-size="32" fill="#1a1a5a" text-anchor="end">537</text>
<text transform="translate(693 1003.8) scale(0.1 0.1)" font-size="32" fill="#1a1a5a" text-anchor="end">429</text>
<text transform="translate(693 1024.4) scale(0.1 0.1)" font-size="32" fill="#1a1a5a" text-anchor="end">322</text>
<text transform="translate(693 1045.1) scale(0.1 0.1)" font-size="32" fill="#1a1a5a" text-anchor="end">215</text>
<text transform="translate(693 1065.7) scale(0.1 0.1)" font-size="32" fill="#1a1a5a" text-anchor="end">107</text>
<text transform="translate(693 1086.3) scale(0.1 0.1)" font-size="32" fill="#1a1a5a" text-anchor="end">0</text>
<text transform="translate(694.5 1091.2) scale(0.1 0.1)" font-size="32" fill="#1a1a5a" text-anchor="middle">-90</text>
<text transform="translate(711.2 1091.2) scale(0.1 0.1)" font-size="32" fill="#1a1a5a" text-anchor="middle">-60</text>
<text transform="translate(727.9 1091.2) scale(0.1 0.1)" font-size="32" fill="#1a1a5a" text-anchor="middle">-30</text>
<text transform="translate(744.6 1091.2) scale(0.1 0.1)" font-size="32" fill="#1a1a5a" text-anchor="middle">0</text>
<text transform="translate(761.3 1091.2) scale(0.1 0.1)" font-size="32" fill="#1a1a5a" text-anchor="middle">30</text>
<text transform="translate(778 1091.2) scale(0.1 0.1)" font-size="32" fill="#1a1a5a" text-anchor="middle">60</text>
<text transform="translate(794.7 1091.2) scale(0.1 0.1)" font-size="32" fill="#1a1a5a" text-anchor="middle">90</text>
<text transform="translate(741 1096.6) scale(0.1 0.1)" font-size="40" fill="#111" text-anchor="middle">角 度(°)</text>
<text transform="translate(684.6 1033.6) rotate(-90) scale(0.1 0.1)" font-size="38" fill="#111" text-anchor="middle">光强(cd)</text>
<line x1="696.6" y1="987.7" x2="703.4" y2="987.7" stroke="#45c8d8" stroke-width="0.9"/>
<text transform="translate(705 989) scale(0.1 0.1)" font-size="33" fill="#1a1a5a" text-anchor="start">C0/180</text>
<line x1="696.6" y1="993" x2="703.4" y2="993" stroke="#3a35b0" stroke-width="0.9"/>
<text transform="translate(705 994.3) scale(0.1 0.1)" font-size="33" fill="#1a1a5a" text-anchor="start">C30/210</text>
<line x1="696.6" y1="998.7" x2="703.4" y2="998.7" stroke="#6cc23a" stroke-width="0.9"/>
<text transform="translate(705 1000) scale(0.1 0.1)" font-size="33" fill="#1a1a5a" text-anchor="start">C60/240</text>
<line x1="696.6" y1="1004.5" x2="703.4" y2="1004.5" stroke="#e0452f" stroke-width="0.9"/>
<text transform="translate(705 1005.8) scale(0.1 0.1)" font-size="33" fill="#1a1a5a" text-anchor="start">C90/270</text>
</g>
</svg>
</body></html>
